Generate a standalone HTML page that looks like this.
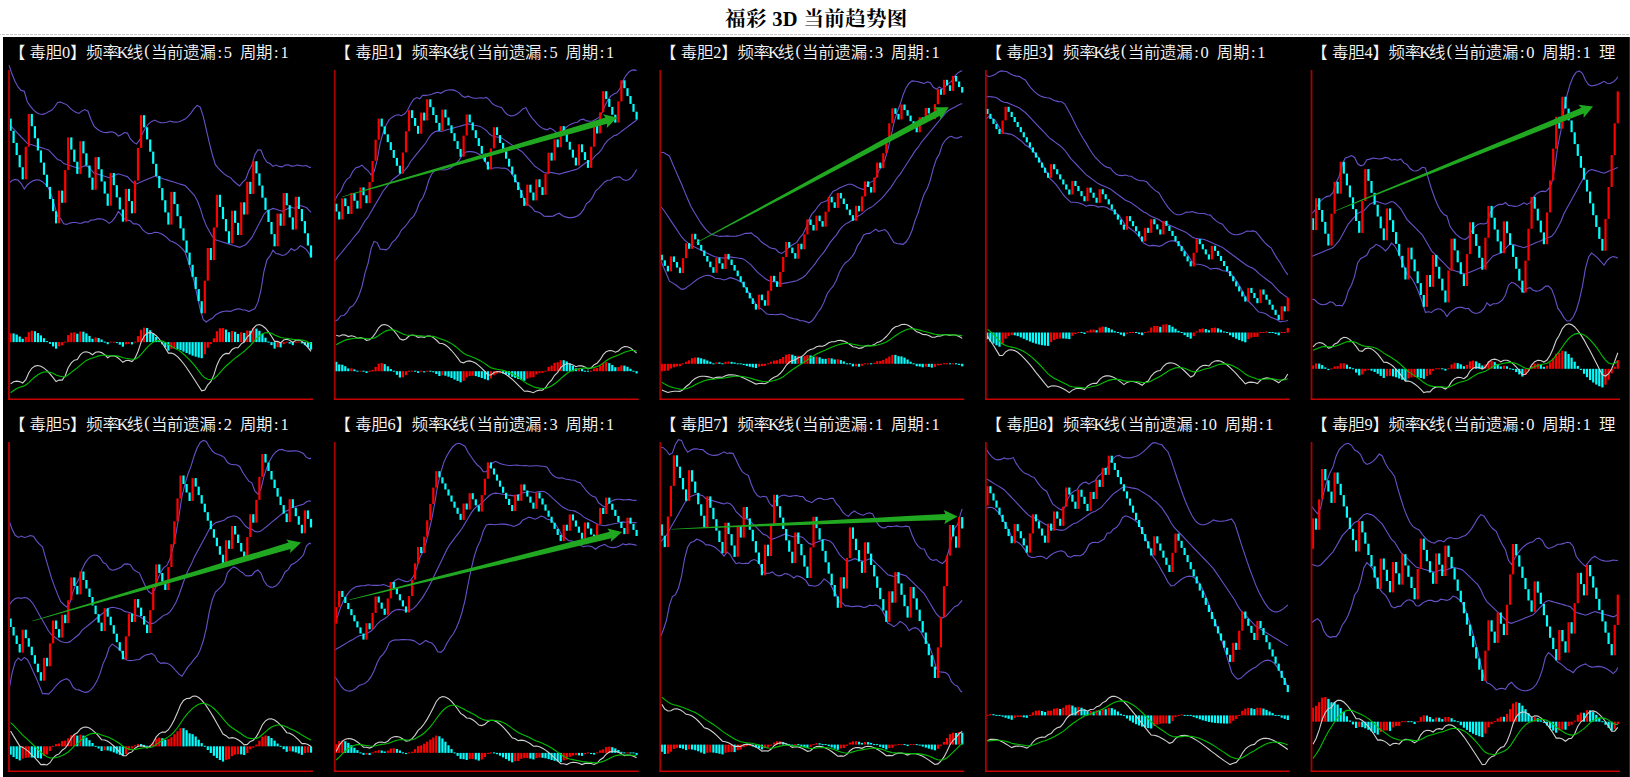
<!DOCTYPE html>
<html><head><meta charset="utf-8"><title>福彩3D当前趋势图</title>
<style>
html,body{margin:0;padding:0;background:#fff;overflow:hidden}
svg{display:block}
.ct{font-family:"Liberation Serif","Noto Sans CJK SC",sans-serif;font-size:16.4px;font-weight:350;fill:#f4f4f4;text-anchor:middle}
.bd{fill:none;stroke:#6652c8;stroke-width:1.1}
.dw{fill:none;stroke:#d0d0d0;stroke-width:1.1}
.dg{fill:none;stroke:#00c000;stroke-width:1.1}
.ar{stroke:#22aa22;stroke-width:2.2}
</style></head><body>
<svg width="1630" height="777" viewBox="0 0 1630 777">

<rect x="0" y="0" width="1630" height="777" fill="#fff"/>
<text x="816.4" y="26" text-anchor="middle" style="font-family:'Liberation Serif','Noto Serif CJK SC',serif;font-weight:bold;font-size:20.5px;letter-spacing:0.35px;fill:#000">福彩 3D 当前趋势图</text>
<line x1="0" y1="34.5" x2="1630" y2="34.5" stroke="#c8c8c8" stroke-width="1" stroke-dasharray="3 1" stroke-dashoffset="-2"/>
<rect x="3" y="37" width="1627" height="740" fill="#000"/>
<rect x="1629" y="37" width="1" height="740" fill="#2c2c2c"/>
<clipPath id="cp0"><rect x="8" y="37" width="323.4" height="372"/></clipPath><g clip-path="url(#cp0)"><text x="17.1 37.8 54 66.1 78.2 94.4 110.6 122.7 134.9 147 159.1 175.3 191.5 207.7 219.8 227.9 236 248.1 264.3 276.4 284.5" y="57.5 57.5 57.5 57.5 57.5 57.5 57.5 57.5 57.5 55.7 57.5 57.5 57.5 57.5 57.5 57.5 57.5 57.5 57.5 57.5 57.5" class="ct">【毒胆0】频率K线(当前遗漏:5&#160;周期:1</text><polyline points="9.1,65.3 12.1,74.3 15.2,81.8 18.2,87.2 21.2,90.4 24.3,91.3 27.3,101.7 30.3,106.1 33.4,109.8 36.4,112.5 39.4,114 42.5,114.4 45.5,113.6 48.5,111.8 51.6,110.3 54.6,107 57.6,102.5 60.7,102.1 63.7,103.5 66.7,104.6 69.8,107.8 72.8,110.4 75.8,112.3 78.9,113.4 81.9,110.9 84.9,109.6 88,111.2 91,119.5 94,126.1 97.1,129 100.1,131.1 103.1,132.3 106.2,132.6 109.2,132.1 112.2,131.7 115.3,133 118.3,136.1 121.3,134.7 124.4,132.5 127.4,133.1 130.4,138.9 133.5,142.1 136.5,144.1 139.5,140.1 142.6,133 145.6,127.7 148.6,123.9 151.7,121.4 154.7,120.1 157.7,121.7 160.8,122.6 163.8,122.7 166.9,122.2 169.9,121 172.9,121.9 176,122.1 179,121.7 182,120.6 185.1,119.1 188.1,116.4 191.1,112.8 194.2,108.4 197.2,105.4 200.2,107.1 203.3,116.6 206.3,129.6 209.3,142.7 212.4,155 215.4,164.7 218.4,168.3 221.5,171.5 224.5,174.1 227.5,176.2 230.6,177.6 233.6,181 236.6,183.7 239.7,185.9 242.7,182.1 245.7,179.5 248.8,170.8 251.8,165.3 254.8,154.9 257.9,149.8 260.9,150.1 263.9,157.5 267,162.2 270,163.5 273,166.4 276.1,165 279.1,166.4 282.1,166.9 285.2,165.1 288.2,164.8 291.2,166.1 294.3,166 297.3,165 300.3,165.6 303.4,166 306.4,165.5 309.4,167.4 311,167.2" class="bd"/><polyline points="9.1,124.2 12.1,127.4 15.2,130.6 18.2,133.8 21.2,137 24.3,140.1 27.3,143.3 30.3,144.3 33.4,145.2 36.4,146.2 39.4,147.1 42.5,148 45.5,149 48.5,149.9 51.6,153.1 54.6,156.3 57.6,159.5 60.7,160.4 63.7,163.6 66.7,164.5 69.8,165.5 72.8,166.4 75.8,167.4 78.9,168.3 81.9,167 84.9,165.7 88,166.6 91,169.8 94,173 97.1,173.9 100.1,174.9 103.1,175.8 106.2,176.8 109.2,177.7 112.2,176.4 115.3,175.1 118.3,173.8 121.3,174.8 124.4,175.7 127.4,176.6 130.4,179.8 133.5,183 136.5,183.9 139.5,182.6 142.6,181.3 145.6,180 148.6,178.7 151.7,177.4 154.7,176.1 157.7,177.1 160.8,178 163.8,179 166.9,179.9 169.9,180.9 172.9,181.8 176,182.7 179,183.7 182,184.6 185.1,185.6 188.1,188.7 191.1,191.9 194.2,195.1 197.2,200.5 200.2,208.2 203.3,218.1 206.3,225.8 209.3,231.2 212.4,236.6 215.4,239.8 218.4,240.8 221.5,241.7 224.5,242.6 227.5,243.6 230.6,244.5 233.6,245.5 236.6,246.4 239.7,247.3 242.7,246 245.7,244.7 248.8,241.2 251.8,237.7 254.8,231.9 257.9,226.1 260.9,220.3 263.9,214.5 267,211 270,209.7 273,208.4 276.1,209.3 279.1,210.3 282.1,211.2 285.2,209.9 288.2,208.6 291.2,207.3 294.3,208.2 297.3,206.9 300.3,205.6 303.4,206.6 306.4,207.5 309.4,210.7 311,212.3" class="bd"/><polyline points="9.1,183.1 12.1,180.5 15.2,179.4 18.2,180.3 21.2,183.5 24.3,189 27.3,185 30.3,182.4 33.4,180.6 36.4,179.8 39.4,180.1 42.5,181.7 45.5,184.4 48.5,188 51.6,195.9 54.6,205.6 57.6,216.4 60.7,218.7 63.7,223.7 66.7,224.4 69.8,223.1 72.8,222.5 75.8,222.5 78.9,223.2 81.9,223.1 84.9,221.8 88,222.1 91,220.1 94,220 97.1,218.9 100.1,218.7 103.1,219.3 106.2,220.9 109.2,223.4 112.2,221.1 115.3,217.2 118.3,211.5 121.3,214.8 124.4,218.9 127.4,220.1 130.4,220.8 133.5,223.9 136.5,223.8 139.5,225.2 142.6,229.7 145.6,232.4 148.6,233.6 151.7,233.5 154.7,232.2 157.7,232.5 160.8,233.5 163.8,235.2 166.9,237.6 169.9,240.7 172.9,241.7 176,243.4 179,245.7 182,248.6 185.1,252.1 188.1,261.1 191.1,271.1 194.2,281.8 197.2,295.6 200.2,309.3 203.3,319.6 206.3,322 209.3,319.7 212.4,318.3 215.4,314.9 218.4,313.2 221.5,311.9 224.5,311.2 227.5,311 230.6,311.4 233.6,310 236.6,309.1 239.7,308.8 242.7,310 245.7,310 248.8,311.6 251.8,310 254.8,308.8 257.9,302.4 260.9,290.5 263.9,271.6 267,259.8 270,255.9 273,250.3 276.1,253.6 279.1,254.1 282.1,255.5 285.2,254.7 288.2,252.4 291.2,248.5 294.3,250.5 297.3,248.9 300.3,245.7 303.4,247.2 306.4,249.6 309.4,254 311,257.4" class="bd"/><rect x="9.5" y="118.6" width="2.2" height="12.2" fill="#00ffff"/><rect x="12.5" y="130.8" width="2.2" height="12.2" fill="#00ffff"/><rect x="15.6" y="142.9" width="2.2" height="12.2" fill="#00ffff"/><rect x="18.6" y="155.1" width="2.2" height="12.2" fill="#00ffff"/><rect x="21.6" y="167.2" width="2.2" height="12.2" fill="#00ffff"/><rect x="24.7" y="146.7" width="2.2" height="32.7" fill="#ff0000"/><rect x="27.7" y="114" width="2.2" height="32.7" fill="#ff0000"/><rect x="30.7" y="114" width="2.2" height="12.2" fill="#00ffff"/><rect x="33.8" y="126.1" width="2.2" height="12.1" fill="#00ffff"/><rect x="36.8" y="138.3" width="2.2" height="12.2" fill="#00ffff"/><rect x="39.8" y="150.4" width="2.2" height="12.2" fill="#00ffff"/><rect x="42.9" y="162.6" width="2.2" height="12.2" fill="#00ffff"/><rect x="45.9" y="174.7" width="2.2" height="12.2" fill="#00ffff"/><rect x="48.9" y="186.9" width="2.2" height="12.2" fill="#00ffff"/><rect x="52" y="199" width="2.2" height="12.2" fill="#00ffff"/><rect x="55" y="211.2" width="2.2" height="12.2" fill="#00ffff"/><rect x="58" y="190.6" width="2.2" height="32.7" fill="#ff0000"/><rect x="61.1" y="190.6" width="2.2" height="12.2" fill="#00ffff"/><rect x="64.1" y="170.1" width="2.2" height="32.7" fill="#ff0000"/><rect x="67.1" y="137.4" width="2.2" height="32.7" fill="#ff0000"/><rect x="70.2" y="137.4" width="2.2" height="12.2" fill="#00ffff"/><rect x="73.2" y="149.6" width="2.2" height="12.2" fill="#00ffff"/><rect x="76.2" y="161.7" width="2.2" height="12.2" fill="#00ffff"/><rect x="79.3" y="141.2" width="2.2" height="32.7" fill="#ff0000"/><rect x="82.3" y="141.2" width="2.2" height="12.2" fill="#00ffff"/><rect x="85.3" y="153.3" width="2.2" height="12.2" fill="#00ffff"/><rect x="88.4" y="165.5" width="2.2" height="12.2" fill="#00ffff"/><rect x="91.4" y="177.6" width="2.2" height="12.2" fill="#00ffff"/><rect x="94.5" y="157.1" width="2.2" height="32.7" fill="#ff0000"/><rect x="97.5" y="157.1" width="2.2" height="12.2" fill="#00ffff"/><rect x="100.5" y="169.3" width="2.2" height="12.2" fill="#00ffff"/><rect x="103.6" y="181.4" width="2.2" height="12.2" fill="#00ffff"/><rect x="106.6" y="193.6" width="2.2" height="12.2" fill="#00ffff"/><rect x="109.6" y="173" width="2.2" height="32.7" fill="#ff0000"/><rect x="112.7" y="173" width="2.2" height="12.2" fill="#00ffff"/><rect x="115.7" y="185.2" width="2.2" height="12.2" fill="#00ffff"/><rect x="118.7" y="197.3" width="2.2" height="12.2" fill="#00ffff"/><rect x="121.8" y="209.5" width="2.2" height="12.2" fill="#00ffff"/><rect x="124.8" y="188.9" width="2.2" height="32.7" fill="#ff0000"/><rect x="127.8" y="188.9" width="2.2" height="12.2" fill="#00ffff"/><rect x="130.9" y="201.1" width="2.2" height="12.2" fill="#00ffff"/><rect x="133.9" y="180.6" width="2.2" height="32.7" fill="#ff0000"/><rect x="136.9" y="147.9" width="2.2" height="32.7" fill="#ff0000"/><rect x="140" y="115.2" width="2.2" height="32.7" fill="#ff0000"/><rect x="143" y="115.2" width="2.2" height="12.2" fill="#00ffff"/><rect x="146" y="127.3" width="2.2" height="12.1" fill="#00ffff"/><rect x="149.1" y="139.5" width="2.2" height="12.2" fill="#00ffff"/><rect x="152.1" y="151.6" width="2.2" height="12.2" fill="#00ffff"/><rect x="155.1" y="163.8" width="2.2" height="12.2" fill="#00ffff"/><rect x="158.2" y="175.9" width="2.2" height="12.2" fill="#00ffff"/><rect x="161.2" y="188.1" width="2.2" height="12.2" fill="#00ffff"/><rect x="164.2" y="200.2" width="2.2" height="12.2" fill="#00ffff"/><rect x="167.3" y="212.4" width="2.2" height="12.2" fill="#00ffff"/><rect x="170.3" y="191.9" width="2.2" height="32.7" fill="#ff0000"/><rect x="173.3" y="191.9" width="2.2" height="12.2" fill="#00ffff"/><rect x="176.4" y="204" width="2.2" height="12.2" fill="#00ffff"/><rect x="179.4" y="216.2" width="2.2" height="12.2" fill="#00ffff"/><rect x="182.4" y="228.3" width="2.2" height="12.2" fill="#00ffff"/><rect x="185.5" y="240.5" width="2.2" height="12.2" fill="#00ffff"/><rect x="188.5" y="252.6" width="2.2" height="12.2" fill="#00ffff"/><rect x="191.5" y="264.8" width="2.2" height="12.1" fill="#00ffff"/><rect x="194.6" y="276.9" width="2.2" height="12.1" fill="#00ffff"/><rect x="197.6" y="289.1" width="2.2" height="12.1" fill="#00ffff"/><rect x="200.6" y="301.2" width="2.2" height="12.1" fill="#00ffff"/><rect x="203.7" y="280.7" width="2.2" height="32.7" fill="#ff0000"/><rect x="206.7" y="248" width="2.2" height="32.7" fill="#ff0000"/><rect x="209.7" y="248" width="2.2" height="12.1" fill="#00ffff"/><rect x="212.8" y="227.5" width="2.2" height="32.7" fill="#ff0000"/><rect x="215.8" y="194.8" width="2.2" height="32.7" fill="#ff0000"/><rect x="218.8" y="194.8" width="2.2" height="12.2" fill="#00ffff"/><rect x="221.9" y="206.9" width="2.2" height="12.2" fill="#00ffff"/><rect x="224.9" y="219.1" width="2.2" height="12.2" fill="#00ffff"/><rect x="227.9" y="231.2" width="2.2" height="12.2" fill="#00ffff"/><rect x="231" y="210.7" width="2.2" height="32.7" fill="#ff0000"/><rect x="234" y="210.7" width="2.2" height="12.2" fill="#00ffff"/><rect x="237" y="222.8" width="2.2" height="12.2" fill="#00ffff"/><rect x="240.1" y="202.3" width="2.2" height="32.7" fill="#ff0000"/><rect x="243.1" y="202.3" width="2.2" height="12.2" fill="#00ffff"/><rect x="246.2" y="181.8" width="2.2" height="32.7" fill="#ff0000"/><rect x="249.2" y="181.8" width="2.2" height="12.2" fill="#00ffff"/><rect x="252.2" y="161.2" width="2.2" height="32.7" fill="#ff0000"/><rect x="255.3" y="161.2" width="2.2" height="12.2" fill="#00ffff"/><rect x="258.3" y="173.4" width="2.2" height="12.2" fill="#00ffff"/><rect x="261.3" y="185.5" width="2.2" height="12.2" fill="#00ffff"/><rect x="264.4" y="197.7" width="2.2" height="12.2" fill="#00ffff"/><rect x="267.4" y="209.8" width="2.2" height="12.2" fill="#00ffff"/><rect x="270.4" y="222" width="2.2" height="12.2" fill="#00ffff"/><rect x="273.5" y="234.1" width="2.2" height="12.2" fill="#00ffff"/><rect x="276.5" y="213.6" width="2.2" height="32.7" fill="#ff0000"/><rect x="279.5" y="213.6" width="2.2" height="12.2" fill="#00ffff"/><rect x="282.6" y="193.1" width="2.2" height="32.7" fill="#ff0000"/><rect x="285.6" y="193.1" width="2.2" height="12.2" fill="#00ffff"/><rect x="288.6" y="205.2" width="2.2" height="12.2" fill="#00ffff"/><rect x="291.7" y="217.4" width="2.2" height="12.2" fill="#00ffff"/><rect x="294.7" y="196.8" width="2.2" height="32.7" fill="#ff0000"/><rect x="297.7" y="196.8" width="2.2" height="12.2" fill="#00ffff"/><rect x="300.8" y="209" width="2.2" height="12.2" fill="#00ffff"/><rect x="303.8" y="221.1" width="2.2" height="12.2" fill="#00ffff"/><rect x="306.8" y="233.3" width="2.2" height="12.2" fill="#00ffff"/><rect x="309.9" y="245.4" width="2.2" height="12.1" fill="#00ffff"/><rect x="9.5" y="333.4" width="2.2" height="8.8" fill="#ff0000"/><rect x="12.5" y="333.4" width="2.2" height="8.7" fill="#00ffff"/><rect x="15.6" y="334.6" width="2.2" height="7.5" fill="#00ffff"/><rect x="18.6" y="336.5" width="2.2" height="5.6" fill="#00ffff"/><rect x="21.6" y="338.8" width="2.2" height="3.3" fill="#00ffff"/><rect x="24.7" y="336.8" width="2.2" height="5.3" fill="#ff0000"/><rect x="27.7" y="332.2" width="2.2" height="9.9" fill="#ff0000"/><rect x="30.7" y="330.7" width="2.2" height="11.4" fill="#ff0000"/><rect x="33.8" y="331.2" width="2.2" height="10.9" fill="#00ffff"/><rect x="36.8" y="333" width="2.2" height="9.2" fill="#00ffff"/><rect x="39.8" y="335.4" width="2.2" height="6.7" fill="#00ffff"/><rect x="42.9" y="338.2" width="2.2" height="3.9" fill="#00ffff"/><rect x="45.9" y="341.1" width="2.2" height="1" fill="#00ffff"/><rect x="48.9" y="342.1" width="2.2" height="1.7" fill="#00ffff"/><rect x="52" y="342.1" width="2.2" height="4.3" fill="#00ffff"/><rect x="55" y="342.1" width="2.2" height="6.6" fill="#00ffff"/><rect x="58" y="342.1" width="2.2" height="4.2" fill="#ff0000"/><rect x="61.1" y="342.1" width="2.2" height="3.3" fill="#ff0000"/><rect x="64.1" y="341.6" width="2.2" height="1" fill="#ff0000"/><rect x="67.1" y="335.1" width="2.2" height="7" fill="#ff0000"/><rect x="70.2" y="332.6" width="2.2" height="9.5" fill="#ff0000"/><rect x="73.2" y="332.4" width="2.2" height="9.7" fill="#ff0000"/><rect x="76.2" y="333.7" width="2.2" height="8.4" fill="#00ffff"/><rect x="79.3" y="331.5" width="2.2" height="10.6" fill="#ff0000"/><rect x="82.3" y="331.7" width="2.2" height="10.4" fill="#00ffff"/><rect x="85.3" y="333.4" width="2.2" height="8.8" fill="#00ffff"/><rect x="88.4" y="335.9" width="2.2" height="6.2" fill="#00ffff"/><rect x="91.4" y="338.8" width="2.2" height="3.3" fill="#00ffff"/><rect x="94.5" y="337.5" width="2.2" height="4.6" fill="#ff0000"/><rect x="97.5" y="338" width="2.2" height="4.2" fill="#00ffff"/><rect x="100.5" y="339.5" width="2.2" height="2.6" fill="#00ffff"/><rect x="103.6" y="341.6" width="2.2" height="1" fill="#00ffff"/><rect x="106.6" y="342.1" width="2.2" height="2.1" fill="#00ffff"/><rect x="109.6" y="341.6" width="2.2" height="1" fill="#ff0000"/><rect x="112.7" y="341.6" width="2.2" height="1" fill="#ff0000"/><rect x="115.7" y="342.1" width="2.2" height="1" fill="#00ffff"/><rect x="118.7" y="342.1" width="2.2" height="2.6" fill="#00ffff"/><rect x="121.8" y="342.1" width="2.2" height="4.6" fill="#00ffff"/><rect x="124.8" y="342.1" width="2.2" height="2.2" fill="#ff0000"/><rect x="127.8" y="342.1" width="2.2" height="1.7" fill="#ff0000"/><rect x="130.9" y="342.1" width="2.2" height="2.3" fill="#00ffff"/><rect x="133.9" y="341.6" width="2.2" height="1" fill="#ff0000"/><rect x="136.9" y="336.1" width="2.2" height="6.1" fill="#ff0000"/><rect x="140" y="329.8" width="2.2" height="12.4" fill="#ff0000"/><rect x="143" y="327.6" width="2.2" height="14.6" fill="#ff0000"/><rect x="146" y="328" width="2.2" height="14.1" fill="#00ffff"/><rect x="149.1" y="330.2" width="2.2" height="11.9" fill="#00ffff"/><rect x="152.1" y="333.4" width="2.2" height="8.8" fill="#00ffff"/><rect x="155.1" y="337" width="2.2" height="5.1" fill="#00ffff"/><rect x="158.2" y="340.7" width="2.2" height="1.4" fill="#00ffff"/><rect x="161.2" y="342.1" width="2.2" height="2.2" fill="#00ffff"/><rect x="164.2" y="342.1" width="2.2" height="5.5" fill="#00ffff"/><rect x="167.3" y="342.1" width="2.2" height="8.5" fill="#00ffff"/><rect x="170.3" y="342.1" width="2.2" height="6.7" fill="#ff0000"/><rect x="173.3" y="342.1" width="2.2" height="6.4" fill="#ff0000"/><rect x="176.4" y="342.1" width="2.2" height="7" fill="#00ffff"/><rect x="179.4" y="342.1" width="2.2" height="8.1" fill="#00ffff"/><rect x="182.4" y="342.1" width="2.2" height="9.5" fill="#00ffff"/><rect x="185.5" y="342.1" width="2.2" height="10.9" fill="#00ffff"/><rect x="188.5" y="342.1" width="2.2" height="12.3" fill="#00ffff"/><rect x="191.5" y="342.1" width="2.2" height="13.6" fill="#00ffff"/><rect x="194.6" y="342.1" width="2.2" height="14.6" fill="#00ffff"/><rect x="197.6" y="342.1" width="2.2" height="15.5" fill="#00ffff"/><rect x="200.6" y="342.1" width="2.2" height="16.1" fill="#00ffff"/><rect x="203.7" y="342.1" width="2.2" height="12.2" fill="#ff0000"/><rect x="206.7" y="342.1" width="2.2" height="5.6" fill="#ff0000"/><rect x="209.7" y="342.1" width="2.2" height="2" fill="#ff0000"/><rect x="212.8" y="338.3" width="2.2" height="3.9" fill="#ff0000"/><rect x="215.8" y="331.2" width="2.2" height="10.9" fill="#ff0000"/><rect x="218.8" y="328.3" width="2.2" height="13.8" fill="#ff0000"/><rect x="221.9" y="328.1" width="2.2" height="14" fill="#ff0000"/><rect x="224.9" y="329.6" width="2.2" height="12.5" fill="#00ffff"/><rect x="227.9" y="332.2" width="2.2" height="9.9" fill="#00ffff"/><rect x="231" y="331" width="2.2" height="11.2" fill="#ff0000"/><rect x="234" y="331.8" width="2.2" height="10.3" fill="#00ffff"/><rect x="237" y="333.9" width="2.2" height="8.2" fill="#00ffff"/><rect x="240.1" y="332.3" width="2.2" height="9.8" fill="#ff0000"/><rect x="243.1" y="332.9" width="2.2" height="9.2" fill="#00ffff"/><rect x="246.2" y="330.5" width="2.2" height="11.6" fill="#ff0000"/><rect x="249.2" y="330.8" width="2.2" height="11.4" fill="#00ffff"/><rect x="252.2" y="328.3" width="2.2" height="13.8" fill="#ff0000"/><rect x="255.3" y="328.6" width="2.2" height="13.5" fill="#00ffff"/><rect x="258.3" y="330.8" width="2.2" height="11.3" fill="#00ffff"/><rect x="261.3" y="334" width="2.2" height="8.2" fill="#00ffff"/><rect x="264.4" y="337.7" width="2.2" height="4.5" fill="#00ffff"/><rect x="267.4" y="341.6" width="2.2" height="1" fill="#00ffff"/><rect x="270.4" y="342.1" width="2.2" height="3" fill="#00ffff"/><rect x="273.5" y="342.1" width="2.2" height="6.5" fill="#00ffff"/><rect x="276.5" y="342.1" width="2.2" height="5.1" fill="#ff0000"/><rect x="279.5" y="342.1" width="2.2" height="5.3" fill="#00ffff"/><rect x="282.6" y="342.1" width="2.2" height="2" fill="#ff0000"/><rect x="285.6" y="341.6" width="2.2" height="1" fill="#ff0000"/><rect x="288.6" y="342.1" width="2.2" height="1.5" fill="#00ffff"/><rect x="291.7" y="342.1" width="2.2" height="3" fill="#00ffff"/><rect x="294.7" y="341.6" width="2.2" height="1" fill="#ff0000"/><rect x="297.7" y="341.6" width="2.2" height="1" fill="#ff0000"/><rect x="300.8" y="342.1" width="2.2" height="1.3" fill="#00ffff"/><rect x="303.8" y="342.1" width="2.2" height="3.1" fill="#00ffff"/><rect x="306.8" y="342.1" width="2.2" height="5.2" fill="#00ffff"/><rect x="309.9" y="342.1" width="2.2" height="7.5" fill="#00ffff"/><polyline points="10.6,383.9 13.6,381.7 16.7,381.1 19.7,381.6 22.7,383 25.8,379.7 28.8,372.7 31.8,368.3 34.9,366.1 37.9,365.5 40.9,366.3 44,368.1 47,370.7 50,373.9 53.1,377.6 56.1,381.5 59.1,380.1 62.2,380.1 65.2,375.7 68.2,367.8 71.3,362.9 74.3,360.2 77.3,359.5 80.4,354.7 83.4,352.2 86.4,351.7 89.5,352.7 92.5,354.8 95.6,352.3 98.6,351.7 101.6,352.6 104.7,354.7 107.7,357.7 110.7,355.9 113.8,355.7 116.8,357 119.8,359.3 122.9,362.3 125.9,360.5 128.9,360.4 132,361.5 135,358.2 138,351.5 141.1,342.1 144.1,336.3 147.1,333.2 150.2,332.4 153.2,333.4 156.2,335.7 159.3,339.1 162.3,343.2 165.3,348 168.4,353.1 171.4,353 174.4,354.3 177.5,356.6 180.5,359.8 183.5,363.5 186.6,367.7 189.6,372.2 192.6,376.8 195.7,381.5 198.7,386.2 201.7,390.9 204.8,390 207.8,384.8 210.8,381.7 213.9,374.9 216.9,365.2 219.9,358.8 223,355 226,353.4 229,353.6 232.1,349.5 235.1,347.8 238.1,347.8 241.2,343.8 244.2,342.1 247.3,336.8 250.3,334.2 253.3,328.3 256.4,325.2 259.4,324.5 262.4,325.7 265.5,328.2 268.5,331.9 271.5,336.3 274.6,341.4 277.6,341.4 280.6,342.8 283.7,340 286.7,339.3 289.7,340.2 292.8,342.5 295.8,340.2 298.8,340 301.9,341.3 304.9,343.8 307.9,347.3 311,351.4" class="dw"/><polyline points="10.6,392.7 13.6,390.5 16.7,388.6 19.7,387.2 22.7,386.4 25.8,385 28.8,382.6 31.8,379.7 34.9,377 37.9,374.7 40.9,373 44,372 47,371.8 50,372.2 53.1,373.3 56.1,374.9 59.1,376 62.2,376.8 65.2,376.6 68.2,374.8 71.3,372.4 74.3,370 77.3,367.9 80.4,365.2 83.4,362.6 86.4,360.4 89.5,358.9 92.5,358.1 95.6,356.9 98.6,355.9 101.6,355.2 104.7,355.1 107.7,355.6 110.7,355.7 113.8,355.7 116.8,355.9 119.8,356.6 122.9,357.8 125.9,358.3 128.9,358.7 132,359.3 135,359.1 138,357.6 141.1,354.5 144.1,350.8 147.1,347.3 150.2,344.3 153.2,342.1 156.2,340.8 159.3,340.5 162.3,341 165.3,342.4 168.4,344.6 171.4,346.2 174.4,347.9 177.5,349.6 180.5,351.6 183.5,354 186.6,356.8 189.6,359.8 192.6,363.2 195.7,366.9 198.7,370.8 201.7,374.8 204.8,377.8 207.8,379.2 210.8,379.7 213.9,378.8 216.9,376 219.9,372.6 223,369.1 226,366 229,363.5 232.1,360.7 235.1,358.1 238.1,356 241.2,353.6 244.2,351.3 247.3,348.4 250.3,345.6 253.3,342.1 256.4,338.7 259.4,335.9 262.4,333.8 265.5,332.7 268.5,332.6 271.5,333.3 274.6,334.9 277.6,336.2 280.6,337.5 283.7,338 286.7,338.3 289.7,338.7 292.8,339.4 295.8,339.6 298.8,339.7 301.9,340 304.9,340.8 307.9,342.1 311,343.9" class="dg"/><rect x="8" y="70" width="2" height="329.5" fill="#a80000"/><rect x="8" y="398.5" width="305" height="1.5" fill="#c80000"/></g><clipPath id="cp1"><rect x="333.6" y="37" width="323.4" height="372"/></clipPath><g clip-path="url(#cp1)"><text x="342.7 363.4 379.6 391.7 403.8 420 436.2 448.3 460.4 472.6 484.7 500.9 517.1 533.3 545.4 553.5 561.6 573.7 589.9 602 610.1" y="57.5 57.5 57.5 57.5 57.5 57.5 57.5 57.5 57.5 55.7 57.5 57.5 57.5 57.5 57.5 57.5 57.5 57.5 57.5 57.5 57.5" class="ct">【毒胆1】频率K线(当前遗漏:5&#160;周期:1</text><polyline points="334.7,200.8 337.7,194.7 340.8,191.3 343.8,184 346.8,179.3 349.9,177.1 352.9,171.2 355.9,167.8 359,166.9 362,165.1 365,168.3 368.1,170.8 371.1,174.9 374.1,171.7 377.2,160.2 380.2,143.1 383.2,132.5 386.3,124.7 389.3,119.7 392.3,117.2 395.4,115.2 398.4,114.7 401.4,115.7 404.5,114 407.5,110.3 410.5,104.3 413.6,99.5 416.6,97.6 419.6,98.8 422.7,95.4 425.7,95.4 428.7,95 431.8,94.3 434.8,93.1 437.8,92.3 440.9,93.3 443.9,91.3 446.9,90.2 450,89.7 453,89.9 456,90.9 459.1,92.9 462.1,96 465.1,97.3 468.2,96.2 471.2,97.5 474.2,98.2 477.3,98.3 480.3,97.7 483.3,98.2 486.4,97.4 489.4,100.1 492.5,103.8 495.5,105.6 498.5,106.8 501.6,107.4 504.6,111.8 507.6,114.7 510.7,115.9 513.7,115.7 516.7,114.2 519.8,111.9 522.8,108.9 525.8,107.6 528.9,113.4 531.9,117.9 534.9,121.2 538,124.8 541,127.4 544,128.9 547.1,129.8 550.1,128.1 553.1,129.7 556.2,132.5 559.2,135 562.2,131.1 565.3,128 568.3,125.6 571.3,123.9 574.4,122.7 577.4,122.2 580.4,119.8 583.5,119.2 586.5,120.9 589.5,121.2 592.6,121 595.6,119.5 598.6,117.7 601.7,113.4 604.7,106.3 607.7,100.4 610.8,96.1 613.8,94 616.8,92.8 619.9,88.6 622.9,81 625.9,75.6 629,72 632,70.1 635,69.9 636.6,70.7" class="bd"/><polyline points="334.7,261 337.7,257.2 340.8,253.5 343.8,249.8 346.8,246 349.9,242.3 352.9,238.5 355.9,234.8 359,231.1 362,225.9 365,220.7 368.1,216.9 371.1,211.7 374.1,206.6 377.2,201.4 380.2,196.2 383.2,191 386.3,187.2 389.3,183.5 392.3,179.8 395.4,177.5 398.4,175.2 401.4,172.9 404.5,170.6 407.5,166.9 410.5,161.7 413.6,157.9 416.6,154.2 419.6,150.4 422.7,146.7 425.7,143 428.7,137.8 431.8,134 434.8,131.7 437.8,130.9 440.9,131.5 443.9,130.7 446.9,129.8 450,129 453,128.1 456,127.3 459.1,126.5 462.1,125.6 465.1,124.8 468.2,123.9 471.2,124.5 474.2,125.2 477.3,125.8 480.3,126.4 483.3,128.4 486.4,130.5 489.4,134 492.5,136.1 495.5,136.7 498.5,137.3 501.6,137.9 504.6,139.9 507.6,142 510.7,144.1 513.7,146.1 516.7,148.2 519.8,150.2 522.8,152.3 525.8,155.8 528.9,159.3 531.9,162.8 534.9,166.3 538,168.4 541,170.5 544,172.5 547.1,173.1 550.1,172.3 553.1,172.9 556.2,173.5 559.2,174.1 562.2,173.3 565.3,172.4 568.3,171.6 571.3,170.7 574.4,169.9 577.4,169.1 580.4,166.8 583.5,164.5 586.5,162.2 589.5,161.3 592.6,159.1 595.6,155.3 598.6,153 601.7,149.3 604.7,144.1 607.7,140.3 610.8,138.1 613.8,135.8 616.8,134.9 619.9,132.6 622.9,130.3 625.9,128.1 629,125.8 632,123.5 635,121.2 636.6,120" class="bd"/><polyline points="334.7,321.2 337.7,319.8 340.8,315.7 343.8,315.5 346.8,312.7 349.9,307.4 352.9,305.9 355.9,301.8 359,295.3 362,286.6 365,273.1 368.1,263.1 371.1,248.6 374.1,241.4 377.2,242.6 380.2,249.2 383.2,249.4 386.3,249.8 389.3,247.3 392.3,242.3 395.4,239.7 398.4,235.7 401.4,230 404.5,227.2 407.5,223.5 410.5,219 413.6,216.3 416.6,210.8 419.6,202.1 422.7,198 425.7,190.5 428.7,180.5 431.8,173.8 434.8,170.4 437.8,169.5 440.9,169.7 443.9,170 446.9,169.5 450,168.3 453,166.4 456,163.7 459.1,160.1 462.1,155.3 465.1,152.3 468.2,151.6 471.2,151.6 474.2,152.1 477.3,153.3 480.3,155 483.3,158.6 486.4,163.6 489.4,167.9 492.5,168.3 495.5,167.8 498.5,167.8 501.6,168.3 504.6,168.1 507.6,169.3 510.7,172.2 513.7,176.6 516.7,182.1 519.8,188.6 522.8,195.7 525.8,204 528.9,205.3 531.9,207.7 534.9,211.4 538,212 541,213.5 544,216.1 547.1,216.4 550.1,216.4 553.1,216.1 556.2,214.5 559.2,213.2 562.2,215.5 565.3,216.9 568.3,217.6 571.3,217.6 574.4,217.1 577.4,215.9 580.4,213.8 583.5,209.7 586.5,203.5 589.5,201.5 592.6,197.1 595.6,191.1 598.6,188.3 601.7,185.1 604.7,181.9 607.7,180.3 610.8,180 613.8,177.6 616.8,177 619.9,176.7 622.9,179.6 625.9,180.5 629,179.5 632,176.8 635,172.5 636.6,169.4" class="bd"/><rect x="335.1" y="203.7" width="2.2" height="7.9" fill="#00ffff"/><rect x="338.1" y="211.6" width="2.2" height="7.9" fill="#00ffff"/><rect x="341.2" y="198.3" width="2.2" height="21.1" fill="#ff0000"/><rect x="344.2" y="198.3" width="2.2" height="7.9" fill="#00ffff"/><rect x="347.2" y="206.1" width="2.2" height="7.9" fill="#00ffff"/><rect x="350.3" y="192.9" width="2.2" height="21.1" fill="#ff0000"/><rect x="353.3" y="192.9" width="2.2" height="7.9" fill="#00ffff"/><rect x="356.3" y="200.7" width="2.2" height="7.9" fill="#00ffff"/><rect x="359.4" y="187.4" width="2.2" height="21.1" fill="#ff0000"/><rect x="362.4" y="187.4" width="2.2" height="7.9" fill="#00ffff"/><rect x="365.4" y="195.3" width="2.2" height="7.9" fill="#00ffff"/><rect x="368.5" y="182" width="2.2" height="21.1" fill="#ff0000"/><rect x="371.5" y="160.9" width="2.2" height="21.1" fill="#ff0000"/><rect x="374.5" y="139.7" width="2.2" height="21.1" fill="#ff0000"/><rect x="377.6" y="118.6" width="2.2" height="21.1" fill="#ff0000"/><rect x="380.6" y="118.6" width="2.2" height="7.9" fill="#00ffff"/><rect x="383.6" y="126.4" width="2.2" height="7.9" fill="#00ffff"/><rect x="386.7" y="134.3" width="2.2" height="7.9" fill="#00ffff"/><rect x="389.7" y="142.2" width="2.2" height="7.9" fill="#00ffff"/><rect x="392.7" y="150" width="2.2" height="7.9" fill="#00ffff"/><rect x="395.8" y="157.9" width="2.2" height="7.9" fill="#00ffff"/><rect x="398.8" y="165.7" width="2.2" height="7.9" fill="#00ffff"/><rect x="401.8" y="152.5" width="2.2" height="21.1" fill="#ff0000"/><rect x="404.9" y="131.3" width="2.2" height="21.1" fill="#ff0000"/><rect x="407.9" y="110.2" width="2.2" height="21.1" fill="#ff0000"/><rect x="411" y="110.2" width="2.2" height="7.9" fill="#00ffff"/><rect x="414" y="118" width="2.2" height="7.9" fill="#00ffff"/><rect x="417" y="125.9" width="2.2" height="7.9" fill="#00ffff"/><rect x="420.1" y="112.6" width="2.2" height="21.1" fill="#ff0000"/><rect x="423.1" y="112.6" width="2.2" height="7.9" fill="#00ffff"/><rect x="426.1" y="99.3" width="2.2" height="21.1" fill="#ff0000"/><rect x="429.2" y="99.3" width="2.2" height="7.9" fill="#00ffff"/><rect x="432.2" y="107.2" width="2.2" height="7.9" fill="#00ffff"/><rect x="435.2" y="115" width="2.2" height="7.9" fill="#00ffff"/><rect x="438.3" y="122.9" width="2.2" height="7.9" fill="#00ffff"/><rect x="441.3" y="109.6" width="2.2" height="21.1" fill="#ff0000"/><rect x="444.3" y="109.6" width="2.2" height="7.9" fill="#00ffff"/><rect x="447.4" y="117.5" width="2.2" height="7.9" fill="#00ffff"/><rect x="450.4" y="125.3" width="2.2" height="7.9" fill="#00ffff"/><rect x="453.4" y="133.2" width="2.2" height="7.9" fill="#00ffff"/><rect x="456.5" y="141.1" width="2.2" height="7.9" fill="#00ffff"/><rect x="459.5" y="148.9" width="2.2" height="7.9" fill="#00ffff"/><rect x="462.5" y="135.6" width="2.2" height="21.1" fill="#ff0000"/><rect x="465.6" y="114.5" width="2.2" height="21.1" fill="#ff0000"/><rect x="468.6" y="114.5" width="2.2" height="7.9" fill="#00ffff"/><rect x="471.6" y="122.4" width="2.2" height="7.9" fill="#00ffff"/><rect x="474.7" y="130.2" width="2.2" height="7.9" fill="#00ffff"/><rect x="477.7" y="138.1" width="2.2" height="7.9" fill="#00ffff"/><rect x="480.7" y="145.9" width="2.2" height="7.9" fill="#00ffff"/><rect x="483.8" y="153.8" width="2.2" height="7.9" fill="#00ffff"/><rect x="486.8" y="161.7" width="2.2" height="7.9" fill="#00ffff"/><rect x="489.8" y="148.4" width="2.2" height="21.1" fill="#ff0000"/><rect x="492.9" y="127.2" width="2.2" height="21.1" fill="#ff0000"/><rect x="495.9" y="127.2" width="2.2" height="7.9" fill="#00ffff"/><rect x="498.9" y="135.1" width="2.2" height="7.9" fill="#00ffff"/><rect x="502" y="142.9" width="2.2" height="7.9" fill="#00ffff"/><rect x="505" y="150.8" width="2.2" height="7.9" fill="#00ffff"/><rect x="508" y="158.7" width="2.2" height="7.9" fill="#00ffff"/><rect x="511.1" y="166.5" width="2.2" height="7.9" fill="#00ffff"/><rect x="514.1" y="174.4" width="2.2" height="7.9" fill="#00ffff"/><rect x="517.1" y="182.2" width="2.2" height="7.9" fill="#00ffff"/><rect x="520.2" y="190.1" width="2.2" height="7.9" fill="#00ffff"/><rect x="523.2" y="198" width="2.2" height="7.9" fill="#00ffff"/><rect x="526.2" y="184.7" width="2.2" height="21.1" fill="#ff0000"/><rect x="529.3" y="184.7" width="2.2" height="7.9" fill="#00ffff"/><rect x="532.3" y="192.5" width="2.2" height="7.9" fill="#00ffff"/><rect x="535.3" y="179.3" width="2.2" height="21.1" fill="#ff0000"/><rect x="538.4" y="179.3" width="2.2" height="7.9" fill="#00ffff"/><rect x="541.4" y="187.1" width="2.2" height="7.9" fill="#00ffff"/><rect x="544.4" y="173.8" width="2.2" height="21.1" fill="#ff0000"/><rect x="547.5" y="152.7" width="2.2" height="21.1" fill="#ff0000"/><rect x="550.5" y="152.7" width="2.2" height="7.9" fill="#00ffff"/><rect x="553.5" y="139.4" width="2.2" height="21.1" fill="#ff0000"/><rect x="556.6" y="139.4" width="2.2" height="7.9" fill="#00ffff"/><rect x="559.6" y="126.1" width="2.2" height="21.1" fill="#ff0000"/><rect x="562.6" y="126.1" width="2.2" height="7.9" fill="#00ffff"/><rect x="565.7" y="134" width="2.2" height="7.9" fill="#00ffff"/><rect x="568.7" y="141.8" width="2.2" height="7.9" fill="#00ffff"/><rect x="571.8" y="149.7" width="2.2" height="7.9" fill="#00ffff"/><rect x="574.8" y="157.6" width="2.2" height="7.9" fill="#00ffff"/><rect x="577.8" y="144.3" width="2.2" height="21.1" fill="#ff0000"/><rect x="580.9" y="144.3" width="2.2" height="7.9" fill="#00ffff"/><rect x="583.9" y="152.1" width="2.2" height="7.9" fill="#00ffff"/><rect x="586.9" y="160" width="2.2" height="7.9" fill="#00ffff"/><rect x="590" y="146.7" width="2.2" height="21.1" fill="#ff0000"/><rect x="593" y="125.6" width="2.2" height="21.1" fill="#ff0000"/><rect x="596" y="125.6" width="2.2" height="7.9" fill="#00ffff"/><rect x="599.1" y="112.3" width="2.2" height="21.1" fill="#ff0000"/><rect x="602.1" y="91.2" width="2.2" height="21.1" fill="#ff0000"/><rect x="605.1" y="91.2" width="2.2" height="7.9" fill="#00ffff"/><rect x="608.2" y="99" width="2.2" height="7.9" fill="#00ffff"/><rect x="611.2" y="106.9" width="2.2" height="7.9" fill="#00ffff"/><rect x="614.2" y="114.7" width="2.2" height="7.9" fill="#00ffff"/><rect x="617.3" y="101.4" width="2.2" height="21.1" fill="#ff0000"/><rect x="620.3" y="80.3" width="2.2" height="21.1" fill="#ff0000"/><rect x="623.3" y="80.3" width="2.2" height="7.9" fill="#00ffff"/><rect x="626.4" y="88.2" width="2.2" height="7.9" fill="#00ffff"/><rect x="629.4" y="96" width="2.2" height="7.9" fill="#00ffff"/><rect x="632.4" y="103.9" width="2.2" height="7.9" fill="#00ffff"/><rect x="635.5" y="111.7" width="2.2" height="7.9" fill="#00ffff"/><rect x="335.1" y="361.8" width="2.2" height="9.5" fill="#00ffff"/><rect x="338.1" y="364.4" width="2.2" height="6.9" fill="#00ffff"/><rect x="341.2" y="364.7" width="2.2" height="6.6" fill="#00ffff"/><rect x="344.2" y="366.2" width="2.2" height="5" fill="#00ffff"/><rect x="347.2" y="368.4" width="2.2" height="2.8" fill="#00ffff"/><rect x="350.3" y="368.3" width="2.2" height="2.9" fill="#ff0000"/><rect x="353.3" y="369.4" width="2.2" height="1.8" fill="#00ffff"/><rect x="356.3" y="370.7" width="2.2" height="1" fill="#00ffff"/><rect x="359.4" y="370.7" width="2.2" height="1" fill="#ff0000"/><rect x="362.4" y="370.7" width="2.2" height="1" fill="#00ffff"/><rect x="365.4" y="371.2" width="2.2" height="1.7" fill="#00ffff"/><rect x="368.5" y="370.7" width="2.2" height="1" fill="#ff0000"/><rect x="371.5" y="369.9" width="2.2" height="1.4" fill="#ff0000"/><rect x="374.5" y="366.9" width="2.2" height="4.4" fill="#ff0000"/><rect x="377.6" y="363.6" width="2.2" height="7.6" fill="#ff0000"/><rect x="380.6" y="363" width="2.2" height="8.3" fill="#ff0000"/><rect x="383.6" y="364.1" width="2.2" height="7.1" fill="#00ffff"/><rect x="386.7" y="366.3" width="2.2" height="5" fill="#00ffff"/><rect x="389.7" y="369" width="2.2" height="2.2" fill="#00ffff"/><rect x="392.7" y="370.7" width="2.2" height="1" fill="#00ffff"/><rect x="395.8" y="371.2" width="2.2" height="3.6" fill="#00ffff"/><rect x="398.8" y="371.2" width="2.2" height="6.3" fill="#00ffff"/><rect x="401.8" y="371.2" width="2.2" height="6.1" fill="#ff0000"/><rect x="404.9" y="371.2" width="2.2" height="4" fill="#ff0000"/><rect x="407.9" y="370.7" width="2.2" height="1" fill="#ff0000"/><rect x="411" y="370.7" width="2.2" height="1" fill="#ff0000"/><rect x="414" y="370.7" width="2.2" height="1" fill="#00ffff"/><rect x="417" y="371.2" width="2.2" height="1.7" fill="#00ffff"/><rect x="420.1" y="370.7" width="2.2" height="1" fill="#ff0000"/><rect x="423.1" y="371.2" width="2.2" height="1.2" fill="#00ffff"/><rect x="426.1" y="370.7" width="2.2" height="1" fill="#ff0000"/><rect x="429.2" y="370.7" width="2.2" height="1" fill="#00ffff"/><rect x="432.2" y="371.2" width="2.2" height="1.1" fill="#00ffff"/><rect x="435.2" y="371.2" width="2.2" height="2.8" fill="#00ffff"/><rect x="438.3" y="371.2" width="2.2" height="4.8" fill="#00ffff"/><rect x="441.3" y="371.2" width="2.2" height="4.1" fill="#ff0000"/><rect x="444.3" y="371.2" width="2.2" height="4.5" fill="#00ffff"/><rect x="447.4" y="371.2" width="2.2" height="5.5" fill="#00ffff"/><rect x="450.4" y="371.2" width="2.2" height="6.8" fill="#00ffff"/><rect x="453.4" y="371.2" width="2.2" height="8.3" fill="#00ffff"/><rect x="456.5" y="371.2" width="2.2" height="9.7" fill="#00ffff"/><rect x="459.5" y="371.2" width="2.2" height="11.1" fill="#00ffff"/><rect x="462.5" y="371.2" width="2.2" height="9.6" fill="#ff0000"/><rect x="465.6" y="371.2" width="2.2" height="6.3" fill="#ff0000"/><rect x="468.6" y="371.2" width="2.2" height="4.8" fill="#ff0000"/><rect x="471.6" y="371.2" width="2.2" height="4.5" fill="#ff0000"/><rect x="474.7" y="371.2" width="2.2" height="4.9" fill="#00ffff"/><rect x="477.7" y="371.2" width="2.2" height="5.8" fill="#00ffff"/><rect x="480.7" y="371.2" width="2.2" height="6.8" fill="#00ffff"/><rect x="483.8" y="371.2" width="2.2" height="8" fill="#00ffff"/><rect x="486.8" y="371.2" width="2.2" height="9" fill="#00ffff"/><rect x="489.8" y="371.2" width="2.2" height="7.3" fill="#ff0000"/><rect x="492.9" y="371.2" width="2.2" height="4" fill="#ff0000"/><rect x="495.9" y="371.2" width="2.2" height="2.4" fill="#ff0000"/><rect x="498.9" y="371.2" width="2.2" height="2" fill="#ff0000"/><rect x="502" y="371.2" width="2.2" height="2.4" fill="#00ffff"/><rect x="505" y="371.2" width="2.2" height="3.3" fill="#00ffff"/><rect x="508" y="371.2" width="2.2" height="4.4" fill="#00ffff"/><rect x="511.1" y="371.2" width="2.2" height="5.6" fill="#00ffff"/><rect x="514.1" y="371.2" width="2.2" height="6.7" fill="#00ffff"/><rect x="517.1" y="371.2" width="2.2" height="7.8" fill="#00ffff"/><rect x="520.2" y="371.2" width="2.2" height="8.7" fill="#00ffff"/><rect x="523.2" y="371.2" width="2.2" height="9.5" fill="#00ffff"/><rect x="526.2" y="371.2" width="2.2" height="7.4" fill="#ff0000"/><rect x="529.3" y="371.2" width="2.2" height="6.4" fill="#ff0000"/><rect x="532.3" y="371.2" width="2.2" height="6" fill="#ff0000"/><rect x="535.3" y="371.2" width="2.2" height="3.3" fill="#ff0000"/><rect x="538.4" y="371.2" width="2.2" height="2" fill="#ff0000"/><rect x="541.4" y="371.2" width="2.2" height="1.7" fill="#ff0000"/><rect x="544.4" y="370.7" width="2.2" height="1" fill="#ff0000"/><rect x="547.5" y="366.9" width="2.2" height="4.3" fill="#ff0000"/><rect x="550.5" y="365.5" width="2.2" height="5.7" fill="#ff0000"/><rect x="553.5" y="362.8" width="2.2" height="8.4" fill="#ff0000"/><rect x="556.6" y="362.2" width="2.2" height="9.1" fill="#ff0000"/><rect x="559.6" y="360.2" width="2.2" height="11" fill="#ff0000"/><rect x="562.6" y="360.2" width="2.2" height="11" fill="#00ffff"/><rect x="565.7" y="361.5" width="2.2" height="9.8" fill="#00ffff"/><rect x="568.7" y="363.5" width="2.2" height="7.8" fill="#00ffff"/><rect x="571.8" y="365.9" width="2.2" height="5.4" fill="#00ffff"/><rect x="574.8" y="368.4" width="2.2" height="2.8" fill="#00ffff"/><rect x="577.8" y="368.2" width="2.2" height="3.1" fill="#ff0000"/><rect x="580.9" y="369" width="2.2" height="2.3" fill="#00ffff"/><rect x="583.9" y="370.7" width="2.2" height="1" fill="#00ffff"/><rect x="586.9" y="370.7" width="2.2" height="1" fill="#00ffff"/><rect x="590" y="370.7" width="2.2" height="1" fill="#ff0000"/><rect x="593" y="368.5" width="2.2" height="2.7" fill="#ff0000"/><rect x="596" y="367.9" width="2.2" height="3.4" fill="#ff0000"/><rect x="599.1" y="365.7" width="2.2" height="5.5" fill="#ff0000"/><rect x="602.1" y="362.8" width="2.2" height="8.5" fill="#ff0000"/><rect x="605.1" y="362.1" width="2.2" height="9.1" fill="#ff0000"/><rect x="608.2" y="363.1" width="2.2" height="8.2" fill="#00ffff"/><rect x="611.2" y="364.9" width="2.2" height="6.3" fill="#00ffff"/><rect x="614.2" y="367.2" width="2.2" height="4" fill="#00ffff"/><rect x="617.3" y="367.1" width="2.2" height="4.1" fill="#ff0000"/><rect x="620.3" y="365.4" width="2.2" height="5.8" fill="#ff0000"/><rect x="623.3" y="365.6" width="2.2" height="5.7" fill="#00ffff"/><rect x="626.4" y="366.8" width="2.2" height="4.4" fill="#00ffff"/><rect x="629.4" y="368.8" width="2.2" height="2.4" fill="#00ffff"/><rect x="632.4" y="370.7" width="2.2" height="1" fill="#00ffff"/><rect x="635.5" y="371.2" width="2.2" height="2.2" fill="#00ffff"/><polyline points="336.2,335.3 339.2,336.2 342.3,334.8 345.3,335.1 348.3,336.6 351.4,335.8 354.4,336.4 357.4,338.2 360.5,337.6 363.5,338.4 366.5,340.3 369.6,339.7 372.6,337.1 375.6,333 378.7,327.8 381.7,325.1 384.7,324.5 387.8,325.4 390.8,327.6 393.8,330.7 396.9,334.5 399.9,338.8 402.9,340.1 406,339 409,336.1 412.1,335.1 415.1,335.6 418.1,337.4 421.2,336.7 424.2,337.5 427.2,336 430.3,336.1 433.3,337.6 436.3,340 439.4,343.2 442.4,343.5 445.4,345 448.5,347.4 451.5,350.5 454.5,354 457.6,357.9 460.6,362 463.6,362.8 466.7,361.2 469.7,360.9 472.7,361.7 475.8,363.3 478.8,365.6 481.8,368.4 484.9,371.5 487.9,374.9 490.9,375 494,372.6 497,371.6 500,371.8 503.1,372.8 506.1,374.5 509.1,376.7 512.2,379.2 515.2,382.1 518.2,385.1 521.3,388.2 524.3,391.3 527.3,391.1 530.4,391.7 533.4,392.7 536.4,390.9 539.5,390.1 542.5,390.2 545.5,387.7 548.6,383 551.6,380.1 554.6,375.3 557.7,372.4 560.7,367.7 563.8,364.9 566.8,363.7 569.8,363.8 572.9,364.9 575.9,366.7 578.9,365.7 582,365.9 585,367 588,368.9 591.1,367.9 594.1,364.7 597.1,363.2 600.2,359.7 603.2,354.6 606.2,351.7 609.3,350.6 612.3,350.8 615.3,352.2 618.4,351 621.4,347.9 624.4,346.6 627.5,346.8 630.5,348.1 633.5,350.3 636.6,353.2" class="dw"/><polyline points="336.2,344.8 339.2,343 342.3,341.4 345.3,340.1 348.3,339.4 351.4,338.7 354.4,338.2 357.4,338.2 360.5,338.1 363.5,338.2 366.5,338.6 369.6,338.8 372.6,338.5 375.6,337.4 378.7,335.5 381.7,333.4 384.7,331.6 387.8,330.4 390.8,329.8 393.8,330 396.9,330.9 399.9,332.5 402.9,334 406,335 409,335.2 412.1,335.2 415.1,335.3 418.1,335.7 421.2,335.9 424.2,336.2 427.2,336.2 430.3,336.2 433.3,336.4 436.3,337.2 439.4,338.4 442.4,339.4 445.4,340.5 448.5,341.9 451.5,343.6 454.5,345.7 457.6,348.1 460.6,350.9 463.6,353.3 466.7,354.9 469.7,356.1 472.7,357.2 475.8,358.4 478.8,359.9 481.8,361.6 484.9,363.6 487.9,365.8 490.9,367.7 494,368.6 497,369.2 500,369.7 503.1,370.4 506.1,371.2 509.1,372.3 512.2,373.7 515.2,375.4 518.2,377.3 521.3,379.5 524.3,381.9 527.3,383.7 530.4,385.3 533.4,386.8 536.4,387.6 539.5,388.1 542.5,388.5 545.5,388.4 548.6,387.3 551.6,385.9 554.6,383.7 557.7,381.5 560.7,378.7 563.8,376 566.8,373.5 569.8,371.6 572.9,370.2 575.9,369.5 578.9,368.7 582,368.2 585,367.9 588,368.1 591.1,368.1 594.1,367.4 597.1,366.6 600.2,365.2 603.2,363.1 606.2,360.8 609.3,358.7 612.3,357.2 615.3,356.2 618.4,355.1 621.4,353.7 624.4,352.3 627.5,351.2 630.5,350.5 633.5,350.5 636.6,351" class="dg"/><rect x="333.6" y="70" width="2" height="329.5" fill="#a80000"/><rect x="333.6" y="398.5" width="305" height="1.5" fill="#c80000"/><polygon points="342.6,197.1 375.7,187.9 408.7,178.8 441.8,169.6 474.9,160.4 507.9,151.3 541,142.1 574.1,132.9 607.1,123.8 606.8,128 617.3,117.5 602.8,114.2 605.4,117.6 572.5,127.5 539.6,137.3 506.8,147.2 473.9,157.1 441,166.9 408.2,176.8 375.3,186.6 342.4,196.5" fill="#20a820"/></g><clipPath id="cp2"><rect x="659.2" y="37" width="323.4" height="372"/></clipPath><g clip-path="url(#cp2)"><text x="668.3 689 705.1 717.3 729.4 745.6 761.8 773.9 786 798.2 810.3 826.5 842.7 858.9 871 879.1 887.2 899.3 915.5 927.6 935.7" y="57.5 57.5 57.5 57.5 57.5 57.5 57.5 57.5 57.5 55.7 57.5 57.5 57.5 57.5 57.5 57.5 57.5 57.5 57.5 57.5 57.5" class="ct">【毒胆2】频率K线(当前遗漏:3&#160;周期:1</text><polyline points="660.3,153 663.3,152.3 666.4,154.2 669.4,156 672.4,163.3 675.5,170.4 678.5,177.3 681.5,184 684.6,191.6 687.6,198.7 690.6,205.8 693.7,211.2 696.7,216.3 699.7,221.2 702.8,225.6 705.8,229.4 708.8,232.4 711.9,234.4 714.9,235.3 717.9,236 721,236.4 724,236.3 727,235.9 730.1,236.2 733.1,236.3 736.1,236.1 739.2,235.5 742.2,234.6 745.2,233.2 748.3,233.4 751.3,232.9 754.3,235.6 757.4,237.4 760.4,240.9 763.4,243.5 766.5,245.3 769.5,247.4 772.5,248.4 775.6,249 778.6,252.2 781.6,253.5 784.7,251.4 787.7,248.4 790.7,246 793.8,244 796.8,242.4 799.8,237.7 802.9,234.2 805.9,228.1 808.9,219.7 812,213.9 815,210.7 818.1,206.3 821.1,202.8 824.1,201.8 827.2,200.5 830.2,195.4 833.2,191.3 836.3,189.9 839.3,188.1 842.3,186.7 845.4,185.4 848.4,184.2 851.4,184.2 854.5,185.5 857.5,187.5 860.5,188.5 863.6,189.6 866.6,185.6 869.6,182.6 872.7,181.4 875.7,178.3 878.7,170.8 881.8,166.5 884.8,160.1 887.8,149.8 890.9,137.2 893.9,122.8 896.9,112.6 900,104.8 903,95 906,87.9 909.1,83.2 912.1,80.9 915.1,81.3 918.2,81.7 921.2,82.6 924.2,83.5 927.3,81.8 930.3,82.8 933.3,87.3 936.4,89.2 939.4,87 942.4,89.1 945.5,86.3 948.5,83.6 951.5,81.4 954.6,76.4 957.6,73.1 960.6,71.2 962.2,70.7" class="bd"/><polyline points="660.3,206 663.3,209.5 666.4,214 669.4,218.6 672.4,223.1 675.5,227.6 678.5,232.2 681.5,236.7 684.6,240.2 687.6,242.7 690.6,245.2 693.7,246.6 696.7,248.1 699.7,249.5 702.8,251 705.8,252.5 708.8,253.9 711.9,255.4 714.9,256.8 717.9,257.3 721,257.7 724,258.1 727,257.5 730.1,256.9 733.1,257.4 736.1,257.8 739.2,258.2 742.2,258.6 745.2,260.1 748.3,262.6 751.3,265.1 754.3,268.6 757.4,272.1 760.4,274.6 763.4,277.1 766.5,279.5 769.5,281 772.5,281.4 775.6,281.9 778.6,283.3 781.6,283.7 784.7,283.1 787.7,282.6 790.7,282 793.8,281.4 796.8,280.8 799.8,279.1 802.9,277.5 805.9,274.9 808.9,271.2 812,267.5 815,263.9 818.1,259.2 821.1,255.5 824.1,251.8 827.2,247.1 830.2,242.4 833.2,238.7 836.3,235.1 839.3,230.4 842.3,226.7 845.4,224.1 848.4,222.4 851.4,220.8 854.5,219.2 857.5,216.5 860.5,214.9 863.6,212.3 866.6,209.6 869.6,208 872.7,206.4 875.7,203.7 878.7,201.1 881.8,198.4 884.8,194.8 887.8,191.1 890.9,187.4 893.9,182.7 896.9,178 900,174.4 903,169.7 906,165 909.1,160.3 912.1,155.6 915.1,150.9 918.2,147.2 921.2,142.5 924.2,138.8 927.3,135.1 930.3,131.5 933.3,127.8 936.4,124.1 939.4,120.5 942.4,116.8 945.5,113.1 948.5,110.5 951.5,108.8 954.6,107.2 957.6,105.6 960.6,104 962.2,103.7" class="bd"/><polyline points="660.3,259 663.3,266.7 666.4,273.8 669.4,281.1 672.4,282.9 675.5,284.8 678.5,287 681.5,289.4 684.6,288.9 687.6,286.6 690.6,284.6 693.7,282.1 696.7,279.8 699.7,277.9 702.8,276.4 705.8,275.5 708.8,275.4 711.9,276.3 714.9,278.3 717.9,278.5 721,279 724,280 727,279.1 730.1,277.7 733.1,278.4 736.1,279.5 739.2,280.9 742.2,282.7 745.2,287.1 748.3,291.8 751.3,297.3 754.3,301.6 757.4,306.7 760.4,308.2 763.4,310.6 766.5,313.8 769.5,314.5 772.5,314.5 775.6,314.7 778.6,314.4 781.6,314 784.7,314.9 787.7,316.7 790.7,317.9 793.8,318.7 796.8,319.1 799.8,320.6 802.9,320.8 805.9,321.6 808.9,322.8 812,321.1 815,317.1 818.1,312 821.1,308.2 824.1,301.9 827.2,293.8 830.2,289.5 833.2,286.2 836.3,280.3 839.3,272.6 842.3,266.7 845.4,262.7 848.4,260.7 851.4,257.5 854.5,252.9 857.5,245.6 860.5,241.4 863.6,234.9 866.6,233.6 869.6,233.4 872.7,231.4 875.7,229.2 878.7,231.4 881.8,230.4 884.8,229.5 887.8,232.4 890.9,237.7 893.9,242.6 896.9,243.5 900,243.9 903,244.3 906,242 909.1,237.3 912.1,230.2 915.1,220.4 918.2,212.6 921.2,202.4 924.2,194.1 927.3,188.5 930.3,180.1 933.3,168.3 936.4,159.1 939.4,154 942.4,144.4 945.5,140 948.5,137.3 951.5,136.3 954.6,138 957.6,138.1 960.6,136.8 962.2,136.6" class="bd"/><rect x="660.7" y="254.7" width="2.2" height="5.6" fill="#00ffff"/><rect x="663.7" y="260.3" width="2.2" height="5.6" fill="#00ffff"/><rect x="666.8" y="265.8" width="2.2" height="5.6" fill="#00ffff"/><rect x="669.8" y="256.4" width="2.2" height="15" fill="#ff0000"/><rect x="672.8" y="256.4" width="2.2" height="5.6" fill="#00ffff"/><rect x="675.9" y="262" width="2.2" height="5.6" fill="#00ffff"/><rect x="678.9" y="267.5" width="2.2" height="5.6" fill="#00ffff"/><rect x="681.9" y="258.1" width="2.2" height="15" fill="#ff0000"/><rect x="685" y="243.2" width="2.2" height="15" fill="#ff0000"/><rect x="688" y="243.2" width="2.2" height="5.6" fill="#00ffff"/><rect x="691" y="233.8" width="2.2" height="15" fill="#ff0000"/><rect x="694.1" y="233.8" width="2.2" height="5.6" fill="#00ffff"/><rect x="697.1" y="239.4" width="2.2" height="5.6" fill="#00ffff"/><rect x="700.1" y="244.9" width="2.2" height="5.6" fill="#00ffff"/><rect x="703.2" y="250.5" width="2.2" height="5.6" fill="#00ffff"/><rect x="706.2" y="256" width="2.2" height="5.6" fill="#00ffff"/><rect x="709.2" y="261.6" width="2.2" height="5.6" fill="#00ffff"/><rect x="712.3" y="267.2" width="2.2" height="5.6" fill="#00ffff"/><rect x="715.3" y="257.8" width="2.2" height="15" fill="#ff0000"/><rect x="718.3" y="257.8" width="2.2" height="5.6" fill="#00ffff"/><rect x="721.4" y="263.3" width="2.2" height="5.6" fill="#00ffff"/><rect x="724.4" y="253.9" width="2.2" height="15" fill="#ff0000"/><rect x="727.4" y="253.9" width="2.2" height="5.6" fill="#00ffff"/><rect x="730.5" y="259.5" width="2.2" height="5.6" fill="#00ffff"/><rect x="733.5" y="265" width="2.2" height="5.6" fill="#00ffff"/><rect x="736.6" y="270.6" width="2.2" height="5.6" fill="#00ffff"/><rect x="739.6" y="276.2" width="2.2" height="5.6" fill="#00ffff"/><rect x="742.6" y="281.7" width="2.2" height="5.6" fill="#00ffff"/><rect x="745.7" y="287.3" width="2.2" height="5.6" fill="#00ffff"/><rect x="748.7" y="292.8" width="2.2" height="5.6" fill="#00ffff"/><rect x="751.7" y="298.4" width="2.2" height="5.6" fill="#00ffff"/><rect x="754.8" y="304" width="2.2" height="5.6" fill="#00ffff"/><rect x="757.8" y="294.6" width="2.2" height="15" fill="#ff0000"/><rect x="760.8" y="294.6" width="2.2" height="5.6" fill="#00ffff"/><rect x="763.9" y="300.1" width="2.2" height="5.6" fill="#00ffff"/><rect x="766.9" y="290.7" width="2.2" height="15" fill="#ff0000"/><rect x="769.9" y="275.8" width="2.2" height="15" fill="#ff0000"/><rect x="773" y="275.8" width="2.2" height="5.6" fill="#00ffff"/><rect x="776" y="281.3" width="2.2" height="5.6" fill="#00ffff"/><rect x="779" y="271.9" width="2.2" height="15" fill="#ff0000"/><rect x="782.1" y="257" width="2.2" height="15" fill="#ff0000"/><rect x="785.1" y="242" width="2.2" height="15" fill="#ff0000"/><rect x="788.1" y="242" width="2.2" height="5.6" fill="#00ffff"/><rect x="791.2" y="247.6" width="2.2" height="5.6" fill="#00ffff"/><rect x="794.2" y="253.1" width="2.2" height="5.6" fill="#00ffff"/><rect x="797.2" y="243.7" width="2.2" height="15" fill="#ff0000"/><rect x="800.3" y="243.7" width="2.2" height="5.6" fill="#00ffff"/><rect x="803.3" y="234.3" width="2.2" height="15" fill="#ff0000"/><rect x="806.3" y="219.4" width="2.2" height="15" fill="#ff0000"/><rect x="809.4" y="219.4" width="2.2" height="5.6" fill="#00ffff"/><rect x="812.4" y="224.9" width="2.2" height="5.6" fill="#00ffff"/><rect x="815.4" y="215.6" width="2.2" height="15" fill="#ff0000"/><rect x="818.5" y="215.6" width="2.2" height="5.6" fill="#00ffff"/><rect x="821.5" y="221.1" width="2.2" height="5.6" fill="#00ffff"/><rect x="824.5" y="211.7" width="2.2" height="15" fill="#ff0000"/><rect x="827.6" y="196.8" width="2.2" height="15" fill="#ff0000"/><rect x="830.6" y="196.8" width="2.2" height="5.6" fill="#00ffff"/><rect x="833.6" y="202.3" width="2.2" height="5.6" fill="#00ffff"/><rect x="836.7" y="192.9" width="2.2" height="15" fill="#ff0000"/><rect x="839.7" y="192.9" width="2.2" height="5.6" fill="#00ffff"/><rect x="842.7" y="198.5" width="2.2" height="5.6" fill="#00ffff"/><rect x="845.8" y="204" width="2.2" height="5.6" fill="#00ffff"/><rect x="848.8" y="209.6" width="2.2" height="5.6" fill="#00ffff"/><rect x="851.8" y="215.2" width="2.2" height="5.6" fill="#00ffff"/><rect x="854.9" y="205.8" width="2.2" height="15" fill="#ff0000"/><rect x="857.9" y="205.8" width="2.2" height="5.6" fill="#00ffff"/><rect x="860.9" y="196.4" width="2.2" height="15" fill="#ff0000"/><rect x="864" y="181.4" width="2.2" height="15" fill="#ff0000"/><rect x="867" y="181.4" width="2.2" height="5.6" fill="#00ffff"/><rect x="870" y="187" width="2.2" height="5.6" fill="#00ffff"/><rect x="873.1" y="177.6" width="2.2" height="15" fill="#ff0000"/><rect x="876.1" y="162.6" width="2.2" height="15" fill="#ff0000"/><rect x="879.1" y="162.6" width="2.2" height="5.6" fill="#00ffff"/><rect x="882.2" y="153.2" width="2.2" height="15" fill="#ff0000"/><rect x="885.2" y="138.3" width="2.2" height="15" fill="#ff0000"/><rect x="888.2" y="123.3" width="2.2" height="15" fill="#ff0000"/><rect x="891.3" y="108.3" width="2.2" height="15" fill="#ff0000"/><rect x="894.3" y="108.3" width="2.2" height="5.6" fill="#00ffff"/><rect x="897.4" y="113.9" width="2.2" height="5.6" fill="#00ffff"/><rect x="900.4" y="104.5" width="2.2" height="15" fill="#ff0000"/><rect x="903.4" y="104.5" width="2.2" height="5.6" fill="#00ffff"/><rect x="906.5" y="110.1" width="2.2" height="5.6" fill="#00ffff"/><rect x="909.5" y="115.6" width="2.2" height="5.6" fill="#00ffff"/><rect x="912.5" y="121.2" width="2.2" height="5.6" fill="#00ffff"/><rect x="915.6" y="126.7" width="2.2" height="5.6" fill="#00ffff"/><rect x="918.6" y="117.3" width="2.2" height="15" fill="#ff0000"/><rect x="921.6" y="117.3" width="2.2" height="5.6" fill="#00ffff"/><rect x="924.7" y="107.9" width="2.2" height="15" fill="#ff0000"/><rect x="927.7" y="107.9" width="2.2" height="5.6" fill="#00ffff"/><rect x="930.7" y="113.5" width="2.2" height="5.6" fill="#00ffff"/><rect x="933.8" y="104.1" width="2.2" height="15" fill="#ff0000"/><rect x="936.8" y="89.2" width="2.2" height="15" fill="#ff0000"/><rect x="939.8" y="89.2" width="2.2" height="5.6" fill="#00ffff"/><rect x="942.9" y="79.8" width="2.2" height="15" fill="#ff0000"/><rect x="945.9" y="79.8" width="2.2" height="5.6" fill="#00ffff"/><rect x="948.9" y="85.3" width="2.2" height="5.6" fill="#00ffff"/><rect x="952" y="75.9" width="2.2" height="15" fill="#ff0000"/><rect x="955" y="75.9" width="2.2" height="5.6" fill="#00ffff"/><rect x="958" y="81.5" width="2.2" height="5.6" fill="#00ffff"/><rect x="961.1" y="87" width="2.2" height="5.6" fill="#00ffff"/><rect x="660.7" y="363.8" width="2.2" height="7.6" fill="#ff0000"/><rect x="663.7" y="363.8" width="2.2" height="7.1" fill="#ff0000"/><rect x="666.8" y="363.8" width="2.2" height="6.8" fill="#ff0000"/><rect x="669.8" y="363.8" width="2.2" height="4.7" fill="#ff0000"/><rect x="672.8" y="363.8" width="2.2" height="3.5" fill="#ff0000"/><rect x="675.9" y="363.8" width="2.2" height="2.7" fill="#ff0000"/><rect x="678.9" y="363.8" width="2.2" height="2.4" fill="#ff0000"/><rect x="681.9" y="363.3" width="2.2" height="1" fill="#ff0000"/><rect x="685" y="361.7" width="2.2" height="2.1" fill="#ff0000"/><rect x="688" y="360.3" width="2.2" height="3.5" fill="#ff0000"/><rect x="691" y="358.2" width="2.2" height="5.6" fill="#ff0000"/><rect x="694.1" y="357.4" width="2.2" height="6.4" fill="#ff0000"/><rect x="697.1" y="357.6" width="2.2" height="6.2" fill="#00ffff"/><rect x="700.1" y="358.3" width="2.2" height="5.5" fill="#00ffff"/><rect x="703.2" y="359.3" width="2.2" height="4.5" fill="#00ffff"/><rect x="706.2" y="360.5" width="2.2" height="3.3" fill="#00ffff"/><rect x="709.2" y="361.7" width="2.2" height="2.1" fill="#00ffff"/><rect x="712.3" y="363.3" width="2.2" height="1" fill="#00ffff"/><rect x="715.3" y="362.4" width="2.2" height="1.5" fill="#ff0000"/><rect x="718.3" y="362.4" width="2.2" height="1.4" fill="#00ffff"/><rect x="721.4" y="363.3" width="2.2" height="1" fill="#00ffff"/><rect x="724.4" y="361.8" width="2.2" height="2.1" fill="#ff0000"/><rect x="727.4" y="361.5" width="2.2" height="2.3" fill="#ff0000"/><rect x="730.5" y="361.9" width="2.2" height="1.9" fill="#00ffff"/><rect x="733.5" y="362.5" width="2.2" height="1.3" fill="#00ffff"/><rect x="736.6" y="363.3" width="2.2" height="1" fill="#00ffff"/><rect x="739.6" y="363.3" width="2.2" height="1" fill="#00ffff"/><rect x="742.6" y="363.8" width="2.2" height="1.3" fill="#00ffff"/><rect x="745.7" y="363.8" width="2.2" height="2.2" fill="#00ffff"/><rect x="748.7" y="363.8" width="2.2" height="2.9" fill="#00ffff"/><rect x="751.7" y="363.8" width="2.2" height="3.6" fill="#00ffff"/><rect x="754.8" y="363.8" width="2.2" height="4.2" fill="#00ffff"/><rect x="757.8" y="363.8" width="2.2" height="2.9" fill="#ff0000"/><rect x="760.8" y="363.8" width="2.2" height="2.3" fill="#ff0000"/><rect x="763.9" y="363.8" width="2.2" height="2" fill="#ff0000"/><rect x="766.9" y="363.3" width="2.2" height="1" fill="#ff0000"/><rect x="769.9" y="361.7" width="2.2" height="2.1" fill="#ff0000"/><rect x="773" y="360.6" width="2.2" height="3.2" fill="#ff0000"/><rect x="776" y="360.3" width="2.2" height="3.5" fill="#ff0000"/><rect x="779" y="359" width="2.2" height="4.8" fill="#ff0000"/><rect x="782.1" y="357" width="2.2" height="6.8" fill="#ff0000"/><rect x="785.1" y="354.7" width="2.2" height="9.1" fill="#ff0000"/><rect x="788.1" y="354.1" width="2.2" height="9.7" fill="#ff0000"/><rect x="791.2" y="354.7" width="2.2" height="9.1" fill="#00ffff"/><rect x="794.2" y="355.9" width="2.2" height="7.9" fill="#00ffff"/><rect x="797.2" y="355.8" width="2.2" height="8" fill="#ff0000"/><rect x="800.3" y="356.6" width="2.2" height="7.2" fill="#00ffff"/><rect x="803.3" y="356.2" width="2.2" height="7.6" fill="#ff0000"/><rect x="806.3" y="355.1" width="2.2" height="8.7" fill="#ff0000"/><rect x="809.4" y="355.4" width="2.2" height="8.4" fill="#00ffff"/><rect x="812.4" y="356.6" width="2.2" height="7.3" fill="#00ffff"/><rect x="815.4" y="356.5" width="2.2" height="7.3" fill="#ff0000"/><rect x="818.5" y="357.3" width="2.2" height="6.5" fill="#00ffff"/><rect x="821.5" y="358.8" width="2.2" height="5" fill="#00ffff"/><rect x="824.5" y="358.8" width="2.2" height="5" fill="#00ffff"/><rect x="827.6" y="358" width="2.2" height="5.8" fill="#ff0000"/><rect x="830.6" y="358.4" width="2.2" height="5.4" fill="#00ffff"/><rect x="833.6" y="359.5" width="2.2" height="4.3" fill="#00ffff"/><rect x="836.7" y="359.3" width="2.2" height="4.5" fill="#ff0000"/><rect x="839.7" y="360.1" width="2.2" height="3.7" fill="#00ffff"/><rect x="842.7" y="361.4" width="2.2" height="2.4" fill="#00ffff"/><rect x="845.8" y="363.3" width="2.2" height="1" fill="#00ffff"/><rect x="848.8" y="363.3" width="2.2" height="1" fill="#00ffff"/><rect x="851.8" y="363.8" width="2.2" height="2.6" fill="#00ffff"/><rect x="854.9" y="363.8" width="2.2" height="2.5" fill="#ff0000"/><rect x="857.9" y="363.8" width="2.2" height="2.9" fill="#00ffff"/><rect x="860.9" y="363.8" width="2.2" height="1.9" fill="#ff0000"/><rect x="864" y="363.3" width="2.2" height="1" fill="#ff0000"/><rect x="867" y="363.3" width="2.2" height="1" fill="#ff0000"/><rect x="870" y="363.3" width="2.2" height="1" fill="#00ffff"/><rect x="873.1" y="362.8" width="2.2" height="1" fill="#ff0000"/><rect x="876.1" y="361.2" width="2.2" height="2.6" fill="#ff0000"/><rect x="879.1" y="361" width="2.2" height="2.8" fill="#ff0000"/><rect x="882.2" y="359.9" width="2.2" height="3.9" fill="#ff0000"/><rect x="885.2" y="358.4" width="2.2" height="5.4" fill="#ff0000"/><rect x="888.2" y="356.6" width="2.2" height="7.2" fill="#ff0000"/><rect x="891.3" y="354.9" width="2.2" height="8.9" fill="#ff0000"/><rect x="894.3" y="354.9" width="2.2" height="8.9" fill="#00ffff"/><rect x="897.4" y="356.2" width="2.2" height="7.6" fill="#00ffff"/><rect x="900.4" y="356.4" width="2.2" height="7.4" fill="#00ffff"/><rect x="903.4" y="357.6" width="2.2" height="6.2" fill="#00ffff"/><rect x="906.5" y="359.5" width="2.2" height="4.3" fill="#00ffff"/><rect x="909.5" y="361.7" width="2.2" height="2.1" fill="#00ffff"/><rect x="912.5" y="363.3" width="2.2" height="1" fill="#00ffff"/><rect x="915.6" y="363.8" width="2.2" height="2.4" fill="#00ffff"/><rect x="918.6" y="363.8" width="2.2" height="2.7" fill="#00ffff"/><rect x="921.6" y="363.8" width="2.2" height="3.5" fill="#00ffff"/><rect x="924.7" y="363.8" width="2.2" height="2.9" fill="#ff0000"/><rect x="927.7" y="363.8" width="2.2" height="3.1" fill="#00ffff"/><rect x="930.7" y="363.8" width="2.2" height="3.8" fill="#00ffff"/><rect x="933.8" y="363.8" width="2.2" height="3.1" fill="#ff0000"/><rect x="936.8" y="363.8" width="2.2" height="1.5" fill="#ff0000"/><rect x="939.8" y="363.8" width="2.2" height="1.1" fill="#ff0000"/><rect x="942.9" y="363.3" width="2.2" height="1" fill="#ff0000"/><rect x="945.9" y="363.3" width="2.2" height="1" fill="#ff0000"/><rect x="948.9" y="363.3" width="2.2" height="1" fill="#00ffff"/><rect x="952" y="363.3" width="2.2" height="1" fill="#ff0000"/><rect x="955" y="363.3" width="2.2" height="1" fill="#00ffff"/><rect x="958" y="363.8" width="2.2" height="1.2" fill="#00ffff"/><rect x="961.1" y="363.8" width="2.2" height="2.5" fill="#00ffff"/><polyline points="661.8,389.9 664.8,391.2 667.9,392.5 670.9,391.7 673.9,391.3 677,391.2 680,391.4 683,389.7 686.1,386.5 689.1,384.3 692.1,380.8 695.2,378.5 698.2,377 701.2,376.3 704.3,376.2 707.3,376.6 710.3,377.3 713.4,378.3 716.4,377.4 719.4,377.1 722.5,377.2 725.5,375.7 728.5,374.9 731.6,374.7 734.6,375 737.7,375.8 740.7,376.8 743.7,378 746.8,379.4 749.8,380.9 752.8,382.5 755.9,384.1 758.9,383.5 761.9,383.4 765,383.7 768,382.2 771,379.2 774.1,377.2 777.1,376.1 780.1,373.5 783.2,369.8 786.2,365.3 789.2,362.3 792.3,360.6 795.3,359.8 798.3,357.7 801.4,356.7 804.4,354.4 807.4,351.2 810.5,349.4 813.5,348.7 816.5,346.8 819.6,346 822.6,346.2 825.6,345 828.7,342.7 831.7,341.7 834.7,341.8 837.8,340.5 840.8,340.4 843.8,341.1 846.9,342.6 849.9,344.5 852.9,346.8 856,347.3 859,348.4 862,347.9 865.1,346.1 868.1,345.4 871.1,345.7 874.2,344.6 877.2,342.4 880.2,341.4 883.3,339.4 886.3,336.5 889.4,333 892.4,329 895.4,326.8 898.5,326.1 901.5,324.5 904.5,324.2 907.6,325 910.6,326.7 913.6,329 916.7,331.8 919.7,332.8 922.7,334.5 925.8,334.6 928.8,335.6 931.8,337.3 934.9,337.3 937.9,336.1 940.9,336 944,334.7 947,334.6 950,335.4 953.1,334.8 956.1,335.3 959.1,336.5 962.2,338.4" class="dw"/><polyline points="661.8,382.3 664.8,384.1 667.9,385.8 670.9,386.9 673.9,387.8 677,388.5 680,389.1 683,389.2 686.1,388.7 689.1,387.8 692.1,386.4 695.2,384.8 698.2,383.3 701.2,381.9 704.3,380.7 707.3,379.9 710.3,379.4 713.4,379.2 716.4,378.8 719.4,378.5 722.5,378.2 725.5,377.7 728.5,377.1 731.6,376.7 734.6,376.3 737.7,376.2 740.7,376.3 743.7,376.7 746.8,377.2 749.8,378 752.8,378.9 755.9,379.9 758.9,380.6 761.9,381.2 765,381.7 768,381.8 771,381.3 774.1,380.5 777.1,379.6 780.1,378.4 783.2,376.7 786.2,374.4 789.2,372 792.3,369.7 795.3,367.7 798.3,365.7 801.4,363.9 804.4,362 807.4,359.9 810.5,357.8 813.5,355.9 816.5,354.1 819.6,352.5 822.6,351.2 825.6,350 828.7,348.5 831.7,347.2 834.7,346.1 837.8,345 840.8,344.1 843.8,343.5 846.9,343.3 849.9,343.5 852.9,344.2 856,344.8 859,345.5 862,346 865.1,346 868.1,345.9 871.1,345.9 874.2,345.6 877.2,345 880.2,344.3 883.3,343.3 886.3,341.9 889.4,340.1 892.4,337.9 895.4,335.7 898.5,333.8 901.5,331.9 904.5,330.4 907.6,329.3 910.6,328.8 913.6,328.8 916.7,329.4 919.7,330.1 922.7,331 925.8,331.7 928.8,332.5 931.8,333.4 934.9,334.2 937.9,334.6 940.9,334.9 944,334.8 947,334.8 950,334.9 953.1,334.9 956.1,335 959.1,335.3 962.2,335.9" class="dg"/><rect x="659.2" y="70" width="2" height="329.5" fill="#a80000"/><rect x="659.2" y="398.5" width="305" height="1.5" fill="#c80000"/><polygon points="696.1,243.3 726.6,227.3 757.1,211.4 787.6,195.4 818.1,179.5 848.5,163.5 879,147.6 909.5,131.6 940,115.7 940.4,119.7 948.8,107.2 933.8,107.3 936.8,109.9 906.7,126.5 876.6,143.1 846.5,159.7 816.4,176.3 786.2,192.9 756.1,209.5 726,226.1 695.9,242.7" fill="#20a820"/></g><clipPath id="cp3"><rect x="984.8" y="37" width="323.4" height="372"/></clipPath><g clip-path="url(#cp3)"><text x="993.9 1014.6 1030.7 1042.9 1055 1071.2 1087.4 1099.5 1111.6 1123.8 1135.9 1152.1 1168.3 1184.5 1196.6 1204.7 1212.8 1224.9 1241.1 1253.2 1261.3" y="57.5 57.5 57.5 57.5 57.5 57.5 57.5 57.5 57.5 55.7 57.5 57.5 57.5 57.5 57.5 57.5 57.5 57.5 57.5 57.5 57.5" class="ct">【毒胆3】频率K线(当前遗漏:0&#160;周期:1</text><polyline points="985.9,75 988.9,76.7 992,75.7 995,74.6 998,72.2 1001.1,70.9 1004.1,71.3 1007.1,71.7 1010.2,73.8 1013.2,75.3 1016.2,76.1 1019.3,76.4 1022.3,78.5 1025.3,79.9 1028.4,84.6 1031.4,88.5 1034.4,91.7 1037.5,94.2 1040.5,95.9 1043.5,97.1 1046.6,97.7 1049.6,98 1052.6,99.8 1055.7,100.9 1058.7,101.6 1061.7,101.8 1064.8,104 1067.8,109.6 1070.8,114.9 1073.9,121.3 1076.9,127.4 1079.9,133.1 1083,138.3 1086,142.9 1089,148.3 1092.1,153 1095.1,157.1 1098.1,160.2 1101.2,163.4 1104.2,165.8 1107.2,167.4 1110.3,168 1113.3,171.7 1116.3,174.2 1119.4,175.4 1122.4,175.6 1125.4,175 1128.5,176 1131.5,176.2 1134.5,178.6 1137.6,180.1 1140.6,180.8 1143.7,180.8 1146.7,181.8 1149.7,185.3 1152.8,188.4 1155.8,190.9 1158.8,192.7 1161.9,198 1164.9,202.8 1167.9,207.1 1171,210.7 1174,213.4 1177,214.7 1180.1,214.7 1183.1,213.7 1186.1,212.1 1189.2,212.3 1192.2,211.6 1195.2,212.6 1198.3,213.2 1201.3,213.5 1204.3,213.5 1207.4,214.7 1210.4,215.1 1213.4,218.5 1216.5,221.1 1219.5,223.1 1222.5,224.2 1225.6,228.5 1228.6,231.7 1231.6,233.8 1234.7,234.7 1237.7,234.7 1240.7,233.9 1243.8,232.7 1246.8,231.1 1249.8,231.3 1252.9,230.9 1255.9,231.8 1258.9,235.3 1262,239.4 1265,242.9 1268,245.7 1271.1,247.8 1274.1,253.4 1277.1,258.4 1280.2,262.7 1283.2,268 1286.2,272.7 1287.8,274.8" class="bd"/><polyline points="985.9,97.1 988.9,96.5 992,96.9 995,97.3 998,98.6 1001.1,100.9 1004.1,102.2 1007.1,102.6 1010.2,104 1013.2,105.3 1016.2,106.6 1019.3,107.9 1022.3,110.2 1025.3,112.5 1028.4,115.7 1031.4,118.9 1034.4,122.1 1037.5,125.3 1040.5,128.5 1043.5,131.7 1046.6,134.9 1049.6,138.1 1052.6,140.3 1055.7,142.6 1058.7,144.8 1061.7,147.1 1064.8,150.3 1067.8,154.4 1070.8,158.6 1073.9,161.8 1076.9,165 1079.9,168.2 1083,171.4 1086,174.6 1089,176.8 1092.1,179.1 1095.1,181.4 1098.1,183.6 1101.2,185 1104.2,186.3 1107.2,187.6 1110.3,188.9 1113.3,191.2 1116.3,193.5 1119.4,195.7 1122.4,198 1125.4,200.3 1128.5,201.6 1131.5,202.9 1134.5,205.2 1137.6,207.4 1140.6,209.7 1143.7,212 1146.7,213.3 1149.7,215.6 1152.8,216.9 1155.8,218.2 1158.8,219.5 1161.9,221.8 1164.9,223.1 1167.9,224.5 1171,225.8 1174,227.1 1177,228.5 1180.1,229.8 1183.1,231.1 1186.1,232.4 1189.2,234.7 1192.2,237 1195.2,238.3 1198.3,238.7 1201.3,239.1 1204.3,239.5 1207.4,240.8 1210.4,242.1 1213.4,243.5 1216.5,244.8 1219.5,246.1 1222.5,247.4 1225.6,249.7 1228.6,252 1231.6,254.2 1234.7,256.5 1237.7,258.8 1240.7,261 1243.8,263.3 1246.8,265.5 1249.8,266.9 1252.9,268.2 1255.9,270.5 1258.9,273.7 1262,275.9 1265,278.2 1268,280.5 1271.1,282.7 1274.1,285.9 1277.1,289.1 1280.2,292.3 1283.2,294.6 1286.2,296.8 1287.8,297.5" class="bd"/><polyline points="985.9,119.1 988.9,116.4 992,118.1 995,120.1 998,125 1001.1,130.9 1004.1,133.1 1007.1,133.6 1010.2,134.1 1013.2,135.3 1016.2,137.1 1019.3,139.5 1022.3,141.9 1025.3,145 1028.4,146.8 1031.4,149.2 1034.4,152.4 1037.5,156.4 1040.5,161 1043.5,166.2 1046.6,172 1049.6,178.1 1052.6,180.9 1055.7,184.2 1058.7,188.1 1061.7,192.5 1064.8,196.6 1067.8,199.3 1070.8,202.3 1073.9,202.3 1076.9,202.5 1079.9,203.2 1083,204.4 1086,206.2 1089,205.4 1092.1,205.2 1095.1,205.7 1098.1,207.1 1101.2,206.5 1104.2,206.7 1107.2,207.8 1110.3,209.8 1113.3,210.7 1116.3,212.8 1119.4,216 1122.4,220.4 1125.4,225.5 1128.5,227.2 1131.5,229.6 1134.5,231.7 1137.6,234.8 1140.6,238.6 1143.7,243.1 1146.7,244.8 1149.7,245.9 1152.8,245.4 1155.8,245.6 1158.8,246.4 1161.9,245.6 1164.9,243.5 1167.9,241.8 1171,240.8 1174,240.9 1177,242.2 1180.1,244.8 1183.1,248.5 1186.1,252.8 1189.2,257.1 1192.2,262.3 1195.2,264 1198.3,264.2 1201.3,264.7 1204.3,265.4 1207.4,266.9 1210.4,269.1 1213.4,268.5 1216.5,268.4 1219.5,269.1 1222.5,270.7 1225.6,271 1228.6,272.2 1231.6,274.7 1234.7,278.3 1237.7,282.8 1240.7,288.1 1243.8,293.9 1246.8,300 1249.8,302.5 1252.9,305.5 1255.9,309.2 1258.9,312.1 1262,312.5 1265,313.5 1268,315.2 1271.1,317.6 1274.1,318.4 1277.1,319.8 1280.2,321.9 1283.2,321.2 1286.2,321 1287.8,320.2" class="bd"/><rect x="986.3" y="108.8" width="2.2" height="5.1" fill="#00ffff"/><rect x="989.3" y="113.8" width="2.2" height="5.1" fill="#00ffff"/><rect x="992.4" y="118.9" width="2.2" height="5.1" fill="#00ffff"/><rect x="995.4" y="124" width="2.2" height="5.1" fill="#00ffff"/><rect x="998.4" y="129" width="2.2" height="5.1" fill="#00ffff"/><rect x="1001.5" y="120.5" width="2.2" height="13.6" fill="#ff0000"/><rect x="1004.5" y="106.8" width="2.2" height="13.6" fill="#ff0000"/><rect x="1007.5" y="106.8" width="2.2" height="5.1" fill="#00ffff"/><rect x="1010.6" y="111.9" width="2.2" height="5.1" fill="#00ffff"/><rect x="1013.6" y="117" width="2.2" height="5.1" fill="#00ffff"/><rect x="1016.6" y="122" width="2.2" height="5.1" fill="#00ffff"/><rect x="1019.7" y="127.1" width="2.2" height="5.1" fill="#00ffff"/><rect x="1022.7" y="132.2" width="2.2" height="5.1" fill="#00ffff"/><rect x="1025.7" y="137.2" width="2.2" height="5.1" fill="#00ffff"/><rect x="1028.8" y="142.3" width="2.2" height="5.1" fill="#00ffff"/><rect x="1031.8" y="147.4" width="2.2" height="5.1" fill="#00ffff"/><rect x="1034.8" y="152.5" width="2.2" height="5.1" fill="#00ffff"/><rect x="1037.9" y="157.5" width="2.2" height="5.1" fill="#00ffff"/><rect x="1040.9" y="162.6" width="2.2" height="5.1" fill="#00ffff"/><rect x="1043.9" y="167.7" width="2.2" height="5.1" fill="#00ffff"/><rect x="1047" y="172.7" width="2.2" height="5.1" fill="#00ffff"/><rect x="1050" y="164.2" width="2.2" height="13.6" fill="#ff0000"/><rect x="1053" y="164.2" width="2.2" height="5.1" fill="#00ffff"/><rect x="1056.1" y="169.2" width="2.2" height="5.1" fill="#00ffff"/><rect x="1059.1" y="174.3" width="2.2" height="5.1" fill="#00ffff"/><rect x="1062.2" y="179.4" width="2.2" height="5.1" fill="#00ffff"/><rect x="1065.2" y="184.4" width="2.2" height="5.1" fill="#00ffff"/><rect x="1068.2" y="189.5" width="2.2" height="5.1" fill="#00ffff"/><rect x="1071.3" y="180.9" width="2.2" height="13.6" fill="#ff0000"/><rect x="1074.3" y="180.9" width="2.2" height="5.1" fill="#00ffff"/><rect x="1077.3" y="186" width="2.2" height="5.1" fill="#00ffff"/><rect x="1080.4" y="191.1" width="2.2" height="5.1" fill="#00ffff"/><rect x="1083.4" y="196.2" width="2.2" height="5.1" fill="#00ffff"/><rect x="1086.4" y="187.6" width="2.2" height="13.6" fill="#ff0000"/><rect x="1089.5" y="187.6" width="2.2" height="5.1" fill="#00ffff"/><rect x="1092.5" y="192.7" width="2.2" height="5.1" fill="#00ffff"/><rect x="1095.5" y="197.7" width="2.2" height="5.1" fill="#00ffff"/><rect x="1098.6" y="189.2" width="2.2" height="13.6" fill="#ff0000"/><rect x="1101.6" y="189.2" width="2.2" height="5.1" fill="#00ffff"/><rect x="1104.6" y="194.2" width="2.2" height="5.1" fill="#00ffff"/><rect x="1107.7" y="199.3" width="2.2" height="5.1" fill="#00ffff"/><rect x="1110.7" y="204.4" width="2.2" height="5.1" fill="#00ffff"/><rect x="1113.7" y="209.4" width="2.2" height="5.1" fill="#00ffff"/><rect x="1116.8" y="214.5" width="2.2" height="5.1" fill="#00ffff"/><rect x="1119.8" y="219.6" width="2.2" height="5.1" fill="#00ffff"/><rect x="1122.8" y="224.6" width="2.2" height="5.1" fill="#00ffff"/><rect x="1125.9" y="216.1" width="2.2" height="13.6" fill="#ff0000"/><rect x="1128.9" y="216.1" width="2.2" height="5.1" fill="#00ffff"/><rect x="1131.9" y="221.1" width="2.2" height="5.1" fill="#00ffff"/><rect x="1135" y="226.2" width="2.2" height="5.1" fill="#00ffff"/><rect x="1138" y="231.3" width="2.2" height="5.1" fill="#00ffff"/><rect x="1141" y="236.4" width="2.2" height="5.1" fill="#00ffff"/><rect x="1144.1" y="227.8" width="2.2" height="13.6" fill="#ff0000"/><rect x="1147.1" y="227.8" width="2.2" height="5.1" fill="#00ffff"/><rect x="1150.1" y="219.2" width="2.2" height="13.6" fill="#ff0000"/><rect x="1153.2" y="219.2" width="2.2" height="5.1" fill="#00ffff"/><rect x="1156.2" y="224.3" width="2.2" height="5.1" fill="#00ffff"/><rect x="1159.2" y="229.4" width="2.2" height="5.1" fill="#00ffff"/><rect x="1162.3" y="220.8" width="2.2" height="13.6" fill="#ff0000"/><rect x="1165.3" y="220.8" width="2.2" height="5.1" fill="#00ffff"/><rect x="1168.3" y="225.9" width="2.2" height="5.1" fill="#00ffff"/><rect x="1171.4" y="230.9" width="2.2" height="5.1" fill="#00ffff"/><rect x="1174.4" y="236" width="2.2" height="5.1" fill="#00ffff"/><rect x="1177.4" y="241.1" width="2.2" height="5.1" fill="#00ffff"/><rect x="1180.5" y="246.1" width="2.2" height="5.1" fill="#00ffff"/><rect x="1183.5" y="251.2" width="2.2" height="5.1" fill="#00ffff"/><rect x="1186.5" y="256.3" width="2.2" height="5.1" fill="#00ffff"/><rect x="1189.6" y="261.3" width="2.2" height="5.1" fill="#00ffff"/><rect x="1192.6" y="252.8" width="2.2" height="13.6" fill="#ff0000"/><rect x="1195.6" y="239.1" width="2.2" height="13.6" fill="#ff0000"/><rect x="1198.7" y="239.1" width="2.2" height="5.1" fill="#00ffff"/><rect x="1201.7" y="244.2" width="2.2" height="5.1" fill="#00ffff"/><rect x="1204.7" y="249.3" width="2.2" height="5.1" fill="#00ffff"/><rect x="1207.8" y="254.4" width="2.2" height="5.1" fill="#00ffff"/><rect x="1210.8" y="245.8" width="2.2" height="13.6" fill="#ff0000"/><rect x="1213.9" y="245.8" width="2.2" height="5.1" fill="#00ffff"/><rect x="1216.9" y="250.9" width="2.2" height="5.1" fill="#00ffff"/><rect x="1219.9" y="255.9" width="2.2" height="5.1" fill="#00ffff"/><rect x="1223" y="261" width="2.2" height="5.1" fill="#00ffff"/><rect x="1226" y="266.1" width="2.2" height="5.1" fill="#00ffff"/><rect x="1229" y="271.1" width="2.2" height="5.1" fill="#00ffff"/><rect x="1232.1" y="276.2" width="2.2" height="5.1" fill="#00ffff"/><rect x="1235.1" y="281.3" width="2.2" height="5.1" fill="#00ffff"/><rect x="1238.1" y="286.3" width="2.2" height="5.1" fill="#00ffff"/><rect x="1241.2" y="291.4" width="2.2" height="5.1" fill="#00ffff"/><rect x="1244.2" y="296.5" width="2.2" height="5.1" fill="#00ffff"/><rect x="1247.2" y="287.9" width="2.2" height="13.6" fill="#ff0000"/><rect x="1250.3" y="287.9" width="2.2" height="5.1" fill="#00ffff"/><rect x="1253.3" y="293" width="2.2" height="5.1" fill="#00ffff"/><rect x="1256.3" y="298.1" width="2.2" height="5.1" fill="#00ffff"/><rect x="1259.4" y="289.5" width="2.2" height="13.6" fill="#ff0000"/><rect x="1262.4" y="289.5" width="2.2" height="5.1" fill="#00ffff"/><rect x="1265.4" y="294.6" width="2.2" height="5.1" fill="#00ffff"/><rect x="1268.5" y="299.6" width="2.2" height="5.1" fill="#00ffff"/><rect x="1271.5" y="304.7" width="2.2" height="5.1" fill="#00ffff"/><rect x="1274.5" y="309.8" width="2.2" height="5.1" fill="#00ffff"/><rect x="1277.6" y="314.8" width="2.2" height="5.1" fill="#00ffff"/><rect x="1280.6" y="306.3" width="2.2" height="13.6" fill="#ff0000"/><rect x="1283.6" y="306.3" width="2.2" height="5.1" fill="#00ffff"/><rect x="1286.7" y="297.7" width="2.2" height="13.6" fill="#ff0000"/><rect x="986.3" y="332.5" width="2.2" height="6.8" fill="#00ffff"/><rect x="989.3" y="332.5" width="2.2" height="9.1" fill="#00ffff"/><rect x="992.4" y="332.5" width="2.2" height="11.1" fill="#00ffff"/><rect x="995.4" y="332.5" width="2.2" height="12.8" fill="#00ffff"/><rect x="998.4" y="332.5" width="2.2" height="14.2" fill="#00ffff"/><rect x="1001.5" y="332.5" width="2.2" height="11.5" fill="#ff0000"/><rect x="1004.5" y="332.5" width="2.2" height="6.2" fill="#ff0000"/><rect x="1007.5" y="332.5" width="2.2" height="3.6" fill="#ff0000"/><rect x="1010.6" y="332.5" width="2.2" height="2.6" fill="#ff0000"/><rect x="1013.6" y="332.5" width="2.2" height="2.8" fill="#00ffff"/><rect x="1016.6" y="332.5" width="2.2" height="3.6" fill="#00ffff"/><rect x="1019.7" y="332.5" width="2.2" height="4.9" fill="#00ffff"/><rect x="1022.7" y="332.5" width="2.2" height="6.3" fill="#00ffff"/><rect x="1025.7" y="332.5" width="2.2" height="7.7" fill="#00ffff"/><rect x="1028.8" y="332.5" width="2.2" height="9" fill="#00ffff"/><rect x="1031.8" y="332.5" width="2.2" height="10.2" fill="#00ffff"/><rect x="1034.8" y="332.5" width="2.2" height="11.2" fill="#00ffff"/><rect x="1037.9" y="332.5" width="2.2" height="12" fill="#00ffff"/><rect x="1040.9" y="332.5" width="2.2" height="12.7" fill="#00ffff"/><rect x="1043.9" y="332.5" width="2.2" height="13.1" fill="#00ffff"/><rect x="1047" y="332.5" width="2.2" height="13.4" fill="#00ffff"/><rect x="1050" y="332.5" width="2.2" height="9.7" fill="#ff0000"/><rect x="1053" y="332.5" width="2.2" height="7.6" fill="#ff0000"/><rect x="1056.1" y="332.5" width="2.2" height="6.4" fill="#ff0000"/><rect x="1059.1" y="332.5" width="2.2" height="6" fill="#ff0000"/><rect x="1062.2" y="332.5" width="2.2" height="6" fill="#00ffff"/><rect x="1065.2" y="332.5" width="2.2" height="6.2" fill="#00ffff"/><rect x="1068.2" y="332.5" width="2.2" height="6.6" fill="#00ffff"/><rect x="1071.3" y="332.5" width="2.2" height="3.3" fill="#ff0000"/><rect x="1074.3" y="332.5" width="2.2" height="1.5" fill="#ff0000"/><rect x="1077.3" y="332" width="2.2" height="1" fill="#ff0000"/><rect x="1080.4" y="332" width="2.2" height="1" fill="#00ffff"/><rect x="1083.4" y="332.5" width="2.2" height="1.5" fill="#00ffff"/><rect x="1086.4" y="331" width="2.2" height="1.5" fill="#ff0000"/><rect x="1089.5" y="329.7" width="2.2" height="2.8" fill="#ff0000"/><rect x="1092.5" y="329.6" width="2.2" height="2.9" fill="#ff0000"/><rect x="1095.5" y="330.2" width="2.2" height="2.3" fill="#00ffff"/><rect x="1098.6" y="327.5" width="2.2" height="5.1" fill="#ff0000"/><rect x="1101.6" y="326.5" width="2.2" height="6" fill="#ff0000"/><rect x="1104.6" y="326.9" width="2.2" height="5.6" fill="#00ffff"/><rect x="1107.7" y="328" width="2.2" height="4.5" fill="#00ffff"/><rect x="1110.7" y="329.5" width="2.2" height="3" fill="#00ffff"/><rect x="1113.7" y="331.2" width="2.2" height="1.3" fill="#00ffff"/><rect x="1116.8" y="332" width="2.2" height="1" fill="#00ffff"/><rect x="1119.8" y="332.5" width="2.2" height="2.2" fill="#00ffff"/><rect x="1122.8" y="332.5" width="2.2" height="3.7" fill="#00ffff"/><rect x="1125.9" y="332.5" width="2.2" height="1.3" fill="#ff0000"/><rect x="1128.9" y="332" width="2.2" height="1" fill="#ff0000"/><rect x="1131.9" y="332" width="2.2" height="1" fill="#ff0000"/><rect x="1135" y="332" width="2.2" height="1" fill="#00ffff"/><rect x="1138" y="332.5" width="2.2" height="1.6" fill="#00ffff"/><rect x="1141" y="332.5" width="2.2" height="2.7" fill="#00ffff"/><rect x="1144.1" y="332" width="2.2" height="1" fill="#ff0000"/><rect x="1147.1" y="331.4" width="2.2" height="1.1" fill="#ff0000"/><rect x="1150.1" y="327.5" width="2.2" height="5" fill="#ff0000"/><rect x="1153.2" y="325.9" width="2.2" height="6.6" fill="#ff0000"/><rect x="1156.2" y="325.9" width="2.2" height="6.6" fill="#ff0000"/><rect x="1159.2" y="326.8" width="2.2" height="5.7" fill="#00ffff"/><rect x="1162.3" y="324.5" width="2.2" height="8" fill="#ff0000"/><rect x="1165.3" y="324.2" width="2.2" height="8.3" fill="#ff0000"/><rect x="1168.3" y="325" width="2.2" height="7.5" fill="#00ffff"/><rect x="1171.4" y="326.7" width="2.2" height="5.8" fill="#00ffff"/><rect x="1174.4" y="328.7" width="2.2" height="3.8" fill="#00ffff"/><rect x="1177.4" y="330.9" width="2.2" height="1.6" fill="#00ffff"/><rect x="1180.5" y="332" width="2.2" height="1" fill="#00ffff"/><rect x="1183.5" y="332.5" width="2.2" height="2.6" fill="#00ffff"/><rect x="1186.5" y="332.5" width="2.2" height="4.5" fill="#00ffff"/><rect x="1189.6" y="332.5" width="2.2" height="6.1" fill="#00ffff"/><rect x="1192.6" y="332.5" width="2.2" height="3.7" fill="#ff0000"/><rect x="1195.6" y="331.3" width="2.2" height="1.2" fill="#ff0000"/><rect x="1198.7" y="329" width="2.2" height="3.5" fill="#ff0000"/><rect x="1201.7" y="328.4" width="2.2" height="4.1" fill="#ff0000"/><rect x="1204.7" y="329" width="2.2" height="3.5" fill="#00ffff"/><rect x="1207.8" y="330.2" width="2.2" height="2.3" fill="#00ffff"/><rect x="1210.8" y="328" width="2.2" height="4.5" fill="#ff0000"/><rect x="1213.9" y="327.6" width="2.2" height="4.9" fill="#ff0000"/><rect x="1216.9" y="328.3" width="2.2" height="4.2" fill="#00ffff"/><rect x="1219.9" y="329.7" width="2.2" height="2.8" fill="#00ffff"/><rect x="1223" y="331.5" width="2.2" height="1" fill="#00ffff"/><rect x="1226" y="332" width="2.2" height="1" fill="#00ffff"/><rect x="1229" y="332.5" width="2.2" height="2.8" fill="#00ffff"/><rect x="1232.1" y="332.5" width="2.2" height="4.6" fill="#00ffff"/><rect x="1235.1" y="332.5" width="2.2" height="6.2" fill="#00ffff"/><rect x="1238.1" y="332.5" width="2.2" height="7.6" fill="#00ffff"/><rect x="1241.2" y="332.5" width="2.2" height="8.8" fill="#00ffff"/><rect x="1244.2" y="332.5" width="2.2" height="9.8" fill="#00ffff"/><rect x="1247.2" y="332.5" width="2.2" height="6.7" fill="#ff0000"/><rect x="1250.3" y="332.5" width="2.2" height="5.1" fill="#ff0000"/><rect x="1253.3" y="332.5" width="2.2" height="4.4" fill="#ff0000"/><rect x="1256.3" y="332.5" width="2.2" height="4.4" fill="#ff0000"/><rect x="1259.4" y="332" width="2.2" height="1" fill="#ff0000"/><rect x="1262.4" y="332" width="2.2" height="1" fill="#ff0000"/><rect x="1265.4" y="331.5" width="2.2" height="1.1" fill="#ff0000"/><rect x="1268.5" y="332" width="2.2" height="1" fill="#00ffff"/><rect x="1271.5" y="332" width="2.2" height="1" fill="#00ffff"/><rect x="1274.5" y="332.5" width="2.2" height="1.5" fill="#00ffff"/><rect x="1277.6" y="332.5" width="2.2" height="2.8" fill="#00ffff"/><rect x="1280.6" y="332" width="2.2" height="1" fill="#ff0000"/><rect x="1283.6" y="332" width="2.2" height="1" fill="#ff0000"/><rect x="1286.7" y="327.9" width="2.2" height="4.6" fill="#ff0000"/><polyline points="987.4,336.1 990.4,340.7 993.5,345.5 996.5,350.4 999.5,355.4 1002.6,355.5 1005.6,351.8 1008.6,350 1011.7,349.7 1014.7,350.6 1017.7,352.3 1020.8,354.8 1023.8,357.8 1026.8,361.1 1029.9,364.7 1032.9,368.4 1035.9,372.3 1039,376.1 1042,379.9 1045,383.6 1048.1,387.3 1051.1,386 1054.1,385.7 1057.2,386.2 1060.2,387.2 1063.2,388.7 1066.3,390.5 1069.3,392.6 1072.4,390.1 1075.4,388.7 1078.4,388.3 1081.5,388.6 1084.5,389.6 1087.5,386.1 1090.6,384.2 1093.6,383.3 1096.6,383.4 1099.7,379.3 1102.7,376.9 1105.7,375.9 1108.8,375.8 1111.8,376.6 1114.8,378 1117.9,379.9 1120.9,382.1 1123.9,384.6 1127,382.4 1130,381.5 1133,381.5 1136.1,382.2 1139.1,383.5 1142.1,385.3 1145.2,382.5 1148.2,381.1 1151.2,376 1154.3,372.7 1157.3,371 1160.3,370.6 1163.4,366.3 1166.4,363.8 1169.4,362.9 1172.5,363 1175.5,364.1 1178.5,365.9 1181.6,368.3 1184.6,371 1187.6,374 1190.7,377.1 1193.7,375.6 1196.7,370.4 1199.8,367.2 1202.8,365.6 1205.8,365.3 1208.9,366 1211.9,362.6 1215,361 1218,360.6 1221,361.3 1224.1,362.9 1227.1,365 1230.1,367.6 1233.2,370.6 1236.2,373.7 1239.2,377.1 1242.3,380.4 1245.3,383.8 1248.3,382.4 1251.4,382.1 1254.4,382.5 1257.4,383.6 1260.5,380.3 1263.5,378.6 1266.5,377.9 1269.6,378.2 1272.6,379.2 1275.6,380.8 1278.7,382.8 1281.7,380.2 1284.7,379 1287.8,374" class="dw"/><polyline points="987.4,329.3 990.4,331.6 993.5,334.4 996.5,337.6 999.5,341.1 1002.6,344 1005.6,345.6 1008.6,346.5 1011.7,347.1 1014.7,347.8 1017.7,348.7 1020.8,349.9 1023.8,351.5 1026.8,353.4 1029.9,355.7 1032.9,358.2 1035.9,361 1039,364 1042,367.2 1045,370.5 1048.1,373.9 1051.1,376.3 1054.1,378.2 1057.2,379.8 1060.2,381.3 1063.2,382.8 1066.3,384.3 1069.3,386 1072.4,386.8 1075.4,387.2 1078.4,387.4 1081.5,387.6 1084.5,388 1087.5,387.7 1090.6,387 1093.6,386.2 1096.6,385.7 1099.7,384.4 1102.7,382.9 1105.7,381.5 1108.8,380.4 1111.8,379.6 1114.8,379.3 1117.9,379.4 1120.9,379.9 1123.9,380.9 1127,381.2 1130,381.2 1133,381.3 1136.1,381.5 1139.1,381.9 1142.1,382.5 1145.2,382.5 1148.2,382.3 1151.2,381 1154.3,379.3 1157.3,377.7 1160.3,376.3 1163.4,374.3 1166.4,372.2 1169.4,370.3 1172.5,368.9 1175.5,367.9 1178.5,367.5 1181.6,367.7 1184.6,368.3 1187.6,369.5 1190.7,371 1193.7,371.9 1196.7,371.6 1199.8,370.7 1202.8,369.7 1205.8,368.8 1208.9,368.3 1211.9,367.1 1215,365.9 1218,364.8 1221,364.1 1224.1,363.9 1227.1,364.1 1230.1,364.8 1233.2,366 1236.2,367.5 1239.2,369.4 1242.3,371.6 1245.3,374.1 1248.3,375.7 1251.4,377 1254.4,378.1 1257.4,379.2 1260.5,379.4 1263.5,379.3 1266.5,379 1269.6,378.8 1272.6,378.9 1275.6,379.3 1278.7,380 1281.7,380 1284.7,379.8 1287.8,378.7" class="dg"/><rect x="984.8" y="70" width="2" height="329.5" fill="#a80000"/><rect x="984.8" y="398.5" width="305" height="1.5" fill="#c80000"/></g><clipPath id="cp4"><rect x="1310.4" y="37" width="323.4" height="372"/></clipPath><g clip-path="url(#cp4)"><text x="1319.5 1340.2 1356.4 1368.5 1380.6 1396.8 1413 1425.1 1437.3 1449.4 1461.5 1477.7 1493.9 1510.1 1522.2 1530.3 1538.4 1550.5 1566.7 1578.8 1586.9 1595 1607.1" y="57.5 57.5 57.5 57.5 57.5 57.5 57.5 57.5 57.5 55.7 57.5 57.5 57.5 57.5 57.5 57.5 57.5 57.5 57.5 57.5 57.5 57.5 57.5" class="ct">【毒胆4】频率K线(当前遗漏:0&#160;周期:1&#160;理</text><polyline points="1311.5,213.7 1314.5,211 1317.6,205.2 1320.7,200.9 1323.8,198.1 1326.9,196.4 1329.9,195.9 1333,192.7 1336.1,182.6 1339.2,176.2 1342.3,164.3 1345.3,158 1348.4,157.1 1351.5,155.6 1354.6,157.5 1357.6,163.8 1360.7,165.8 1363.8,164.8 1366.9,159.8 1370,159.1 1373,158.1 1376.1,158.5 1379.2,159 1382.3,158.6 1385.4,157.4 1388.4,158 1391.5,160.2 1394.6,159.4 1397.7,160.2 1400.8,158.9 1403.8,162.9 1406.9,164.5 1410,168.5 1413.1,170.7 1416.1,171 1419.2,169.8 1422.3,167.3 1425.4,167.9 1428.5,179.2 1431.5,189 1434.6,197.8 1437.7,205.2 1440.8,210.9 1443.9,214.5 1446.9,216 1450,226.3 1453.1,230.7 1456.2,234.3 1459.3,237 1462.3,238.7 1465.4,239.3 1468.5,237.1 1471.6,231.1 1474.6,227.1 1477.7,224.6 1480.8,223.6 1483.9,224 1487,223 1490,213.2 1493.1,208.2 1496.2,205.7 1499.3,204.4 1502.4,204.4 1505.4,202.5 1508.5,205.4 1511.6,205.7 1514.7,206.4 1517.8,206 1520.8,204.8 1523.9,202.8 1527,204.4 1530.1,202.7 1533.1,197.6 1536.2,194.1 1539.3,192 1542.4,191.1 1545.5,191.6 1548.5,189 1551.6,183.6 1554.7,168.6 1557.8,146.2 1560.9,130.7 1563.9,109.8 1567,95.1 1570.1,84.2 1573.2,76.6 1576.3,72.1 1579.3,70.9 1582.4,73.3 1585.5,80.3 1588.6,84.7 1591.6,86 1594.7,85.4 1597.8,84.5 1600.9,83.1 1604,81.3 1607,83.2 1610.1,83.5 1613.2,82.1 1616.3,79.1 1617.8,76.7" class="bd"/><polyline points="1311.5,256.5 1314.5,255.2 1317.6,253.9 1320.7,252.7 1323.8,251.4 1326.9,250.1 1329.9,248.9 1333,247.6 1336.1,244.2 1339.2,240.7 1342.3,235.1 1345.3,229.4 1348.4,223.8 1351.5,220.3 1354.6,216.9 1357.6,213.4 1360.7,212.1 1363.8,210.9 1366.9,207.4 1370,204 1373,202.7 1376.1,201.4 1379.2,202.3 1382.3,203.3 1385.4,204.2 1388.4,202.9 1391.5,201.6 1394.6,202.6 1397.7,205.7 1400.8,208.8 1403.8,214.1 1406.9,219.4 1410,222.5 1413.1,225.6 1416.1,228.7 1419.2,231.8 1422.3,234.9 1425.4,240.2 1428.5,245.5 1431.5,250.8 1434.6,253.9 1437.7,257 1440.8,260.1 1443.9,263.2 1446.9,266.3 1450,269.4 1453.1,270.3 1456.2,271.2 1459.3,272.1 1462.3,273.1 1465.4,274 1468.5,272.7 1471.6,271.4 1474.6,270.2 1477.7,268.9 1480.8,267.6 1483.9,266.4 1487,262.9 1490,259.5 1493.1,256 1496.2,254.7 1499.3,253.5 1502.4,252.2 1505.4,248.7 1508.5,245.3 1511.6,244 1514.7,244.9 1517.8,245.9 1520.8,246.8 1523.9,247.7 1527,246.4 1530.1,245.2 1533.1,243.9 1536.2,242.6 1539.3,241.4 1542.4,240.1 1545.5,238.8 1548.5,237.5 1551.6,236.3 1554.7,232.8 1557.8,227.2 1560.9,221.5 1563.9,213.7 1567,208.1 1570.1,202.4 1573.2,196.8 1576.3,191.2 1579.3,185.5 1582.4,179.9 1585.5,174.2 1588.6,170.8 1591.6,169.5 1594.7,170.4 1597.8,171.3 1600.9,172.3 1604,173.2 1607,171.9 1610.1,170.6 1613.2,169.4 1616.3,168.1 1617.8,167.5" class="bd"/><polyline points="1311.5,299.3 1314.5,299.5 1317.6,302.7 1320.7,304.4 1323.8,304.7 1326.9,303.9 1329.9,301.8 1333,302.5 1336.1,305.7 1339.2,305.2 1342.3,305.8 1345.3,300.8 1348.4,290.4 1351.5,285 1354.6,276.2 1357.6,263 1360.7,258.5 1363.8,257 1366.9,255 1370,248.8 1373,247.3 1376.1,244.3 1379.2,245.7 1382.3,247.9 1385.4,250.9 1388.4,247.8 1391.5,243.1 1394.6,245.8 1397.7,251.2 1400.8,258.6 1403.8,265.2 1406.9,274.2 1410,276.4 1413.1,280.5 1416.1,286.3 1419.2,293.7 1422.3,302.4 1425.4,312.4 1428.5,311.7 1431.5,312.5 1434.6,309.9 1437.7,308.7 1440.8,309.3 1443.9,311.8 1446.9,316.5 1450,312.4 1453.1,309.9 1456.2,308.1 1459.3,307.3 1462.3,307.4 1465.4,308.7 1468.5,308.3 1471.6,311.7 1474.6,313.3 1477.7,313.2 1480.8,311.7 1483.9,308.7 1487,302.8 1490,305.7 1493.1,303.8 1496.2,303.8 1499.3,302.5 1502.4,300 1505.4,295 1508.5,285.2 1511.6,282.3 1514.7,283.5 1517.8,285.7 1520.8,288.8 1523.9,292.6 1527,288.4 1530.1,287.6 1533.1,290.2 1536.2,291.1 1539.3,290.7 1542.4,289 1545.5,286 1548.5,286.1 1551.6,289 1554.7,297.1 1557.8,308.2 1560.9,312.4 1563.9,317.6 1567,321 1570.1,320.7 1573.2,317 1576.3,310.2 1579.3,300.1 1582.4,286.4 1585.5,268.1 1588.6,256.9 1591.6,253 1594.7,255.4 1597.8,258.2 1600.9,261.5 1604,265 1607,260.6 1610.1,257.8 1613.2,256.6 1616.3,257.2 1617.8,258.2" class="bd"/><rect x="1311.9" y="218.2" width="2.2" height="11.8" fill="#00ffff"/><rect x="1315" y="198.2" width="2.2" height="31.9" fill="#ff0000"/><rect x="1318.1" y="198.2" width="2.2" height="11.8" fill="#00ffff"/><rect x="1321.1" y="210" width="2.2" height="11.8" fill="#00ffff"/><rect x="1324.2" y="221.9" width="2.2" height="11.8" fill="#00ffff"/><rect x="1327.3" y="233.7" width="2.2" height="11.8" fill="#00ffff"/><rect x="1330.4" y="213.7" width="2.2" height="31.9" fill="#ff0000"/><rect x="1333.5" y="181.8" width="2.2" height="31.9" fill="#ff0000"/><rect x="1336.5" y="181.8" width="2.2" height="11.8" fill="#00ffff"/><rect x="1339.6" y="161.8" width="2.2" height="31.9" fill="#ff0000"/><rect x="1342.7" y="161.8" width="2.2" height="11.8" fill="#00ffff"/><rect x="1345.8" y="173.6" width="2.2" height="11.8" fill="#00ffff"/><rect x="1348.8" y="185.5" width="2.2" height="11.8" fill="#00ffff"/><rect x="1351.9" y="197.3" width="2.2" height="11.8" fill="#00ffff"/><rect x="1355" y="209.2" width="2.2" height="11.8" fill="#00ffff"/><rect x="1358.1" y="221" width="2.2" height="11.8" fill="#00ffff"/><rect x="1361.2" y="201" width="2.2" height="31.9" fill="#ff0000"/><rect x="1364.2" y="169.1" width="2.2" height="31.9" fill="#ff0000"/><rect x="1367.3" y="169.1" width="2.2" height="11.8" fill="#00ffff"/><rect x="1370.4" y="181" width="2.2" height="11.8" fill="#00ffff"/><rect x="1373.5" y="192.8" width="2.2" height="11.8" fill="#00ffff"/><rect x="1376.6" y="204.7" width="2.2" height="11.8" fill="#00ffff"/><rect x="1379.6" y="216.5" width="2.2" height="11.8" fill="#00ffff"/><rect x="1382.7" y="228.4" width="2.2" height="11.8" fill="#00ffff"/><rect x="1385.8" y="208.4" width="2.2" height="31.9" fill="#ff0000"/><rect x="1388.9" y="208.4" width="2.2" height="11.8" fill="#00ffff"/><rect x="1392" y="220.2" width="2.2" height="11.8" fill="#00ffff"/><rect x="1395" y="232.1" width="2.2" height="11.8" fill="#00ffff"/><rect x="1398.1" y="243.9" width="2.2" height="11.8" fill="#00ffff"/><rect x="1401.2" y="255.8" width="2.2" height="11.8" fill="#00ffff"/><rect x="1404.3" y="267.6" width="2.2" height="11.9" fill="#00ffff"/><rect x="1407.3" y="247.6" width="2.2" height="31.9" fill="#ff0000"/><rect x="1410.4" y="247.6" width="2.2" height="11.8" fill="#00ffff"/><rect x="1413.5" y="259.4" width="2.2" height="11.9" fill="#00ffff"/><rect x="1416.6" y="271.3" width="2.2" height="11.9" fill="#00ffff"/><rect x="1419.7" y="283.1" width="2.2" height="11.9" fill="#00ffff"/><rect x="1422.7" y="295" width="2.2" height="11.9" fill="#00ffff"/><rect x="1425.8" y="275" width="2.2" height="31.9" fill="#ff0000"/><rect x="1428.9" y="275" width="2.2" height="11.9" fill="#00ffff"/><rect x="1432" y="254.9" width="2.2" height="31.9" fill="#ff0000"/><rect x="1435.1" y="254.9" width="2.2" height="11.8" fill="#00ffff"/><rect x="1438.1" y="266.8" width="2.2" height="11.9" fill="#00ffff"/><rect x="1441.2" y="278.6" width="2.2" height="11.9" fill="#00ffff"/><rect x="1444.3" y="290.5" width="2.2" height="11.9" fill="#00ffff"/><rect x="1447.4" y="270.5" width="2.2" height="31.9" fill="#ff0000"/><rect x="1450.5" y="238.6" width="2.2" height="31.9" fill="#ff0000"/><rect x="1453.5" y="238.6" width="2.2" height="11.8" fill="#00ffff"/><rect x="1456.6" y="250.4" width="2.2" height="11.9" fill="#00ffff"/><rect x="1459.7" y="262.3" width="2.2" height="11.9" fill="#00ffff"/><rect x="1462.8" y="274.1" width="2.2" height="11.9" fill="#00ffff"/><rect x="1465.9" y="254.1" width="2.2" height="31.9" fill="#ff0000"/><rect x="1468.9" y="222.2" width="2.2" height="31.9" fill="#ff0000"/><rect x="1472" y="222.2" width="2.2" height="11.8" fill="#00ffff"/><rect x="1475.1" y="234.1" width="2.2" height="11.8" fill="#00ffff"/><rect x="1478.2" y="245.9" width="2.2" height="11.9" fill="#00ffff"/><rect x="1481.2" y="257.8" width="2.2" height="11.9" fill="#00ffff"/><rect x="1484.3" y="237.7" width="2.2" height="31.9" fill="#ff0000"/><rect x="1487.4" y="205.9" width="2.2" height="31.9" fill="#ff0000"/><rect x="1490.5" y="205.9" width="2.2" height="11.8" fill="#00ffff"/><rect x="1493.6" y="217.7" width="2.2" height="11.8" fill="#00ffff"/><rect x="1496.6" y="229.6" width="2.2" height="11.8" fill="#00ffff"/><rect x="1499.7" y="241.4" width="2.2" height="11.8" fill="#00ffff"/><rect x="1502.8" y="221.4" width="2.2" height="31.9" fill="#ff0000"/><rect x="1505.9" y="221.4" width="2.2" height="11.8" fill="#00ffff"/><rect x="1509" y="233.2" width="2.2" height="11.8" fill="#00ffff"/><rect x="1512" y="245.1" width="2.2" height="11.8" fill="#00ffff"/><rect x="1515.1" y="256.9" width="2.2" height="11.9" fill="#00ffff"/><rect x="1518.2" y="268.8" width="2.2" height="11.9" fill="#00ffff"/><rect x="1521.3" y="280.6" width="2.2" height="11.9" fill="#00ffff"/><rect x="1524.4" y="260.6" width="2.2" height="31.9" fill="#ff0000"/><rect x="1527.4" y="228.7" width="2.2" height="31.9" fill="#ff0000"/><rect x="1530.5" y="196.9" width="2.2" height="31.9" fill="#ff0000"/><rect x="1533.6" y="196.9" width="2.2" height="11.8" fill="#00ffff"/><rect x="1536.7" y="208.7" width="2.2" height="11.8" fill="#00ffff"/><rect x="1539.7" y="220.6" width="2.2" height="11.8" fill="#00ffff"/><rect x="1542.8" y="232.4" width="2.2" height="11.8" fill="#00ffff"/><rect x="1545.9" y="212.4" width="2.2" height="31.9" fill="#ff0000"/><rect x="1549" y="180.5" width="2.2" height="31.9" fill="#ff0000"/><rect x="1552.1" y="148.6" width="2.2" height="31.9" fill="#ff0000"/><rect x="1555.1" y="116.8" width="2.2" height="31.9" fill="#ff0000"/><rect x="1558.2" y="116.8" width="2.2" height="11.8" fill="#00ffff"/><rect x="1561.3" y="96.7" width="2.2" height="31.9" fill="#ff0000"/><rect x="1564.4" y="96.7" width="2.2" height="11.8" fill="#00ffff"/><rect x="1567.5" y="108.6" width="2.2" height="11.8" fill="#00ffff"/><rect x="1570.5" y="120.4" width="2.2" height="11.8" fill="#00ffff"/><rect x="1573.6" y="132.3" width="2.2" height="11.8" fill="#00ffff"/><rect x="1576.7" y="144.1" width="2.2" height="11.8" fill="#00ffff"/><rect x="1579.8" y="156" width="2.2" height="11.8" fill="#00ffff"/><rect x="1582.9" y="167.8" width="2.2" height="11.8" fill="#00ffff"/><rect x="1585.9" y="179.7" width="2.2" height="11.8" fill="#00ffff"/><rect x="1589" y="191.5" width="2.2" height="11.8" fill="#00ffff"/><rect x="1592.1" y="203.4" width="2.2" height="11.8" fill="#00ffff"/><rect x="1595.2" y="215.2" width="2.2" height="11.8" fill="#00ffff"/><rect x="1598.2" y="227.1" width="2.2" height="11.8" fill="#00ffff"/><rect x="1601.3" y="238.9" width="2.2" height="11.8" fill="#00ffff"/><rect x="1604.4" y="218.9" width="2.2" height="31.9" fill="#ff0000"/><rect x="1607.5" y="187" width="2.2" height="31.9" fill="#ff0000"/><rect x="1610.6" y="155.1" width="2.2" height="31.9" fill="#ff0000"/><rect x="1613.6" y="123.3" width="2.2" height="31.9" fill="#ff0000"/><rect x="1616.7" y="91.4" width="2.2" height="31.9" fill="#ff0000"/><rect x="1311.9" y="365.4" width="2.2" height="3.4" fill="#ff0000"/><rect x="1315" y="363.4" width="2.2" height="5.4" fill="#ff0000"/><rect x="1318.1" y="363.6" width="2.2" height="5.2" fill="#00ffff"/><rect x="1321.1" y="365.1" width="2.2" height="3.7" fill="#00ffff"/><rect x="1324.2" y="367.4" width="2.2" height="1.4" fill="#00ffff"/><rect x="1327.3" y="368.8" width="2.2" height="1.3" fill="#00ffff"/><rect x="1330.4" y="368.3" width="2.2" height="1" fill="#ff0000"/><rect x="1333.5" y="366.5" width="2.2" height="2.3" fill="#ff0000"/><rect x="1336.5" y="366" width="2.2" height="2.8" fill="#ff0000"/><rect x="1339.6" y="363.4" width="2.2" height="5.4" fill="#ff0000"/><rect x="1342.7" y="363.3" width="2.2" height="5.5" fill="#ff0000"/><rect x="1345.8" y="364.7" width="2.2" height="4.1" fill="#00ffff"/><rect x="1348.8" y="367" width="2.2" height="1.8" fill="#00ffff"/><rect x="1351.9" y="368.3" width="2.2" height="1" fill="#00ffff"/><rect x="1355" y="368.8" width="2.2" height="3.8" fill="#00ffff"/><rect x="1358.1" y="368.8" width="2.2" height="6.6" fill="#00ffff"/><rect x="1361.2" y="368.8" width="2.2" height="5.7" fill="#ff0000"/><rect x="1364.2" y="368.8" width="2.2" height="2.4" fill="#ff0000"/><rect x="1367.3" y="368.8" width="2.2" height="1.4" fill="#ff0000"/><rect x="1370.4" y="368.8" width="2.2" height="1.9" fill="#00ffff"/><rect x="1373.5" y="368.8" width="2.2" height="3.2" fill="#00ffff"/><rect x="1376.6" y="368.8" width="2.2" height="5" fill="#00ffff"/><rect x="1379.6" y="368.8" width="2.2" height="7.1" fill="#00ffff"/><rect x="1382.7" y="368.8" width="2.2" height="9.1" fill="#00ffff"/><rect x="1385.8" y="368.8" width="2.2" height="7.4" fill="#ff0000"/><rect x="1388.9" y="368.8" width="2.2" height="7.1" fill="#ff0000"/><rect x="1392" y="368.8" width="2.2" height="7.6" fill="#00ffff"/><rect x="1395" y="368.8" width="2.2" height="8.5" fill="#00ffff"/><rect x="1398.1" y="368.8" width="2.2" height="9.7" fill="#00ffff"/><rect x="1401.2" y="368.8" width="2.2" height="11" fill="#00ffff"/><rect x="1404.3" y="368.8" width="2.2" height="12.1" fill="#00ffff"/><rect x="1407.3" y="368.8" width="2.2" height="9.7" fill="#ff0000"/><rect x="1410.4" y="368.8" width="2.2" height="8.6" fill="#ff0000"/><rect x="1413.5" y="368.8" width="2.2" height="8.3" fill="#ff0000"/><rect x="1416.6" y="368.8" width="2.2" height="8.6" fill="#00ffff"/><rect x="1419.7" y="368.8" width="2.2" height="9.2" fill="#00ffff"/><rect x="1422.7" y="368.8" width="2.2" height="10" fill="#00ffff"/><rect x="1425.8" y="368.8" width="2.2" height="7.3" fill="#ff0000"/><rect x="1428.9" y="368.8" width="2.2" height="6" fill="#ff0000"/><rect x="1432" y="368.8" width="2.2" height="2.1" fill="#ff0000"/><rect x="1435.1" y="368.3" width="2.2" height="1" fill="#ff0000"/><rect x="1438.1" y="368.3" width="2.2" height="1" fill="#ff0000"/><rect x="1441.2" y="368.3" width="2.2" height="1" fill="#00ffff"/><rect x="1444.3" y="368.8" width="2.2" height="1.8" fill="#00ffff"/><rect x="1447.4" y="368.3" width="2.2" height="1" fill="#ff0000"/><rect x="1450.5" y="364.4" width="2.2" height="4.4" fill="#ff0000"/><rect x="1453.5" y="362.9" width="2.2" height="5.9" fill="#ff0000"/><rect x="1456.6" y="363.1" width="2.2" height="5.7" fill="#00ffff"/><rect x="1459.7" y="364.3" width="2.2" height="4.5" fill="#00ffff"/><rect x="1462.8" y="366.2" width="2.2" height="2.6" fill="#00ffff"/><rect x="1465.9" y="364.8" width="2.2" height="4" fill="#ff0000"/><rect x="1468.9" y="361.4" width="2.2" height="7.4" fill="#ff0000"/><rect x="1472" y="360.6" width="2.2" height="8.2" fill="#ff0000"/><rect x="1475.1" y="361.4" width="2.2" height="7.4" fill="#00ffff"/><rect x="1478.2" y="363.2" width="2.2" height="5.6" fill="#00ffff"/><rect x="1481.2" y="365.5" width="2.2" height="3.3" fill="#00ffff"/><rect x="1484.3" y="364.5" width="2.2" height="4.3" fill="#ff0000"/><rect x="1487.4" y="361.5" width="2.2" height="7.3" fill="#ff0000"/><rect x="1490.5" y="361" width="2.2" height="7.8" fill="#ff0000"/><rect x="1493.6" y="362.1" width="2.2" height="6.8" fill="#00ffff"/><rect x="1496.6" y="364" width="2.2" height="4.8" fill="#00ffff"/><rect x="1499.7" y="366.5" width="2.2" height="2.3" fill="#00ffff"/><rect x="1502.8" y="365.7" width="2.2" height="3.1" fill="#ff0000"/><rect x="1505.9" y="366.3" width="2.2" height="2.5" fill="#00ffff"/><rect x="1509" y="368.3" width="2.2" height="1" fill="#00ffff"/><rect x="1512" y="368.8" width="2.2" height="1.1" fill="#00ffff"/><rect x="1515.1" y="368.8" width="2.2" height="3.3" fill="#00ffff"/><rect x="1518.2" y="368.8" width="2.2" height="5.6" fill="#00ffff"/><rect x="1521.3" y="368.8" width="2.2" height="7.7" fill="#00ffff"/><rect x="1524.4" y="368.8" width="2.2" height="6" fill="#ff0000"/><rect x="1527.4" y="368.8" width="2.2" height="2.1" fill="#ff0000"/><rect x="1530.5" y="365.8" width="2.2" height="3.1" fill="#ff0000"/><rect x="1533.6" y="363.6" width="2.2" height="5.2" fill="#ff0000"/><rect x="1536.7" y="363.6" width="2.2" height="5.2" fill="#ff0000"/><rect x="1539.7" y="364.8" width="2.2" height="4" fill="#00ffff"/><rect x="1542.8" y="366.8" width="2.2" height="2" fill="#00ffff"/><rect x="1545.9" y="365.6" width="2.2" height="3.2" fill="#ff0000"/><rect x="1549" y="362.5" width="2.2" height="6.3" fill="#ff0000"/><rect x="1552.1" y="358.3" width="2.2" height="10.5" fill="#ff0000"/><rect x="1555.1" y="353.8" width="2.2" height="15" fill="#ff0000"/><rect x="1558.2" y="352.8" width="2.2" height="16" fill="#ff0000"/><rect x="1561.3" y="350.7" width="2.2" height="18.1" fill="#ff0000"/><rect x="1564.4" y="351.4" width="2.2" height="17.4" fill="#00ffff"/><rect x="1567.5" y="354" width="2.2" height="14.8" fill="#00ffff"/><rect x="1570.5" y="357.6" width="2.2" height="11.2" fill="#00ffff"/><rect x="1573.6" y="361.7" width="2.2" height="7.1" fill="#00ffff"/><rect x="1576.7" y="365.9" width="2.2" height="2.9" fill="#00ffff"/><rect x="1579.8" y="368.8" width="2.2" height="1.2" fill="#00ffff"/><rect x="1582.9" y="368.8" width="2.2" height="5" fill="#00ffff"/><rect x="1585.9" y="368.8" width="2.2" height="8.4" fill="#00ffff"/><rect x="1589" y="368.8" width="2.2" height="11.3" fill="#00ffff"/><rect x="1592.1" y="368.8" width="2.2" height="13.7" fill="#00ffff"/><rect x="1595.2" y="368.8" width="2.2" height="15.8" fill="#00ffff"/><rect x="1598.2" y="368.8" width="2.2" height="17.4" fill="#00ffff"/><rect x="1601.3" y="368.8" width="2.2" height="18.6" fill="#00ffff"/><rect x="1604.4" y="368.8" width="2.2" height="15.9" fill="#ff0000"/><rect x="1607.5" y="368.8" width="2.2" height="10.9" fill="#ff0000"/><rect x="1610.6" y="368.8" width="2.2" height="4.6" fill="#ff0000"/><rect x="1613.6" y="366.7" width="2.2" height="2.1" fill="#ff0000"/><rect x="1616.7" y="360.1" width="2.2" height="8.7" fill="#ff0000"/><polyline points="1313,346.9 1316.1,343.6 1319.2,342.5 1322.2,343.1 1325.3,345.1 1328.4,348.1 1331.5,347.4 1334.6,344 1337.6,342.7 1340.7,338.9 1343.8,337.3 1346.9,337.7 1349.9,339.6 1353,342.5 1356.1,346.4 1359.2,350.8 1362.3,351.3 1365.3,348.6 1368.4,348 1371.5,348.9 1374.6,351.1 1377.7,354.1 1380.7,357.9 1383.8,362.2 1386.9,362.4 1390,363.9 1393.1,366.2 1396.1,369.3 1399.2,372.9 1402.3,376.9 1405.4,381.1 1408.4,381.1 1411.5,382.1 1414.6,384 1417.7,386.4 1420.8,389.4 1423.8,392.6 1426.9,391.7 1430,391.9 1433.1,388.5 1436.2,386.9 1439.2,386.6 1442.3,387.4 1445.4,389 1448.5,386.8 1451.6,381.6 1454.6,378.6 1457.7,377.4 1460.8,377.5 1463.9,378.7 1467,376.3 1470,371.1 1473.1,368.2 1476.2,367.1 1479.3,367.5 1482.3,369 1485.4,367 1488.5,362.2 1491.6,359.7 1494.7,359.1 1497.7,359.9 1500.8,361.8 1503.9,360.2 1507,360.2 1510.1,361.5 1513.1,363.8 1516.2,366.9 1519.3,370.5 1522.4,374.5 1525.5,374.3 1528.5,371 1531.6,365 1534.7,361.7 1537.8,360.3 1540.8,360.5 1543.9,362 1547,360 1550.1,355.3 1553.2,348.5 1556.2,340.3 1559.3,335.3 1562.4,328.6 1565.5,325 1568.6,323.8 1571.6,324.6 1574.7,327 1577.8,330.5 1580.9,334.9 1584,339.9 1587,345.4 1590.1,351.1 1593.2,357 1596.3,363 1599.3,368.9 1602.4,374.7 1605.5,376 1608.6,373.7 1611.7,368.7 1614.7,361.5 1617.8,352.7" class="dw"/><polyline points="1313,350.3 1316.1,349 1319.2,347.7 1322.2,346.8 1325.3,346.4 1328.4,346.7 1331.5,346.9 1334.6,346.3 1337.6,345.6 1340.7,344.2 1343.8,342.9 1346.9,341.8 1349.9,341.4 1353,341.6 1356.1,342.6 1359.2,344.2 1362.3,345.6 1365.3,346.2 1368.4,346.6 1371.5,347 1374.6,347.8 1377.7,349.1 1380.7,350.9 1383.8,353.1 1386.9,355 1390,356.8 1393.1,358.7 1396.1,360.8 1399.2,363.2 1402.3,366 1405.4,369 1408.4,371.4 1411.5,373.6 1414.6,375.6 1417.7,377.8 1420.8,380.1 1423.8,382.6 1426.9,384.4 1430,385.9 1433.1,386.4 1436.2,386.5 1439.2,386.6 1442.3,386.7 1445.4,387.2 1448.5,387.1 1451.6,386 1454.6,384.5 1457.7,383.1 1460.8,382 1463.9,381.3 1467,380.3 1470,378.5 1473.1,376.4 1476.2,374.6 1479.3,373.1 1482.3,372.3 1485.4,371.3 1488.5,369.4 1491.6,367.5 1494.7,365.8 1497.7,364.6 1500.8,364 1503.9,363.3 1507,362.6 1510.1,362.4 1513.1,362.7 1516.2,363.5 1519.3,364.9 1522.4,366.8 1525.5,368.3 1528.5,368.9 1531.6,368.1 1534.7,366.8 1537.8,365.5 1540.8,364.5 1543.9,364 1547,363.2 1550.1,361.6 1553.2,359 1556.2,355.2 1559.3,351.3 1562.4,346.7 1565.5,342.4 1568.6,338.7 1571.6,335.9 1574.7,334.1 1577.8,333.4 1580.9,333.7 1584,334.9 1587,337 1590.1,339.8 1593.2,343.3 1596.3,347.2 1599.3,351.5 1602.4,356.2 1605.5,360.2 1608.6,362.9 1611.7,364 1614.7,363.5 1617.8,361.3" class="dg"/><rect x="1310.4" y="70" width="2" height="329.5" fill="#a80000"/><rect x="1310.4" y="398.5" width="309.6" height="1.5" fill="#c80000"/><polygon points="1335.9,211 1366.9,198.8 1397.8,186.6 1428.8,174.5 1459.8,162.3 1490.7,150.1 1521.7,137.9 1552.6,125.8 1583.6,113.6 1583.7,117.8 1593.1,106.4 1578.4,104.8 1581.3,107.8 1550.6,120.7 1519.9,133.5 1489.2,146.3 1458.5,159.1 1427.8,172 1397.1,184.8 1366.4,197.6 1335.7,210.4" fill="#20a820"/></g><clipPath id="cp5"><rect x="8" y="409" width="323.4" height="372"/></clipPath><g clip-path="url(#cp5)"><text x="17.1 37.8 54 66.1 78.2 94.4 110.6 122.7 134.9 147 159.1 175.3 191.5 207.7 219.8 227.9 236 248.1 264.3 276.4 284.5" y="429.5 429.5 429.5 429.5 429.5 429.5 429.5 429.5 429.5 427.7 429.5 429.5 429.5 429.5 429.5 429.5 429.5 429.5 429.5 429.5 429.5" class="ct">【毒胆5】频率K线(当前遗漏:2&#160;周期:1</text><polyline points="9.1,520.7 12.1,529.3 15.2,535.3 18.2,537.4 21.2,536.1 24.3,537.5 27.3,536.8 30.3,535.6 33.4,536.2 36.4,540.6 39.4,544.2 42.5,546.9 45.5,557.7 48.5,567.9 51.6,578.4 54.6,586.6 57.6,594.4 60.7,601.7 63.7,604.5 66.7,607 69.8,603 72.8,592.1 75.8,584.4 78.9,579.1 81.9,569.6 84.9,563.4 88,559 91,556.2 94,555 97.1,555.4 100.1,557.7 103.1,562.5 106.2,564.1 109.2,568.7 112.2,570.2 115.3,569.6 118.3,568.5 121.3,567 124.4,564.1 127.4,563.9 130.4,564.8 133.5,569.6 136.5,571.5 139.5,573.1 142.6,580.2 145.6,586.5 148.6,591.5 151.7,593.8 154.7,589.9 157.7,579.2 160.8,572.1 163.8,567.6 166.9,565.5 169.9,559.1 172.9,548.2 176,533.4 179,515.7 182,496.2 185.1,483.7 188.1,473.8 191.1,465.9 194.2,455.7 197.2,447.7 200.2,442.5 203.3,440.4 206.3,441.5 209.3,446.8 212.4,451 215.4,453.6 218.4,454.4 221.5,455.7 224.5,457.6 227.5,462.5 230.6,464.3 233.6,464.6 236.6,464.7 239.7,466.4 242.7,472.2 245.7,476.7 248.8,481.1 251.8,482.9 254.8,491 257.9,494.1 260.9,489.2 263.9,476.5 267,467.2 270,460.3 273,455.1 276.1,451.7 279.1,449.7 282.1,449.4 285.2,450.8 288.2,451.1 291.2,451.1 294.3,450.7 297.3,451 300.3,451.9 303.4,453.5 306.4,457.4 309.4,458.6 311,458.4" class="bd"/><polyline points="9.1,605.2 12.1,601.1 15.2,598.6 18.2,597.7 21.2,598.4 24.3,597.5 27.3,598.1 30.3,600.4 33.4,604.2 36.4,609.5 39.4,614.9 42.5,620.3 45.5,625.6 48.5,631 51.6,634.8 54.6,637 57.6,639.3 60.7,641.5 63.7,642.2 66.7,642.8 69.8,641.9 72.8,639.4 75.8,637 78.9,634.5 81.9,630.4 84.9,627.9 88,625.5 91,623 94,620.5 97.1,618 100.1,615.5 103.1,613 106.2,610.6 109.2,608.1 112.2,607.2 115.3,607.8 118.3,608.5 121.3,609.2 124.4,611.4 127.4,612 130.4,612.7 133.5,614.9 136.5,615.6 139.5,616.3 142.6,618.5 145.6,620.7 148.6,622.9 151.7,623.6 154.7,622.7 157.7,620.2 160.8,617.7 163.8,615.2 166.9,614.3 169.9,611.9 172.9,607.8 176,602.2 179,595 182,586.2 185.1,577.5 188.1,570.3 191.1,564.6 194.2,557.4 197.2,551.8 200.2,546.2 203.3,540.6 206.3,535 209.3,529.3 212.4,525.3 215.4,522.8 218.4,521.9 221.5,521 224.5,520.1 227.5,517.6 230.6,516.7 233.6,515.8 236.6,516.4 239.7,518.7 242.7,522.5 245.7,526.3 248.8,528.5 251.8,529.1 254.8,531.4 257.9,532 260.9,531.1 263.9,528.6 267,526.2 270,523.7 273,521.2 276.1,518.7 279.1,516.2 282.1,513.8 285.2,511.3 288.2,510.4 291.2,507.9 294.3,507 297.3,506.1 300.3,505.1 303.4,504.2 306.4,501.8 309.4,500.8 311,501.2" class="bd"/><polyline points="9.1,689.7 12.1,672.9 15.2,662 18.2,658 21.2,660.6 24.3,657.4 27.3,659.5 30.3,665.1 33.4,672.1 36.4,678.4 39.4,685.6 42.5,693.7 45.5,693.6 48.5,694.1 51.6,691.2 54.6,687.5 57.6,684.1 60.7,681.3 63.7,679.8 66.7,678.7 69.8,680.8 72.8,686.8 75.8,689.5 78.9,689.9 81.9,691.2 84.9,692.4 88,691.9 91,689.7 94,686 97.1,680.6 100.1,673.4 103.1,663.6 106.2,657 109.2,647.5 112.2,644.1 115.3,646.1 118.3,648.5 121.3,651.3 124.4,658.6 127.4,660.2 130.4,660.6 133.5,660.3 136.5,659.7 139.5,659.5 142.6,656.8 145.6,655 148.6,654.4 151.7,653.4 154.7,655.5 157.7,661.2 160.8,663.4 163.8,662.9 166.9,663.2 169.9,664.6 172.9,667.4 176,671 179,674.2 182,676.3 185.1,671.2 188.1,666.7 191.1,663.4 194.2,659.2 197.2,656 200.2,649.9 203.3,640.8 206.3,628.4 209.3,611.9 212.4,599.5 215.4,592 218.4,589.4 221.5,586.3 224.5,582.6 227.5,572.6 230.6,569.1 233.6,566.9 236.6,568.2 239.7,570.9 242.7,572.7 245.7,575.8 248.8,575.9 251.8,575.4 254.8,571.8 257.9,570 260.9,573 263.9,580.8 267,585.1 270,587.1 273,587.2 276.1,585.8 279.1,582.7 282.1,578.1 285.2,571.7 288.2,569.6 291.2,564.7 294.3,563.2 297.3,561.1 300.3,558.4 303.4,555 306.4,546.1 309.4,543.1 311,544" class="bd"/><rect x="9.5" y="618.5" width="2.2" height="8.5" fill="#00ffff"/><rect x="12.5" y="627" width="2.2" height="8.5" fill="#00ffff"/><rect x="15.6" y="635.5" width="2.2" height="8.5" fill="#00ffff"/><rect x="18.6" y="644" width="2.2" height="8.5" fill="#00ffff"/><rect x="21.6" y="629.7" width="2.2" height="22.9" fill="#ff0000"/><rect x="24.7" y="629.7" width="2.2" height="8.5" fill="#00ffff"/><rect x="27.7" y="638.2" width="2.2" height="8.5" fill="#00ffff"/><rect x="30.7" y="646.7" width="2.2" height="8.5" fill="#00ffff"/><rect x="33.8" y="655.2" width="2.2" height="8.5" fill="#00ffff"/><rect x="36.8" y="663.7" width="2.2" height="8.5" fill="#00ffff"/><rect x="39.8" y="672.2" width="2.2" height="8.5" fill="#00ffff"/><rect x="42.9" y="657.8" width="2.2" height="22.9" fill="#ff0000"/><rect x="45.9" y="657.8" width="2.2" height="8.5" fill="#00ffff"/><rect x="48.9" y="643.4" width="2.2" height="22.9" fill="#ff0000"/><rect x="52" y="620.5" width="2.2" height="22.9" fill="#ff0000"/><rect x="55" y="620.5" width="2.2" height="8.5" fill="#00ffff"/><rect x="58" y="629.1" width="2.2" height="8.5" fill="#00ffff"/><rect x="61.1" y="614.7" width="2.2" height="22.9" fill="#ff0000"/><rect x="64.1" y="614.7" width="2.2" height="8.5" fill="#00ffff"/><rect x="67.1" y="600.3" width="2.2" height="22.9" fill="#ff0000"/><rect x="70.2" y="577.4" width="2.2" height="22.9" fill="#ff0000"/><rect x="73.2" y="577.4" width="2.2" height="8.5" fill="#00ffff"/><rect x="76.2" y="585.9" width="2.2" height="8.5" fill="#00ffff"/><rect x="79.3" y="571.5" width="2.2" height="22.9" fill="#ff0000"/><rect x="82.3" y="571.5" width="2.2" height="8.5" fill="#00ffff"/><rect x="85.3" y="580" width="2.2" height="8.5" fill="#00ffff"/><rect x="88.4" y="588.5" width="2.2" height="8.5" fill="#00ffff"/><rect x="91.4" y="597" width="2.2" height="8.5" fill="#00ffff"/><rect x="94.5" y="605.6" width="2.2" height="8.5" fill="#00ffff"/><rect x="97.5" y="614.1" width="2.2" height="8.5" fill="#00ffff"/><rect x="100.5" y="622.6" width="2.2" height="8.5" fill="#00ffff"/><rect x="103.6" y="608.2" width="2.2" height="22.9" fill="#ff0000"/><rect x="106.6" y="608.2" width="2.2" height="8.5" fill="#00ffff"/><rect x="109.6" y="616.7" width="2.2" height="8.5" fill="#00ffff"/><rect x="112.7" y="625.2" width="2.2" height="8.5" fill="#00ffff"/><rect x="115.7" y="633.7" width="2.2" height="8.5" fill="#00ffff"/><rect x="118.7" y="642.2" width="2.2" height="8.5" fill="#00ffff"/><rect x="121.8" y="650.8" width="2.2" height="8.5" fill="#00ffff"/><rect x="124.8" y="636.4" width="2.2" height="22.9" fill="#ff0000"/><rect x="127.8" y="613.5" width="2.2" height="22.9" fill="#ff0000"/><rect x="130.9" y="613.5" width="2.2" height="8.5" fill="#00ffff"/><rect x="133.9" y="599.1" width="2.2" height="22.9" fill="#ff0000"/><rect x="136.9" y="599.1" width="2.2" height="8.5" fill="#00ffff"/><rect x="140" y="607.6" width="2.2" height="8.5" fill="#00ffff"/><rect x="143" y="616.1" width="2.2" height="8.5" fill="#00ffff"/><rect x="146" y="624.6" width="2.2" height="8.5" fill="#00ffff"/><rect x="149.1" y="610.2" width="2.2" height="22.9" fill="#ff0000"/><rect x="152.1" y="587.3" width="2.2" height="22.9" fill="#ff0000"/><rect x="155.1" y="564.4" width="2.2" height="22.9" fill="#ff0000"/><rect x="158.2" y="564.4" width="2.2" height="8.5" fill="#00ffff"/><rect x="161.2" y="573" width="2.2" height="8.5" fill="#00ffff"/><rect x="164.2" y="581.5" width="2.2" height="8.5" fill="#00ffff"/><rect x="167.3" y="567.1" width="2.2" height="22.9" fill="#ff0000"/><rect x="170.3" y="544.2" width="2.2" height="22.9" fill="#ff0000"/><rect x="173.3" y="521.3" width="2.2" height="22.9" fill="#ff0000"/><rect x="176.4" y="498.4" width="2.2" height="22.9" fill="#ff0000"/><rect x="179.4" y="475.5" width="2.2" height="22.9" fill="#ff0000"/><rect x="182.4" y="475.5" width="2.2" height="8.5" fill="#00ffff"/><rect x="185.5" y="484" width="2.2" height="8.5" fill="#00ffff"/><rect x="188.5" y="492.5" width="2.2" height="8.5" fill="#00ffff"/><rect x="191.5" y="478.1" width="2.2" height="22.9" fill="#ff0000"/><rect x="194.6" y="478.1" width="2.2" height="8.5" fill="#00ffff"/><rect x="197.6" y="486.6" width="2.2" height="8.5" fill="#00ffff"/><rect x="200.6" y="495.1" width="2.2" height="8.5" fill="#00ffff"/><rect x="203.7" y="503.7" width="2.2" height="8.5" fill="#00ffff"/><rect x="206.7" y="512.2" width="2.2" height="8.5" fill="#00ffff"/><rect x="209.7" y="520.7" width="2.2" height="8.5" fill="#00ffff"/><rect x="212.8" y="529.2" width="2.2" height="8.5" fill="#00ffff"/><rect x="215.8" y="537.7" width="2.2" height="8.5" fill="#00ffff"/><rect x="218.8" y="546.2" width="2.2" height="8.5" fill="#00ffff"/><rect x="221.9" y="554.7" width="2.2" height="8.5" fill="#00ffff"/><rect x="224.9" y="540.3" width="2.2" height="22.9" fill="#ff0000"/><rect x="227.9" y="540.3" width="2.2" height="8.5" fill="#00ffff"/><rect x="231" y="526" width="2.2" height="22.9" fill="#ff0000"/><rect x="234" y="526" width="2.2" height="8.5" fill="#00ffff"/><rect x="237" y="534.5" width="2.2" height="8.5" fill="#00ffff"/><rect x="240.1" y="543" width="2.2" height="8.5" fill="#00ffff"/><rect x="243.1" y="551.5" width="2.2" height="8.5" fill="#00ffff"/><rect x="246.2" y="537.1" width="2.2" height="22.9" fill="#ff0000"/><rect x="249.2" y="514.2" width="2.2" height="22.9" fill="#ff0000"/><rect x="252.2" y="514.2" width="2.2" height="8.5" fill="#00ffff"/><rect x="255.3" y="499.8" width="2.2" height="22.9" fill="#ff0000"/><rect x="258.3" y="476.9" width="2.2" height="22.9" fill="#ff0000"/><rect x="261.3" y="454" width="2.2" height="22.9" fill="#ff0000"/><rect x="264.4" y="454" width="2.2" height="8.5" fill="#00ffff"/><rect x="267.4" y="462.5" width="2.2" height="8.5" fill="#00ffff"/><rect x="270.4" y="471" width="2.2" height="8.5" fill="#00ffff"/><rect x="273.5" y="479.6" width="2.2" height="8.5" fill="#00ffff"/><rect x="276.5" y="488.1" width="2.2" height="8.5" fill="#00ffff"/><rect x="279.5" y="496.6" width="2.2" height="8.5" fill="#00ffff"/><rect x="282.6" y="505.1" width="2.2" height="8.5" fill="#00ffff"/><rect x="285.6" y="513.6" width="2.2" height="8.5" fill="#00ffff"/><rect x="288.6" y="499.2" width="2.2" height="22.9" fill="#ff0000"/><rect x="291.7" y="499.2" width="2.2" height="8.5" fill="#00ffff"/><rect x="294.7" y="507.7" width="2.2" height="8.5" fill="#00ffff"/><rect x="297.7" y="516.2" width="2.2" height="8.5" fill="#00ffff"/><rect x="300.8" y="524.8" width="2.2" height="8.5" fill="#00ffff"/><rect x="303.8" y="510.4" width="2.2" height="22.9" fill="#ff0000"/><rect x="306.8" y="510.4" width="2.2" height="8.5" fill="#00ffff"/><rect x="309.9" y="518.9" width="2.2" height="8.5" fill="#00ffff"/><rect x="9.5" y="746.3" width="2.2" height="8.4" fill="#00ffff"/><rect x="12.5" y="746.3" width="2.2" height="10.8" fill="#00ffff"/><rect x="15.6" y="746.3" width="2.2" height="12.7" fill="#00ffff"/><rect x="18.6" y="746.3" width="2.2" height="14.1" fill="#00ffff"/><rect x="21.6" y="746.3" width="2.2" height="12.3" fill="#ff0000"/><rect x="24.7" y="746.3" width="2.2" height="11.5" fill="#ff0000"/><rect x="27.7" y="746.3" width="2.2" height="11.2" fill="#ff0000"/><rect x="30.7" y="746.3" width="2.2" height="11.2" fill="#00ffff"/><rect x="33.8" y="746.3" width="2.2" height="11.5" fill="#00ffff"/><rect x="36.8" y="746.3" width="2.2" height="11.8" fill="#00ffff"/><rect x="39.8" y="746.3" width="2.2" height="12.2" fill="#00ffff"/><rect x="42.9" y="746.3" width="2.2" height="9.6" fill="#ff0000"/><rect x="45.9" y="746.3" width="2.2" height="8.2" fill="#ff0000"/><rect x="48.9" y="746.3" width="2.2" height="4.7" fill="#ff0000"/><rect x="52" y="745.8" width="2.2" height="1" fill="#ff0000"/><rect x="55" y="744.1" width="2.2" height="2.2" fill="#ff0000"/><rect x="58" y="743.5" width="2.2" height="2.8" fill="#ff0000"/><rect x="61.1" y="741.1" width="2.2" height="5.3" fill="#ff0000"/><rect x="64.1" y="740.5" width="2.2" height="5.8" fill="#ff0000"/><rect x="67.1" y="738.3" width="2.2" height="8" fill="#ff0000"/><rect x="70.2" y="735.2" width="2.2" height="11.1" fill="#ff0000"/><rect x="73.2" y="734.6" width="2.2" height="11.8" fill="#ff0000"/><rect x="76.2" y="735.6" width="2.2" height="10.7" fill="#00ffff"/><rect x="79.3" y="734.7" width="2.2" height="11.6" fill="#ff0000"/><rect x="82.3" y="735.6" width="2.2" height="10.7" fill="#00ffff"/><rect x="85.3" y="737.6" width="2.2" height="8.7" fill="#00ffff"/><rect x="88.4" y="740.2" width="2.2" height="6.2" fill="#00ffff"/><rect x="91.4" y="743" width="2.2" height="3.3" fill="#00ffff"/><rect x="94.5" y="745.8" width="2.2" height="1" fill="#00ffff"/><rect x="97.5" y="746.3" width="2.2" height="2.2" fill="#00ffff"/><rect x="100.5" y="746.3" width="2.2" height="4.7" fill="#00ffff"/><rect x="103.6" y="746.3" width="2.2" height="4" fill="#ff0000"/><rect x="106.6" y="746.3" width="2.2" height="4.2" fill="#00ffff"/><rect x="109.6" y="746.3" width="2.2" height="5" fill="#00ffff"/><rect x="112.7" y="746.3" width="2.2" height="6.1" fill="#00ffff"/><rect x="115.7" y="746.3" width="2.2" height="7.3" fill="#00ffff"/><rect x="118.7" y="746.3" width="2.2" height="8.5" fill="#00ffff"/><rect x="121.8" y="746.3" width="2.2" height="9.6" fill="#00ffff"/><rect x="124.8" y="746.3" width="2.2" height="7.7" fill="#ff0000"/><rect x="127.8" y="746.3" width="2.2" height="4" fill="#ff0000"/><rect x="130.9" y="746.3" width="2.2" height="2.2" fill="#ff0000"/><rect x="133.9" y="745.2" width="2.2" height="1.2" fill="#ff0000"/><rect x="136.9" y="743.9" width="2.2" height="2.5" fill="#ff0000"/><rect x="140" y="744" width="2.2" height="2.4" fill="#00ffff"/><rect x="143" y="744.9" width="2.2" height="1.4" fill="#00ffff"/><rect x="146" y="745.8" width="2.2" height="1" fill="#00ffff"/><rect x="149.1" y="745.1" width="2.2" height="1.2" fill="#ff0000"/><rect x="152.1" y="742.3" width="2.2" height="4" fill="#ff0000"/><rect x="155.1" y="738.7" width="2.2" height="7.7" fill="#ff0000"/><rect x="158.2" y="737.6" width="2.2" height="8.8" fill="#ff0000"/><rect x="161.2" y="738.2" width="2.2" height="8.2" fill="#00ffff"/><rect x="164.2" y="739.8" width="2.2" height="6.5" fill="#00ffff"/><rect x="167.3" y="739.1" width="2.2" height="7.2" fill="#ff0000"/><rect x="170.3" y="737.1" width="2.2" height="9.3" fill="#ff0000"/><rect x="173.3" y="734.3" width="2.2" height="12" fill="#ff0000"/><rect x="176.4" y="731.2" width="2.2" height="15.1" fill="#ff0000"/><rect x="179.4" y="728.1" width="2.2" height="18.2" fill="#ff0000"/><rect x="182.4" y="728.2" width="2.2" height="18.2" fill="#00ffff"/><rect x="185.5" y="730.2" width="2.2" height="16.2" fill="#00ffff"/><rect x="188.5" y="733.3" width="2.2" height="13" fill="#00ffff"/><rect x="191.5" y="734.2" width="2.2" height="12.1" fill="#00ffff"/><rect x="194.6" y="736.5" width="2.2" height="9.8" fill="#00ffff"/><rect x="197.6" y="739.7" width="2.2" height="6.7" fill="#00ffff"/><rect x="200.6" y="743.1" width="2.2" height="3.2" fill="#00ffff"/><rect x="203.7" y="745.8" width="2.2" height="1" fill="#00ffff"/><rect x="206.7" y="746.3" width="2.2" height="3.7" fill="#00ffff"/><rect x="209.7" y="746.3" width="2.2" height="6.7" fill="#00ffff"/><rect x="212.8" y="746.3" width="2.2" height="9.5" fill="#00ffff"/><rect x="215.8" y="746.3" width="2.2" height="11.8" fill="#00ffff"/><rect x="218.8" y="746.3" width="2.2" height="13.7" fill="#00ffff"/><rect x="221.9" y="746.3" width="2.2" height="15.3" fill="#00ffff"/><rect x="224.9" y="746.3" width="2.2" height="13.6" fill="#ff0000"/><rect x="227.9" y="746.3" width="2.2" height="12.9" fill="#ff0000"/><rect x="231" y="746.3" width="2.2" height="9.8" fill="#ff0000"/><rect x="234" y="746.3" width="2.2" height="8.3" fill="#ff0000"/><rect x="237" y="746.3" width="2.2" height="7.9" fill="#ff0000"/><rect x="240.1" y="746.3" width="2.2" height="8.1" fill="#00ffff"/><rect x="243.1" y="746.3" width="2.2" height="8.7" fill="#00ffff"/><rect x="246.2" y="746.3" width="2.2" height="6.7" fill="#ff0000"/><rect x="249.2" y="746.3" width="2.2" height="3" fill="#ff0000"/><rect x="252.2" y="746.3" width="2.2" height="1.4" fill="#ff0000"/><rect x="255.3" y="744.6" width="2.2" height="1.7" fill="#ff0000"/><rect x="258.3" y="740.7" width="2.2" height="5.6" fill="#ff0000"/><rect x="261.3" y="736.6" width="2.2" height="9.8" fill="#ff0000"/><rect x="264.4" y="735.4" width="2.2" height="11" fill="#ff0000"/><rect x="267.4" y="736.1" width="2.2" height="10.2" fill="#00ffff"/><rect x="270.4" y="738" width="2.2" height="8.3" fill="#00ffff"/><rect x="273.5" y="740.6" width="2.2" height="5.7" fill="#00ffff"/><rect x="276.5" y="743.5" width="2.2" height="2.8" fill="#00ffff"/><rect x="279.5" y="745.8" width="2.2" height="1" fill="#00ffff"/><rect x="282.6" y="746.3" width="2.2" height="2.9" fill="#00ffff"/><rect x="285.6" y="746.3" width="2.2" height="5.5" fill="#00ffff"/><rect x="288.6" y="746.3" width="2.2" height="4.9" fill="#ff0000"/><rect x="291.7" y="746.3" width="2.2" height="5.2" fill="#00ffff"/><rect x="294.7" y="746.3" width="2.2" height="6.1" fill="#00ffff"/><rect x="297.7" y="746.3" width="2.2" height="7.2" fill="#00ffff"/><rect x="300.8" y="746.3" width="2.2" height="8.5" fill="#00ffff"/><rect x="303.8" y="746.3" width="2.2" height="6.8" fill="#ff0000"/><rect x="306.8" y="746.3" width="2.2" height="6.3" fill="#ff0000"/><rect x="309.9" y="746.3" width="2.2" height="6.4" fill="#00ffff"/><polyline points="10.6,731 13.6,736.1 16.7,741.1 19.7,746.1 22.7,747.4 25.8,749.4 28.8,751.9 31.8,754.8 34.9,757.9 37.9,761.2 40.9,764.6 44,764.4 47,765 50,762.7 53.1,758 56.1,755.2 59.1,753.9 62.2,750.2 65.2,748.2 68.2,743.9 71.3,738 74.3,734.5 77.3,732.8 80.4,729 83.4,727.3 86.4,727 89.5,728.1 92.5,730.1 95.6,732.8 98.6,736.1 101.6,739.7 104.7,740 107.7,741.3 110.7,743.4 113.8,746 116.8,749 119.8,752.3 122.9,755.8 125.9,755.8 128.9,753.1 132,751.9 135,748.2 138,746.3 141.1,745.8 144.1,746.4 147.1,747.8 150.2,746.3 153.2,742.5 156.2,736.9 159.3,733.6 162.3,732.1 165.3,732.1 168.4,729.7 171.4,725.3 174.4,719.5 177.5,712.6 180.5,705 183.5,700.5 186.6,698.5 189.6,698.4 192.6,696.2 195.7,696.1 198.7,697.5 201.7,700.2 204.8,703.8 207.8,708.1 210.8,712.8 213.9,717.9 216.9,723.2 219.9,728.6 223,734 226,735.7 229,738.2 232.1,737.6 235.1,738.2 238.1,739.7 241.2,742 244.2,744.8 247.3,744.4 250.3,741.4 253.3,740.2 256.4,736.6 259.4,731.3 262.4,724.7 265.5,720.8 268.5,719 271.5,718.8 274.6,720 277.6,722.2 280.6,725.2 283.7,728.7 286.7,732.7 289.7,733.3 292.8,734.9 295.8,737.3 298.8,740.2 301.9,743.6 304.9,743.6 307.9,744.6 311,746.4" class="dw"/><polyline points="10.6,722.6 13.6,725.3 16.7,728.5 19.7,732 22.7,735.1 25.8,737.9 28.8,740.7 31.8,743.5 34.9,746.4 37.9,749.4 40.9,752.4 44,754.8 47,756.8 50,758 53.1,758 56.1,757.5 59.1,756.7 62.2,755.4 65.2,754 68.2,752 71.3,749.2 74.3,746.2 77.3,743.6 80.4,740.7 83.4,738 86.4,735.8 89.5,734.2 92.5,733.4 95.6,733.3 98.6,733.8 101.6,735 104.7,736 107.7,737.1 110.7,738.3 113.8,739.9 116.8,741.7 119.8,743.8 122.9,746.2 125.9,748.1 128.9,749.1 132,749.7 135,749.4 138,748.8 141.1,748.2 144.1,747.8 147.1,747.8 150.2,747.5 153.2,746.5 156.2,744.6 159.3,742.4 162.3,740.3 165.3,738.7 168.4,736.9 171.4,734.6 174.4,731.6 177.5,727.8 180.5,723.2 183.5,718.7 186.6,714.6 189.6,711.4 192.6,708.4 195.7,705.9 198.7,704.2 201.7,703.4 204.8,703.5 207.8,704.4 210.8,706.1 213.9,708.5 216.9,711.4 219.9,714.8 223,718.7 226,722.1 229,725.3 232.1,727.8 235.1,729.8 238.1,731.8 241.2,733.8 244.2,736 247.3,737.7 250.3,738.4 253.3,738.8 256.4,738.4 259.4,737 262.4,734.5 265.5,731.8 268.5,729.2 271.5,727.1 274.6,725.7 277.6,725 280.6,725 283.7,725.8 286.7,727.1 289.7,728.4 292.8,729.7 295.8,731.2 298.8,733 301.9,735.1 304.9,736.8 307.9,738.4 311,740" class="dg"/><rect x="8" y="442" width="2" height="329.5" fill="#a80000"/><rect x="8" y="770.5" width="305" height="1.5" fill="#c80000"/><polygon points="32.6,621.3 64.8,612.3 97.1,603.2 129.3,594.2 161.6,585.2 193.8,576.2 226,567.2 258.3,558.1 290.5,549.1 290.1,553 301.1,542.5 286.2,539.6 288.6,542.6 256.6,552.4 224.6,562.1 192.5,571.9 160.5,581.7 128.5,591.4 96.5,601.2 64.4,610.9 32.4,620.7" fill="#20a820"/></g><clipPath id="cp6"><rect x="333.6" y="409" width="323.4" height="372"/></clipPath><g clip-path="url(#cp6)"><text x="342.7 363.4 379.6 391.7 403.8 420 436.2 448.3 460.4 472.6 484.7 500.9 517.1 533.3 545.4 553.5 561.6 573.7 589.9 602 610.1" y="429.5 429.5 429.5 429.5 429.5 429.5 429.5 429.5 429.5 427.7 429.5 429.5 429.5 429.5 429.5 429.5 429.5 429.5 429.5 429.5 429.5" class="ct">【毒胆6】频率K线(当前遗漏:3&#160;周期:1</text><polyline points="334.7,623.3 337.7,616 340.8,606.9 343.8,600.2 346.8,595.1 349.9,591.2 352.9,588.4 355.9,586.7 359,586.1 362,585.7 365,585.6 368.1,584.8 371.1,585.2 374.1,585.4 377.2,585.4 380.2,585.2 383.2,584.6 386.3,585.6 389.3,586.9 392.3,583.1 395.4,580.2 398.4,578.8 401.4,580.1 404.5,581.1 407.5,581.7 410.5,580.4 413.6,576.1 416.6,568.5 419.6,558.3 422.7,552.1 425.7,544.2 428.7,532.2 431.8,518.8 434.8,502.8 437.8,485 440.9,471.8 443.9,462.1 446.9,455.7 450,450.6 453,446.5 456,444 459.1,443.3 462.1,444.6 465.1,446.5 468.2,452.5 471.2,456.8 474.2,461.2 477.3,465 480.3,467.4 483.3,471.6 486.4,471.8 489.4,466.7 492.5,463 495.5,461.3 498.5,462.8 501.6,464 504.6,464.8 507.6,465.3 510.7,465.5 513.7,465.3 516.7,465.1 519.8,465.5 522.8,465.8 525.8,465.5 528.9,466 531.9,466 534.9,465.7 538,465.7 541,466.3 544,466.2 547.1,467.2 550.1,472.1 553.1,475.5 556.2,477.5 559.2,478.1 562.2,477.7 565.3,479 568.3,479.5 571.3,480 574.4,480.2 577.4,482 580.4,482.9 583.5,487 586.5,490.9 589.5,494.1 592.6,496.2 595.6,497.3 598.6,502.8 601.7,505.2 604.7,507.1 607.7,503.8 610.8,501.5 613.8,500.1 616.8,499.3 619.9,499.2 622.9,499.9 625.9,499.8 629,499.4 632,500.1 635,500.4 636.6,500.3" class="bd"/><polyline points="334.7,650 337.7,648.2 340.8,646.5 343.8,644.7 346.8,642.9 349.9,641.1 352.9,639.4 355.9,637.6 359,635.8 362,635.2 365,634.5 368.1,632.7 371.1,631 374.1,628.1 377.2,624 380.2,621.1 383.2,619.4 386.3,617.6 389.3,614.7 392.3,611.8 395.4,610 398.4,609.4 401.4,609.8 404.5,610.3 407.5,610.8 410.5,610.1 413.6,608.4 416.6,605.5 419.6,601.4 422.7,597.4 425.7,592.3 428.7,587.1 431.8,580.9 434.8,574.6 437.8,568.3 440.9,562.1 443.9,555.8 446.9,549.5 450,544.4 453,540.4 456,536.3 459.1,532.3 462.1,528.3 465.1,523.2 468.2,518 471.2,512.9 474.2,508.9 477.3,506 480.3,504.2 483.3,501.3 486.4,498.4 489.4,495.5 492.5,493.7 495.5,493.1 498.5,493.5 501.6,494 504.6,494.5 507.6,495 510.7,495.4 513.7,495.9 516.7,495.2 519.8,494.6 522.8,492.8 525.8,492.2 528.9,491.5 531.9,492 534.9,492.5 538,491.8 541,491.2 544,491.6 547.1,493.2 550.1,495.9 553.1,498.7 556.2,501.4 559.2,504.1 562.2,506.8 565.3,508.4 568.3,510 571.3,510.5 574.4,510.9 577.4,512.5 580.4,514.1 583.5,516.9 586.5,518.4 589.5,520 592.6,521.6 595.6,523.2 598.6,524.8 601.7,525.3 604.7,525.8 607.7,525.1 610.8,524.5 613.8,523.8 616.8,523.2 619.9,522.5 622.9,521.9 625.9,522.3 629,521.7 632,522.2 635,522.6 636.6,522.9" class="bd"/><polyline points="334.7,676.7 337.7,680.5 340.8,686 343.8,689.2 346.8,690.7 349.9,691.1 352.9,690.3 355.9,688.4 359,685.5 362,684.6 365,683.4 368.1,680.6 371.1,676.7 374.1,670.7 377.2,662.7 380.2,657.1 383.2,654.1 386.3,649.5 389.3,642.5 392.3,640.5 395.4,639.9 398.4,640 401.4,639.6 404.5,639.5 407.5,639.8 410.5,639.9 413.6,640.6 416.6,642.4 419.6,644.6 422.7,642.7 425.7,640.4 428.7,642.1 431.8,642.9 434.8,646.4 437.8,651.7 440.9,652.4 443.9,649.5 446.9,643.3 450,638.2 453,634.3 456,628.7 459.1,621.3 462.1,612 465.1,599.8 468.2,583.5 471.2,569 474.2,556.5 477.3,546.9 480.3,540.9 483.3,531 486.4,525 489.4,524.3 492.5,524.5 495.5,524.8 498.5,524.3 501.6,524 504.6,524.1 507.6,524.6 510.7,525.3 513.7,526.5 516.7,525.3 519.8,523.7 522.8,519.9 525.8,518.8 528.9,517.1 531.9,518 534.9,519.2 538,518 541,516 544,517.1 547.1,519.2 550.1,519.8 553.1,521.8 556.2,525.3 559.2,530.1 562.2,536 565.3,537.8 568.3,540.5 571.3,540.9 574.4,541.7 577.4,543.1 580.4,545.3 583.5,546.7 586.5,546 589.5,546 592.6,547.1 595.6,549.2 598.6,546.8 601.7,545.4 604.7,544.4 607.7,546.4 610.8,547.4 613.8,547.6 616.8,547 619.9,545.8 622.9,543.8 625.9,544.8 629,543.9 632,544.2 635,544.9 636.6,545.5" class="bd"/><rect x="335.1" y="607.2" width="2.2" height="16.4" fill="#ff0000"/><rect x="338.1" y="590.9" width="2.2" height="16.4" fill="#ff0000"/><rect x="341.2" y="590.9" width="2.2" height="6.1" fill="#00ffff"/><rect x="344.2" y="596.9" width="2.2" height="6.1" fill="#00ffff"/><rect x="347.2" y="603" width="2.2" height="6.1" fill="#00ffff"/><rect x="350.3" y="609.1" width="2.2" height="6.1" fill="#00ffff"/><rect x="353.3" y="615.2" width="2.2" height="6.1" fill="#00ffff"/><rect x="356.3" y="621.3" width="2.2" height="6.1" fill="#00ffff"/><rect x="359.4" y="627.4" width="2.2" height="6.1" fill="#00ffff"/><rect x="362.4" y="633.5" width="2.2" height="6.1" fill="#00ffff"/><rect x="365.4" y="623.2" width="2.2" height="16.4" fill="#ff0000"/><rect x="368.5" y="623.2" width="2.2" height="6.1" fill="#00ffff"/><rect x="371.5" y="612.9" width="2.2" height="16.4" fill="#ff0000"/><rect x="374.5" y="596.5" width="2.2" height="16.4" fill="#ff0000"/><rect x="377.6" y="596.5" width="2.2" height="6.1" fill="#00ffff"/><rect x="380.6" y="602.6" width="2.2" height="6.1" fill="#00ffff"/><rect x="383.6" y="608.7" width="2.2" height="6.1" fill="#00ffff"/><rect x="386.7" y="598.4" width="2.2" height="16.4" fill="#ff0000"/><rect x="389.7" y="582" width="2.2" height="16.4" fill="#ff0000"/><rect x="392.7" y="582" width="2.2" height="6.1" fill="#00ffff"/><rect x="395.8" y="588.1" width="2.2" height="6.1" fill="#00ffff"/><rect x="398.8" y="594.2" width="2.2" height="6.1" fill="#00ffff"/><rect x="401.8" y="600.3" width="2.2" height="6.1" fill="#00ffff"/><rect x="404.9" y="606.4" width="2.2" height="6.1" fill="#00ffff"/><rect x="407.9" y="596.1" width="2.2" height="16.4" fill="#ff0000"/><rect x="411" y="579.7" width="2.2" height="16.4" fill="#ff0000"/><rect x="414" y="563.3" width="2.2" height="16.4" fill="#ff0000"/><rect x="417" y="547" width="2.2" height="16.4" fill="#ff0000"/><rect x="420.1" y="547" width="2.2" height="6.1" fill="#00ffff"/><rect x="423.1" y="536.7" width="2.2" height="16.4" fill="#ff0000"/><rect x="426.1" y="520.3" width="2.2" height="16.4" fill="#ff0000"/><rect x="429.2" y="503.9" width="2.2" height="16.4" fill="#ff0000"/><rect x="432.2" y="487.6" width="2.2" height="16.4" fill="#ff0000"/><rect x="435.2" y="471.2" width="2.2" height="16.4" fill="#ff0000"/><rect x="438.3" y="471.2" width="2.2" height="6.1" fill="#00ffff"/><rect x="441.3" y="477.3" width="2.2" height="6.1" fill="#00ffff"/><rect x="444.3" y="483.4" width="2.2" height="6.1" fill="#00ffff"/><rect x="447.4" y="489.4" width="2.2" height="6.1" fill="#00ffff"/><rect x="450.4" y="495.5" width="2.2" height="6.1" fill="#00ffff"/><rect x="453.4" y="501.6" width="2.2" height="6.1" fill="#00ffff"/><rect x="456.5" y="507.7" width="2.2" height="6.1" fill="#00ffff"/><rect x="459.5" y="513.8" width="2.2" height="6.1" fill="#00ffff"/><rect x="462.5" y="503.5" width="2.2" height="16.4" fill="#ff0000"/><rect x="465.6" y="503.5" width="2.2" height="6.1" fill="#00ffff"/><rect x="468.6" y="493.2" width="2.2" height="16.4" fill="#ff0000"/><rect x="471.6" y="493.2" width="2.2" height="6.1" fill="#00ffff"/><rect x="474.7" y="499.3" width="2.2" height="6.1" fill="#00ffff"/><rect x="477.7" y="505.4" width="2.2" height="6.1" fill="#00ffff"/><rect x="480.7" y="495.1" width="2.2" height="16.4" fill="#ff0000"/><rect x="483.8" y="478.7" width="2.2" height="16.4" fill="#ff0000"/><rect x="486.8" y="462.4" width="2.2" height="16.4" fill="#ff0000"/><rect x="489.8" y="462.4" width="2.2" height="6.1" fill="#00ffff"/><rect x="492.9" y="468.4" width="2.2" height="6.1" fill="#00ffff"/><rect x="495.9" y="474.5" width="2.2" height="6.1" fill="#00ffff"/><rect x="498.9" y="480.6" width="2.2" height="6.1" fill="#00ffff"/><rect x="502" y="486.7" width="2.2" height="6.1" fill="#00ffff"/><rect x="505" y="492.8" width="2.2" height="6.1" fill="#00ffff"/><rect x="508" y="498.9" width="2.2" height="6.1" fill="#00ffff"/><rect x="511.1" y="505" width="2.2" height="6.1" fill="#00ffff"/><rect x="514.1" y="494.7" width="2.2" height="16.4" fill="#ff0000"/><rect x="517.1" y="494.7" width="2.2" height="6.1" fill="#00ffff"/><rect x="520.2" y="484.4" width="2.2" height="16.4" fill="#ff0000"/><rect x="523.2" y="484.4" width="2.2" height="6.1" fill="#00ffff"/><rect x="526.2" y="490.5" width="2.2" height="6.1" fill="#00ffff"/><rect x="529.3" y="496.6" width="2.2" height="6.1" fill="#00ffff"/><rect x="532.3" y="502.6" width="2.2" height="6.1" fill="#00ffff"/><rect x="535.3" y="492.4" width="2.2" height="16.4" fill="#ff0000"/><rect x="538.4" y="492.4" width="2.2" height="6.1" fill="#00ffff"/><rect x="541.4" y="498.4" width="2.2" height="6.1" fill="#00ffff"/><rect x="544.4" y="504.5" width="2.2" height="6.1" fill="#00ffff"/><rect x="547.5" y="510.6" width="2.2" height="6.1" fill="#00ffff"/><rect x="550.5" y="516.7" width="2.2" height="6.1" fill="#00ffff"/><rect x="553.5" y="522.8" width="2.2" height="6.1" fill="#00ffff"/><rect x="556.6" y="528.9" width="2.2" height="6.1" fill="#00ffff"/><rect x="559.6" y="535" width="2.2" height="6.1" fill="#00ffff"/><rect x="562.6" y="524.7" width="2.2" height="16.4" fill="#ff0000"/><rect x="565.7" y="524.7" width="2.2" height="6.1" fill="#00ffff"/><rect x="568.7" y="514.4" width="2.2" height="16.4" fill="#ff0000"/><rect x="571.8" y="514.4" width="2.2" height="6.1" fill="#00ffff"/><rect x="574.8" y="520.5" width="2.2" height="6.1" fill="#00ffff"/><rect x="577.8" y="526.6" width="2.2" height="6.1" fill="#00ffff"/><rect x="580.9" y="532.7" width="2.2" height="6.1" fill="#00ffff"/><rect x="583.9" y="522.4" width="2.2" height="16.4" fill="#ff0000"/><rect x="586.9" y="522.4" width="2.2" height="6.1" fill="#00ffff"/><rect x="590" y="528.5" width="2.2" height="6.1" fill="#00ffff"/><rect x="593" y="534.5" width="2.2" height="6.1" fill="#00ffff"/><rect x="596" y="524.3" width="2.2" height="16.4" fill="#ff0000"/><rect x="599.1" y="507.9" width="2.2" height="16.4" fill="#ff0000"/><rect x="602.1" y="507.9" width="2.2" height="6.1" fill="#00ffff"/><rect x="605.1" y="497.6" width="2.2" height="16.4" fill="#ff0000"/><rect x="608.2" y="497.6" width="2.2" height="6.1" fill="#00ffff"/><rect x="611.2" y="503.7" width="2.2" height="6.1" fill="#00ffff"/><rect x="614.2" y="509.8" width="2.2" height="6.1" fill="#00ffff"/><rect x="617.3" y="515.9" width="2.2" height="6.1" fill="#00ffff"/><rect x="620.3" y="521.9" width="2.2" height="6.1" fill="#00ffff"/><rect x="623.3" y="528" width="2.2" height="6.1" fill="#00ffff"/><rect x="626.4" y="517.7" width="2.2" height="16.4" fill="#ff0000"/><rect x="629.4" y="517.7" width="2.2" height="6.1" fill="#00ffff"/><rect x="632.4" y="523.8" width="2.2" height="6.1" fill="#00ffff"/><rect x="635.5" y="529.9" width="2.2" height="6.1" fill="#00ffff"/><rect x="335.1" y="744.3" width="2.2" height="8.6" fill="#ff0000"/><rect x="338.1" y="741.1" width="2.2" height="11.7" fill="#ff0000"/><rect x="341.2" y="740.4" width="2.2" height="12.5" fill="#ff0000"/><rect x="344.2" y="741.2" width="2.2" height="11.7" fill="#00ffff"/><rect x="347.2" y="742.9" width="2.2" height="10" fill="#00ffff"/><rect x="350.3" y="745.2" width="2.2" height="7.7" fill="#00ffff"/><rect x="353.3" y="747.7" width="2.2" height="5.2" fill="#00ffff"/><rect x="356.3" y="750.2" width="2.2" height="2.7" fill="#00ffff"/><rect x="359.4" y="752.4" width="2.2" height="1" fill="#00ffff"/><rect x="362.4" y="752.9" width="2.2" height="2" fill="#00ffff"/><rect x="365.4" y="752.9" width="2.2" height="1.7" fill="#ff0000"/><rect x="368.5" y="752.9" width="2.2" height="2.1" fill="#00ffff"/><rect x="371.5" y="752.4" width="2.2" height="1" fill="#ff0000"/><rect x="374.5" y="750.9" width="2.2" height="1.9" fill="#ff0000"/><rect x="377.6" y="750.1" width="2.2" height="2.7" fill="#ff0000"/><rect x="380.6" y="750.5" width="2.2" height="2.4" fill="#00ffff"/><rect x="383.6" y="751.5" width="2.2" height="1.4" fill="#00ffff"/><rect x="386.7" y="750.6" width="2.2" height="2.3" fill="#ff0000"/><rect x="389.7" y="748.6" width="2.2" height="4.3" fill="#ff0000"/><rect x="392.7" y="748.3" width="2.2" height="4.6" fill="#ff0000"/><rect x="395.8" y="749" width="2.2" height="3.8" fill="#00ffff"/><rect x="398.8" y="750.5" width="2.2" height="2.4" fill="#00ffff"/><rect x="401.8" y="752.4" width="2.2" height="1" fill="#00ffff"/><rect x="404.9" y="752.9" width="2.2" height="1.2" fill="#00ffff"/><rect x="407.9" y="752.4" width="2.2" height="1" fill="#ff0000"/><rect x="411" y="751.8" width="2.2" height="1.1" fill="#ff0000"/><rect x="414" y="749.1" width="2.2" height="3.7" fill="#ff0000"/><rect x="417" y="746.1" width="2.2" height="6.8" fill="#ff0000"/><rect x="420.1" y="745.3" width="2.2" height="7.5" fill="#ff0000"/><rect x="423.1" y="743.7" width="2.2" height="9.1" fill="#ff0000"/><rect x="426.1" y="741.7" width="2.2" height="11.1" fill="#ff0000"/><rect x="429.2" y="739.6" width="2.2" height="13.3" fill="#ff0000"/><rect x="432.2" y="737.5" width="2.2" height="15.3" fill="#ff0000"/><rect x="435.2" y="735.6" width="2.2" height="17.2" fill="#ff0000"/><rect x="438.3" y="736.3" width="2.2" height="16.6" fill="#00ffff"/><rect x="441.3" y="738.5" width="2.2" height="14.3" fill="#00ffff"/><rect x="444.3" y="741.7" width="2.2" height="11.2" fill="#00ffff"/><rect x="447.4" y="745.3" width="2.2" height="7.6" fill="#00ffff"/><rect x="450.4" y="749" width="2.2" height="3.9" fill="#00ffff"/><rect x="453.4" y="752.4" width="2.2" height="1" fill="#00ffff"/><rect x="456.5" y="752.9" width="2.2" height="3" fill="#00ffff"/><rect x="459.5" y="752.9" width="2.2" height="6" fill="#00ffff"/><rect x="462.5" y="752.9" width="2.2" height="6.3" fill="#00ffff"/><rect x="465.6" y="752.9" width="2.2" height="7.1" fill="#00ffff"/><rect x="468.6" y="752.9" width="2.2" height="6" fill="#ff0000"/><rect x="471.6" y="752.9" width="2.2" height="6" fill="#ff0000"/><rect x="474.7" y="752.9" width="2.2" height="6.6" fill="#00ffff"/><rect x="477.7" y="752.9" width="2.2" height="7.7" fill="#00ffff"/><rect x="480.7" y="752.9" width="2.2" height="6.6" fill="#ff0000"/><rect x="483.8" y="752.9" width="2.2" height="4.2" fill="#ff0000"/><rect x="486.8" y="752.9" width="2.2" height="1.1" fill="#ff0000"/><rect x="489.8" y="752.4" width="2.2" height="1" fill="#ff0000"/><rect x="492.9" y="752.4" width="2.2" height="1" fill="#00ffff"/><rect x="495.9" y="752.9" width="2.2" height="1.3" fill="#00ffff"/><rect x="498.9" y="752.9" width="2.2" height="2.8" fill="#00ffff"/><rect x="502" y="752.9" width="2.2" height="4.5" fill="#00ffff"/><rect x="505" y="752.9" width="2.2" height="6.2" fill="#00ffff"/><rect x="508" y="752.9" width="2.2" height="7.9" fill="#00ffff"/><rect x="511.1" y="752.9" width="2.2" height="9.4" fill="#00ffff"/><rect x="514.1" y="752.9" width="2.2" height="8.3" fill="#ff0000"/><rect x="517.1" y="752.9" width="2.2" height="8.1" fill="#ff0000"/><rect x="520.2" y="752.9" width="2.2" height="6" fill="#ff0000"/><rect x="523.2" y="752.9" width="2.2" height="5.2" fill="#ff0000"/><rect x="526.2" y="752.9" width="2.2" height="5.2" fill="#ff0000"/><rect x="529.3" y="752.9" width="2.2" height="5.7" fill="#00ffff"/><rect x="532.3" y="752.9" width="2.2" height="6.5" fill="#00ffff"/><rect x="535.3" y="752.9" width="2.2" height="5.1" fill="#ff0000"/><rect x="538.4" y="752.9" width="2.2" height="4.6" fill="#ff0000"/><rect x="541.4" y="752.9" width="2.2" height="4.9" fill="#00ffff"/><rect x="544.4" y="752.9" width="2.2" height="5.4" fill="#00ffff"/><rect x="547.5" y="752.9" width="2.2" height="6.2" fill="#00ffff"/><rect x="550.5" y="752.9" width="2.2" height="7.1" fill="#00ffff"/><rect x="553.5" y="752.9" width="2.2" height="7.9" fill="#00ffff"/><rect x="556.6" y="752.9" width="2.2" height="8.6" fill="#00ffff"/><rect x="559.6" y="752.9" width="2.2" height="9.3" fill="#00ffff"/><rect x="562.6" y="752.9" width="2.2" height="7.5" fill="#ff0000"/><rect x="565.7" y="752.9" width="2.2" height="6.6" fill="#ff0000"/><rect x="568.7" y="752.9" width="2.2" height="4" fill="#ff0000"/><rect x="571.8" y="752.9" width="2.2" height="2.7" fill="#ff0000"/><rect x="574.8" y="752.9" width="2.2" height="2.3" fill="#ff0000"/><rect x="577.8" y="752.9" width="2.2" height="2.5" fill="#00ffff"/><rect x="580.9" y="752.9" width="2.2" height="3" fill="#00ffff"/><rect x="583.9" y="752.9" width="2.2" height="1.4" fill="#ff0000"/><rect x="586.9" y="752.4" width="2.2" height="1" fill="#ff0000"/><rect x="590" y="752.9" width="2.2" height="1.1" fill="#00ffff"/><rect x="593" y="752.9" width="2.2" height="1.7" fill="#00ffff"/><rect x="596" y="752.4" width="2.2" height="1" fill="#ff0000"/><rect x="599.1" y="750.3" width="2.2" height="2.5" fill="#ff0000"/><rect x="602.1" y="749.3" width="2.2" height="3.6" fill="#ff0000"/><rect x="605.1" y="747.1" width="2.2" height="5.8" fill="#ff0000"/><rect x="608.2" y="746.6" width="2.2" height="6.3" fill="#ff0000"/><rect x="611.2" y="747.2" width="2.2" height="5.7" fill="#00ffff"/><rect x="614.2" y="748.4" width="2.2" height="4.5" fill="#00ffff"/><rect x="617.3" y="750" width="2.2" height="2.9" fill="#00ffff"/><rect x="620.3" y="751.8" width="2.2" height="1.1" fill="#00ffff"/><rect x="623.3" y="752.4" width="2.2" height="1" fill="#00ffff"/><rect x="626.4" y="752.4" width="2.2" height="1" fill="#ff0000"/><rect x="629.4" y="752.4" width="2.2" height="1" fill="#00ffff"/><rect x="632.4" y="752.4" width="2.2" height="1" fill="#00ffff"/><rect x="635.5" y="752.9" width="2.2" height="2" fill="#00ffff"/><polyline points="336.2,751.4 339.2,745.3 342.3,741.4 345.3,739.3 348.3,738.5 351.4,738.9 354.4,740.1 357.4,742 360.5,744.3 363.5,747.1 366.5,747.2 369.6,748.1 372.6,746.8 375.6,743.8 378.7,742.3 381.7,742 384.7,742.7 387.8,741.2 390.8,738.1 393.8,736.7 396.9,736.5 399.9,737.3 402.9,738.9 406,741.1 409,740.8 412.1,738.7 415.1,735.1 418.1,730.4 421.2,727.7 424.2,723.8 427.2,719.1 430.3,713.6 433.3,707.7 436.3,701.5 439.4,698 442.4,696.6 445.4,697 448.5,698.7 451.5,701.4 454.5,704.9 457.6,709 460.6,713.4 463.6,715.3 466.7,718 469.7,718.3 472.7,719.8 475.8,722.1 478.8,725.1 481.8,725.6 484.9,724.2 487.9,721.4 490.9,720.3 494,720.6 497,722 500,724.2 503.1,727.1 506.1,730.3 509.1,733.9 512.2,737.8 515.2,738.8 518.2,740.6 521.3,740.1 524.3,740.6 527.3,741.9 530.4,743.8 533.4,746.2 536.4,746 539.5,746.8 542.5,748.2 545.5,750.1 548.6,752.5 551.6,755.1 554.6,757.9 557.7,760.8 560.7,763.7 563.8,763.8 566.8,764.6 569.8,762.9 572.9,762.3 575.9,762.5 578.9,763.3 582,764.6 585,763.4 588,763.1 591.1,763.5 594.1,764.5 597.1,763.1 600.2,759.7 603.2,757.8 606.2,754.2 609.3,752.1 612.3,751.2 615.3,751.3 618.4,752.2 621.4,753.7 624.4,755.6 627.5,755 630.5,755.3 633.5,756.3 636.6,757.8" class="dw"/><polyline points="336.2,760 339.2,757.1 342.3,753.9 345.3,751 348.3,748.5 351.4,746.6 354.4,745.3 357.4,744.6 360.5,744.6 363.5,745.1 366.5,745.5 369.6,746 372.6,746.2 375.6,745.7 378.7,745 381.7,744.4 384.7,744 387.8,743.5 390.8,742.4 393.8,741.3 396.9,740.3 399.9,739.7 402.9,739.5 406,739.8 409,740 412.1,739.8 415.1,738.8 418.1,737.1 421.2,735.3 424.2,733 427.2,730.2 430.3,726.9 433.3,723 436.3,718.7 439.4,714.6 442.4,711 445.4,708.2 448.5,706.3 451.5,705.3 454.5,705.2 457.6,706 460.6,707.5 463.6,709 466.7,710.8 469.7,712.3 472.7,713.8 475.8,715.5 478.8,717.4 481.8,719 484.9,720.1 487.9,720.4 490.9,720.3 494,720.4 497,720.7 500,721.4 503.1,722.6 506.1,724.1 509.1,726.1 512.2,728.4 515.2,730.5 518.2,732.5 521.3,734 524.3,735.3 527.3,736.6 530.4,738.1 533.4,739.7 536.4,741 539.5,742.1 542.5,743.3 545.5,744.7 548.6,746.2 551.6,748 554.6,750 557.7,752.1 560.7,754.5 563.8,756.3 566.8,758 569.8,759 572.9,759.6 575.9,760.2 578.9,760.8 582,761.6 585,761.9 588,762.2 591.1,762.4 594.1,762.8 597.1,762.9 600.2,762.3 603.2,761.4 606.2,759.9 609.3,758.4 612.3,756.9 615.3,755.8 618.4,755.1 621.4,754.8 624.4,755 627.5,755 630.5,755.1 633.5,755.3 636.6,755.8" class="dg"/><rect x="333.6" y="442" width="2" height="329.5" fill="#a80000"/><rect x="333.6" y="770.5" width="305" height="1.5" fill="#c80000"/><polygon points="349.8,600.1 382.5,592.4 415.1,584.6 447.8,576.9 480.5,569.1 513.2,561.4 545.9,553.7 578.6,545.9 611.3,538.2 610.7,542.1 622.1,532.1 607.3,528.6 609.7,531.8 577.2,540.3 544.7,548.7 512.1,557.2 479.6,565.7 447.1,574.1 414.6,582.6 382.1,591 349.6,599.5" fill="#20a820"/></g><clipPath id="cp7"><rect x="659.2" y="409" width="323.4" height="372"/></clipPath><g clip-path="url(#cp7)"><text x="668.3 689 705.1 717.3 729.4 745.6 761.8 773.9 786 798.2 810.3 826.5 842.7 858.9 871 879.1 887.2 899.3 915.5 927.6 935.7" y="429.5 429.5 429.5 429.5 429.5 429.5 429.5 429.5 429.5 427.7 429.5 429.5 429.5 429.5 429.5 429.5 429.5 429.5 429.5 429.5 429.5" class="ct">【毒胆7】频率K线(当前遗漏:1&#160;周期:1</text><polyline points="660.3,447.2 663.3,447.7 666.4,450.5 669.4,454.8 672.4,452.9 675.5,444 678.5,439.7 681.5,440.4 684.6,447.6 687.6,452.2 690.6,450.3 693.7,448.9 696.7,448.7 699.7,449.5 702.8,449.6 705.8,452.5 708.8,454.3 711.9,455.2 714.9,455.4 717.9,454.9 721,453.6 724,451.8 727,453.5 730.1,452.9 733.1,453.6 736.1,459.8 739.2,466.6 742.2,471.6 745.2,473.9 748.3,475.5 751.3,484.3 754.3,491.2 757.4,495.6 760.4,497.2 763.4,496.2 766.5,497 769.5,503.3 772.5,506.3 775.6,500.9 778.6,497.4 781.6,495.5 784.7,495 787.7,496.1 790.7,496.4 793.8,495.8 796.8,495.5 799.8,496.5 802.9,496.6 805.9,500.2 808.9,501.4 812,502.7 815,499.9 818.1,498.4 821.1,498.4 824.1,499.7 827.2,499.5 830.2,498.4 833.2,498.2 836.3,503.7 839.3,506.6 842.3,511.6 845.4,514.6 848.4,516.4 851.4,513 854.5,511 857.5,513.1 860.5,514.5 863.6,515.2 866.6,513.4 869.6,512.8 872.7,513.9 875.7,520.6 878.7,525.3 881.8,527.7 884.8,527.9 887.8,526.3 890.9,526.6 893.9,526.3 896.9,525.9 900,526.7 903,526.7 906,526.1 909.1,526.7 912.1,535 915.1,541.7 918.2,546.4 921.2,548.8 924.2,549 927.3,555.5 930.3,559.2 933.3,560.4 936.4,559.5 939.4,562.1 942.4,563.5 945.5,560.7 948.5,551.8 951.5,538.3 954.6,528.5 957.6,524.6 960.6,513.3 962.2,509" class="bd"/><polyline points="660.3,542.2 663.3,538.8 666.4,535.5 669.4,530.1 672.4,524.7 675.5,519.3 678.5,513.9 681.5,508.5 684.6,503 687.6,499.7 690.6,496.4 693.7,495.2 696.7,494 699.7,494.9 702.8,495.7 705.8,498.7 708.8,499.6 711.9,500.5 714.9,501.4 717.9,502.2 721,503.1 724,504 727,502.8 730.1,503.7 733.1,506.6 736.1,511.7 739.2,514.7 742.2,517.7 745.2,518.6 748.3,519.5 751.3,522.4 754.3,525.4 757.4,528.4 760.4,531.4 763.4,534.4 766.5,535.2 769.5,538.2 772.5,539.1 775.6,537.9 778.6,536.7 781.6,535.4 784.7,534.2 787.7,535.1 790.7,536 793.8,536.9 796.8,535.7 799.8,536.5 802.9,537.4 805.9,540.4 808.9,543.4 812,544.3 815,543 818.1,541.8 821.1,540.6 824.1,539.4 827.2,540.3 830.2,541.2 833.2,544.1 836.3,549.2 839.3,554.3 842.3,557.3 845.4,560.3 848.4,561.1 851.4,559.9 854.5,558.7 857.5,559.6 860.5,560.5 863.6,561.3 866.6,560.1 869.6,558.9 872.7,559.8 875.7,562.8 878.7,565.7 881.8,568.7 884.8,571.7 887.8,574.7 890.9,575.6 893.9,576.5 896.9,575.2 900,574 903,574.9 906,575.8 909.1,578.8 912.1,581.7 915.1,584.7 918.2,587.7 921.2,590.7 924.2,593.7 927.3,598.7 930.3,603.8 933.3,608.9 936.4,614 939.4,617 942.4,617.8 945.5,616.6 948.5,613.3 951.5,610 954.6,606.7 957.6,605.5 960.6,602.1 962.2,600.5" class="bd"/><polyline points="660.3,637.2 663.3,630 666.4,620.5 669.4,605.4 672.4,596.5 675.5,594.6 678.5,588 681.5,576.5 684.6,558.5 687.6,547.3 690.6,542.5 693.7,541.5 696.7,539.2 699.7,540.2 702.8,541.9 705.8,544.9 708.8,544.9 711.9,545.7 714.9,547.3 717.9,549.6 721,552.6 724,556.2 727,552.1 730.1,554.5 733.1,559.7 736.1,563.7 739.2,562.8 742.2,563.8 745.2,563.2 748.3,563.4 751.3,560.6 754.3,559.6 757.4,561.1 760.4,565.5 763.4,572.5 766.5,573.4 769.5,573.2 772.5,571.9 775.6,574.8 778.6,575.9 781.6,575.4 784.7,573.5 787.7,574.1 790.7,575.6 793.8,578 796.8,575.8 799.8,576.6 802.9,578.2 805.9,580.6 808.9,585.4 812,585.8 815,586.2 818.1,585.2 821.1,582.9 824.1,579 827.2,581.1 830.2,583.9 833.2,590.1 836.3,594.7 839.3,602 842.3,602.9 845.4,605.9 848.4,605.9 851.4,606.8 854.5,606.4 857.5,606 860.5,606.4 863.6,607.5 866.6,606.9 869.6,605.1 872.7,605.7 875.7,604.9 878.7,606.2 881.8,609.7 884.8,615.5 887.8,623.1 890.9,624.5 893.9,626.6 896.9,624.6 900,621.4 903,623.1 906,625.5 909.1,630.8 912.1,628.5 915.1,627.7 918.2,629 921.2,632.6 924.2,638.3 927.3,642 930.3,648.5 933.3,657.4 936.4,668.4 939.4,671.8 942.4,672.1 945.5,672.5 948.5,674.8 951.5,681.7 954.6,684.9 957.6,686.3 960.6,691 962.2,692" class="bd"/><rect x="660.7" y="524.3" width="2.2" height="11.4" fill="#00ffff"/><rect x="663.7" y="535.7" width="2.2" height="11.4" fill="#00ffff"/><rect x="666.8" y="516.5" width="2.2" height="30.6" fill="#ff0000"/><rect x="669.8" y="485.9" width="2.2" height="30.6" fill="#ff0000"/><rect x="672.8" y="455.3" width="2.2" height="30.6" fill="#ff0000"/><rect x="675.9" y="455.3" width="2.2" height="11.4" fill="#00ffff"/><rect x="678.9" y="466.6" width="2.2" height="11.4" fill="#00ffff"/><rect x="681.9" y="478" width="2.2" height="11.4" fill="#00ffff"/><rect x="685" y="489.4" width="2.2" height="11.4" fill="#00ffff"/><rect x="688" y="470.2" width="2.2" height="30.6" fill="#ff0000"/><rect x="691" y="470.2" width="2.2" height="11.4" fill="#00ffff"/><rect x="694.1" y="481.5" width="2.2" height="11.4" fill="#00ffff"/><rect x="697.1" y="492.9" width="2.2" height="11.4" fill="#00ffff"/><rect x="700.1" y="504.3" width="2.2" height="11.4" fill="#00ffff"/><rect x="703.2" y="515.7" width="2.2" height="11.4" fill="#00ffff"/><rect x="706.2" y="496.4" width="2.2" height="30.6" fill="#ff0000"/><rect x="709.2" y="496.4" width="2.2" height="11.4" fill="#00ffff"/><rect x="712.3" y="507.8" width="2.2" height="11.4" fill="#00ffff"/><rect x="715.3" y="519.2" width="2.2" height="11.4" fill="#00ffff"/><rect x="718.3" y="530.6" width="2.2" height="11.4" fill="#00ffff"/><rect x="721.4" y="541.9" width="2.2" height="11.4" fill="#00ffff"/><rect x="724.4" y="522.7" width="2.2" height="30.6" fill="#ff0000"/><rect x="727.4" y="522.7" width="2.2" height="11.4" fill="#00ffff"/><rect x="730.5" y="534.1" width="2.2" height="11.4" fill="#00ffff"/><rect x="733.5" y="545.5" width="2.2" height="11.4" fill="#00ffff"/><rect x="736.6" y="526.2" width="2.2" height="30.6" fill="#ff0000"/><rect x="739.6" y="526.2" width="2.2" height="11.4" fill="#00ffff"/><rect x="742.6" y="507" width="2.2" height="30.6" fill="#ff0000"/><rect x="745.7" y="507" width="2.2" height="11.4" fill="#00ffff"/><rect x="748.7" y="518.4" width="2.2" height="11.4" fill="#00ffff"/><rect x="751.7" y="529.8" width="2.2" height="11.4" fill="#00ffff"/><rect x="754.8" y="541.1" width="2.2" height="11.4" fill="#00ffff"/><rect x="757.8" y="552.5" width="2.2" height="11.4" fill="#00ffff"/><rect x="760.8" y="563.9" width="2.2" height="11.4" fill="#00ffff"/><rect x="763.9" y="544.7" width="2.2" height="30.6" fill="#ff0000"/><rect x="766.9" y="544.7" width="2.2" height="11.4" fill="#00ffff"/><rect x="769.9" y="525.4" width="2.2" height="30.6" fill="#ff0000"/><rect x="773" y="494.8" width="2.2" height="30.6" fill="#ff0000"/><rect x="776" y="494.8" width="2.2" height="11.4" fill="#00ffff"/><rect x="779" y="506.2" width="2.2" height="11.4" fill="#00ffff"/><rect x="782.1" y="517.6" width="2.2" height="11.4" fill="#00ffff"/><rect x="785.1" y="529" width="2.2" height="11.4" fill="#00ffff"/><rect x="788.1" y="540.3" width="2.2" height="11.4" fill="#00ffff"/><rect x="791.2" y="551.7" width="2.2" height="11.4" fill="#00ffff"/><rect x="794.2" y="532.5" width="2.2" height="30.6" fill="#ff0000"/><rect x="797.2" y="532.5" width="2.2" height="11.4" fill="#00ffff"/><rect x="800.3" y="543.9" width="2.2" height="11.4" fill="#00ffff"/><rect x="803.3" y="555.2" width="2.2" height="11.4" fill="#00ffff"/><rect x="806.3" y="566.6" width="2.2" height="11.4" fill="#00ffff"/><rect x="809.4" y="547.4" width="2.2" height="30.6" fill="#ff0000"/><rect x="812.4" y="516.8" width="2.2" height="30.6" fill="#ff0000"/><rect x="815.4" y="516.8" width="2.2" height="11.4" fill="#00ffff"/><rect x="818.5" y="528.2" width="2.2" height="11.4" fill="#00ffff"/><rect x="821.5" y="539.5" width="2.2" height="11.4" fill="#00ffff"/><rect x="824.5" y="550.9" width="2.2" height="11.4" fill="#00ffff"/><rect x="827.6" y="562.3" width="2.2" height="11.4" fill="#00ffff"/><rect x="830.6" y="573.7" width="2.2" height="11.4" fill="#00ffff"/><rect x="833.6" y="585" width="2.2" height="11.4" fill="#00ffff"/><rect x="836.7" y="596.4" width="2.2" height="11.4" fill="#00ffff"/><rect x="839.7" y="577.2" width="2.2" height="30.6" fill="#ff0000"/><rect x="842.7" y="577.2" width="2.2" height="11.4" fill="#00ffff"/><rect x="845.8" y="558" width="2.2" height="30.6" fill="#ff0000"/><rect x="848.8" y="527.4" width="2.2" height="30.6" fill="#ff0000"/><rect x="851.8" y="527.4" width="2.2" height="11.4" fill="#00ffff"/><rect x="854.9" y="538.7" width="2.2" height="11.4" fill="#00ffff"/><rect x="857.9" y="550.1" width="2.2" height="11.4" fill="#00ffff"/><rect x="860.9" y="561.5" width="2.2" height="11.4" fill="#00ffff"/><rect x="864" y="542.3" width="2.2" height="30.6" fill="#ff0000"/><rect x="867" y="542.3" width="2.2" height="11.4" fill="#00ffff"/><rect x="870" y="553.6" width="2.2" height="11.4" fill="#00ffff"/><rect x="873.1" y="565" width="2.2" height="11.4" fill="#00ffff"/><rect x="876.1" y="576.4" width="2.2" height="11.4" fill="#00ffff"/><rect x="879.1" y="587.8" width="2.2" height="11.4" fill="#00ffff"/><rect x="882.2" y="599.1" width="2.2" height="11.4" fill="#00ffff"/><rect x="885.2" y="610.5" width="2.2" height="11.4" fill="#00ffff"/><rect x="888.2" y="591.3" width="2.2" height="30.6" fill="#ff0000"/><rect x="891.3" y="591.3" width="2.2" height="11.4" fill="#00ffff"/><rect x="894.3" y="572.1" width="2.2" height="30.6" fill="#ff0000"/><rect x="897.4" y="572.1" width="2.2" height="11.4" fill="#00ffff"/><rect x="900.4" y="583.4" width="2.2" height="11.4" fill="#00ffff"/><rect x="903.4" y="594.8" width="2.2" height="11.4" fill="#00ffff"/><rect x="906.5" y="606.2" width="2.2" height="11.4" fill="#00ffff"/><rect x="909.5" y="587" width="2.2" height="30.6" fill="#ff0000"/><rect x="912.5" y="587" width="2.2" height="11.4" fill="#00ffff"/><rect x="915.6" y="598.3" width="2.2" height="11.4" fill="#00ffff"/><rect x="918.6" y="609.7" width="2.2" height="11.4" fill="#00ffff"/><rect x="921.6" y="621.1" width="2.2" height="11.4" fill="#00ffff"/><rect x="924.7" y="632.5" width="2.2" height="11.4" fill="#00ffff"/><rect x="927.7" y="643.8" width="2.2" height="11.4" fill="#00ffff"/><rect x="930.7" y="655.2" width="2.2" height="11.4" fill="#00ffff"/><rect x="933.8" y="666.6" width="2.2" height="11.4" fill="#00ffff"/><rect x="936.8" y="647.4" width="2.2" height="30.6" fill="#ff0000"/><rect x="939.8" y="616.8" width="2.2" height="30.6" fill="#ff0000"/><rect x="942.9" y="586.2" width="2.2" height="30.6" fill="#ff0000"/><rect x="945.9" y="555.6" width="2.2" height="30.6" fill="#ff0000"/><rect x="948.9" y="525" width="2.2" height="30.6" fill="#ff0000"/><rect x="952" y="525" width="2.2" height="11.4" fill="#00ffff"/><rect x="955" y="536.3" width="2.2" height="11.4" fill="#00ffff"/><rect x="958" y="517.1" width="2.2" height="30.6" fill="#ff0000"/><rect x="961.1" y="517.1" width="2.2" height="11.4" fill="#00ffff"/><rect x="660.7" y="744.6" width="2.2" height="7.2" fill="#00ffff"/><rect x="663.7" y="744.6" width="2.2" height="9.4" fill="#00ffff"/><rect x="666.8" y="744.6" width="2.2" height="9.1" fill="#ff0000"/><rect x="669.8" y="744.6" width="2.2" height="7.1" fill="#ff0000"/><rect x="672.8" y="744.6" width="2.2" height="4.3" fill="#ff0000"/><rect x="675.9" y="744.6" width="2.2" height="3.2" fill="#ff0000"/><rect x="678.9" y="744.6" width="2.2" height="3.4" fill="#00ffff"/><rect x="681.9" y="744.6" width="2.2" height="4.2" fill="#00ffff"/><rect x="685" y="744.6" width="2.2" height="5.5" fill="#00ffff"/><rect x="688" y="744.6" width="2.2" height="4.7" fill="#ff0000"/><rect x="691" y="744.6" width="2.2" height="4.9" fill="#00ffff"/><rect x="694.1" y="744.6" width="2.2" height="5.6" fill="#00ffff"/><rect x="697.1" y="744.6" width="2.2" height="6.7" fill="#00ffff"/><rect x="700.1" y="744.6" width="2.2" height="8" fill="#00ffff"/><rect x="703.2" y="744.6" width="2.2" height="9.2" fill="#00ffff"/><rect x="706.2" y="744.6" width="2.2" height="8.1" fill="#ff0000"/><rect x="709.2" y="744.6" width="2.2" height="7.8" fill="#ff0000"/><rect x="712.3" y="744.6" width="2.2" height="8" fill="#00ffff"/><rect x="715.3" y="744.6" width="2.2" height="8.5" fill="#00ffff"/><rect x="718.3" y="744.6" width="2.2" height="9.1" fill="#00ffff"/><rect x="721.4" y="744.6" width="2.2" height="9.8" fill="#00ffff"/><rect x="724.4" y="744.6" width="2.2" height="8.2" fill="#ff0000"/><rect x="727.4" y="744.6" width="2.2" height="7.5" fill="#ff0000"/><rect x="730.5" y="744.6" width="2.2" height="7.3" fill="#ff0000"/><rect x="733.5" y="744.6" width="2.2" height="7.5" fill="#00ffff"/><rect x="736.6" y="744.6" width="2.2" height="5.7" fill="#ff0000"/><rect x="739.6" y="744.6" width="2.2" height="4.9" fill="#ff0000"/><rect x="742.6" y="744.6" width="2.2" height="2.5" fill="#ff0000"/><rect x="745.7" y="744.6" width="2.2" height="1.5" fill="#ff0000"/><rect x="748.7" y="744.6" width="2.2" height="1.4" fill="#ff0000"/><rect x="751.7" y="744.6" width="2.2" height="1.9" fill="#00ffff"/><rect x="754.8" y="744.6" width="2.2" height="2.8" fill="#00ffff"/><rect x="757.8" y="744.6" width="2.2" height="3.8" fill="#00ffff"/><rect x="760.8" y="744.6" width="2.2" height="4.8" fill="#00ffff"/><rect x="763.9" y="744.6" width="2.2" height="3.5" fill="#ff0000"/><rect x="766.9" y="744.6" width="2.2" height="3.1" fill="#ff0000"/><rect x="769.9" y="744.6" width="2.2" height="1.1" fill="#ff0000"/><rect x="773" y="742.6" width="2.2" height="2" fill="#ff0000"/><rect x="776" y="741.3" width="2.2" height="3.2" fill="#ff0000"/><rect x="779" y="741.3" width="2.2" height="3.2" fill="#ff0000"/><rect x="782.1" y="742.1" width="2.2" height="2.5" fill="#00ffff"/><rect x="785.1" y="743.3" width="2.2" height="1.2" fill="#00ffff"/><rect x="788.1" y="744.1" width="2.2" height="1" fill="#00ffff"/><rect x="791.2" y="744.6" width="2.2" height="1.7" fill="#00ffff"/><rect x="794.2" y="744.1" width="2.2" height="1" fill="#ff0000"/><rect x="797.2" y="744.1" width="2.2" height="1" fill="#00ffff"/><rect x="800.3" y="744.6" width="2.2" height="1.5" fill="#00ffff"/><rect x="803.3" y="744.6" width="2.2" height="2.4" fill="#00ffff"/><rect x="806.3" y="744.6" width="2.2" height="3.4" fill="#00ffff"/><rect x="809.4" y="744.6" width="2.2" height="2.2" fill="#ff0000"/><rect x="812.4" y="744.1" width="2.2" height="1" fill="#ff0000"/><rect x="815.4" y="743.2" width="2.2" height="1.4" fill="#ff0000"/><rect x="818.5" y="743.2" width="2.2" height="1.4" fill="#00ffff"/><rect x="821.5" y="744.1" width="2.2" height="1" fill="#00ffff"/><rect x="824.5" y="744.1" width="2.2" height="1" fill="#00ffff"/><rect x="827.6" y="744.6" width="2.2" height="1.6" fill="#00ffff"/><rect x="830.6" y="744.6" width="2.2" height="2.8" fill="#00ffff"/><rect x="833.6" y="744.6" width="2.2" height="4.1" fill="#00ffff"/><rect x="836.7" y="744.6" width="2.2" height="5.2" fill="#00ffff"/><rect x="839.7" y="744.6" width="2.2" height="3.9" fill="#ff0000"/><rect x="842.7" y="744.6" width="2.2" height="3.4" fill="#ff0000"/><rect x="845.8" y="744.6" width="2.2" height="1.2" fill="#ff0000"/><rect x="848.8" y="742.6" width="2.2" height="1.9" fill="#ff0000"/><rect x="851.8" y="741.3" width="2.2" height="3.3" fill="#ff0000"/><rect x="854.9" y="741.2" width="2.2" height="3.4" fill="#ff0000"/><rect x="857.9" y="741.8" width="2.2" height="2.7" fill="#00ffff"/><rect x="860.9" y="742.9" width="2.2" height="1.6" fill="#00ffff"/><rect x="864" y="742" width="2.2" height="2.5" fill="#ff0000"/><rect x="867" y="742.1" width="2.2" height="2.4" fill="#00ffff"/><rect x="870" y="742.9" width="2.2" height="1.6" fill="#00ffff"/><rect x="873.1" y="744.1" width="2.2" height="1" fill="#00ffff"/><rect x="876.1" y="744.1" width="2.2" height="1" fill="#00ffff"/><rect x="879.1" y="744.6" width="2.2" height="2.2" fill="#00ffff"/><rect x="882.2" y="744.6" width="2.2" height="3.5" fill="#00ffff"/><rect x="885.2" y="744.6" width="2.2" height="4.8" fill="#00ffff"/><rect x="888.2" y="744.6" width="2.2" height="3.5" fill="#ff0000"/><rect x="891.3" y="744.6" width="2.2" height="3.2" fill="#ff0000"/><rect x="894.3" y="744.6" width="2.2" height="1" fill="#ff0000"/><rect x="897.4" y="744.1" width="2.2" height="1" fill="#ff0000"/><rect x="900.4" y="744.1" width="2.2" height="1" fill="#ff0000"/><rect x="903.4" y="744.1" width="2.2" height="1" fill="#00ffff"/><rect x="906.5" y="744.6" width="2.2" height="1.5" fill="#00ffff"/><rect x="909.5" y="744.1" width="2.2" height="1" fill="#ff0000"/><rect x="912.5" y="744.1" width="2.2" height="1" fill="#ff0000"/><rect x="915.6" y="744.1" width="2.2" height="1" fill="#00ffff"/><rect x="918.6" y="744.6" width="2.2" height="1" fill="#00ffff"/><rect x="921.6" y="744.6" width="2.2" height="2" fill="#00ffff"/><rect x="924.7" y="744.6" width="2.2" height="3" fill="#00ffff"/><rect x="927.7" y="744.6" width="2.2" height="4" fill="#00ffff"/><rect x="930.7" y="744.6" width="2.2" height="4.9" fill="#00ffff"/><rect x="933.8" y="744.6" width="2.2" height="5.7" fill="#00ffff"/><rect x="936.8" y="744.6" width="2.2" height="4.1" fill="#ff0000"/><rect x="939.8" y="744.6" width="2.2" height="1.2" fill="#ff0000"/><rect x="942.9" y="742" width="2.2" height="2.6" fill="#ff0000"/><rect x="945.9" y="738" width="2.2" height="6.6" fill="#ff0000"/><rect x="948.9" y="734.1" width="2.2" height="10.5" fill="#ff0000"/><rect x="952" y="732.7" width="2.2" height="11.9" fill="#ff0000"/><rect x="955" y="733" width="2.2" height="11.6" fill="#00ffff"/><rect x="958" y="732.1" width="2.2" height="12.5" fill="#ff0000"/><rect x="961.1" y="732.7" width="2.2" height="11.8" fill="#00ffff"/><polyline points="661.8,704.4 664.8,709 667.9,711 670.9,710.8 673.9,709 677,708.7 680,709.7 683,711.6 686.1,714.3 689.1,714.7 692.1,716.1 695.2,718.2 698.2,721 701.2,724.2 704.3,727.8 707.3,728.6 710.3,730.3 713.4,732.5 716.4,735.1 719.4,738.1 722.5,741.2 725.5,741.7 728.5,742.8 731.6,744.5 734.6,746.6 737.7,746.1 740.7,746.5 743.7,744.7 746.8,744.1 749.8,744.4 752.8,745.4 755.9,746.9 758.9,748.9 761.9,751.1 765,750.7 768,751.1 771,749.3 774.1,745.7 777.1,743.7 780.1,742.9 783.2,743 786.2,744 789.2,745.4 792.3,747.4 795.3,746.8 798.3,747 801.4,748 804.4,749.5 807.4,751.3 810.5,750.7 813.5,748 816.5,746.6 819.6,746.3 822.6,746.8 825.6,747.9 828.7,749.6 831.7,751.5 834.7,753.8 837.8,756.2 840.8,755.9 843.8,756.3 846.9,754.4 849.9,750.7 852.9,748.6 856,747.6 859,747.6 862,748.3 865.1,746.7 868.1,746.3 871.1,746.6 874.2,747.7 877.2,749.2 880.2,751.1 883.3,753.3 886.3,755.7 889.4,755.4 892.4,755.8 895.4,753.9 898.5,753.1 901.5,753.1 904.5,753.8 907.6,755.1 910.6,753.8 913.6,753.5 916.7,753.9 919.7,754.9 922.7,756.3 925.8,758.1 928.8,760.1 931.8,762.2 934.9,764.5 937.9,763.9 940.9,761.2 944,756.9 947,751.2 950,744.7 953.1,740.3 956.1,737.7 959.1,733.7 962.2,731.4" class="dw"/><polyline points="661.8,697.3 664.8,699.6 667.9,701.9 670.9,703.7 673.9,704.7 677,705.5 680,706.4 683,707.4 686.1,708.8 689.1,710 692.1,711.2 695.2,712.6 698.2,714.3 701.2,716.3 704.3,718.6 707.3,720.6 710.3,722.5 713.4,724.5 716.4,726.6 719.4,728.9 722.5,731.4 725.5,733.4 728.5,735.3 731.6,737.2 734.6,739 737.7,740.5 740.7,741.7 743.7,742.3 746.8,742.7 749.8,743 752.8,743.5 755.9,744.2 758.9,745.1 761.9,746.3 765,747.2 768,748 771,748.2 774.1,747.7 777.1,746.9 780.1,746.1 783.2,745.5 786.2,745.2 789.2,745.2 792.3,745.7 795.3,745.9 798.3,746.1 801.4,746.5 804.4,747.1 807.4,747.9 810.5,748.5 813.5,748.4 816.5,748 819.6,747.7 822.6,747.5 825.6,747.6 828.7,748 831.7,748.7 834.7,749.7 837.8,751 840.8,752 843.8,752.8 846.9,753.2 849.9,752.7 852.9,751.9 856,751 859,750.3 862,749.9 865.1,749.3 868.1,748.7 871.1,748.3 874.2,748.1 877.2,748.4 880.2,748.9 883.3,749.8 886.3,751 889.4,751.9 892.4,752.7 895.4,752.9 898.5,753 901.5,753 904.5,753.2 907.6,753.5 910.6,753.6 913.6,753.6 916.7,753.6 919.7,753.9 922.7,754.4 925.8,755.1 928.8,756.1 931.8,757.3 934.9,758.8 937.9,759.8 940.9,760.1 944,759.5 947,757.8 950,755.2 953.1,752.2 956.1,749.3 959.1,746.2 962.2,743.2" class="dg"/><rect x="659.2" y="442" width="2" height="329.5" fill="#a80000"/><rect x="659.2" y="770.5" width="305" height="1.5" fill="#c80000"/><polygon points="671.4,529.5 705.7,528.3 740,527.1 774.3,525.9 808.5,524.7 842.8,523.5 877.1,522.3 911.4,521.1 945.6,519.9 944.3,524 957.5,516.4 943.7,510 945.4,513.9 911.1,515.8 876.9,517.7 842.6,519.5 808.4,521.4 774.1,523.3 739.9,525.2 705.6,527 671.4,528.9" fill="#20a820"/></g><clipPath id="cp8"><rect x="984.8" y="409" width="323.4" height="372"/></clipPath><g clip-path="url(#cp8)"><text x="993.9 1014.6 1030.7 1042.9 1055 1071.2 1087.4 1099.5 1111.6 1123.8 1135.9 1152.1 1168.3 1184.5 1196.6 1204.7 1212.8 1220.9 1233 1249.2 1261.3 1269.4" y="429.5 429.5 429.5 429.5 429.5 429.5 429.5 429.5 429.5 427.7 429.5 429.5 429.5 429.5 429.5 429.5 429.5 429.5 429.5 429.5 429.5 429.5" class="ct">【毒胆8】频率K线(当前遗漏:10&#160;周期:1</text><polyline points="985.9,448.5 988.9,453.3 992,456.9 995,459.2 998,459.9 1001.1,459.4 1004.1,457.9 1007.1,458.9 1010.2,458.7 1013.2,457.6 1016.2,463.4 1019.3,468 1022.3,471.4 1025.3,473.6 1028.4,474.5 1031.4,476.6 1034.4,477.6 1037.5,482.4 1040.5,486.3 1043.5,489.3 1046.6,491.2 1049.6,497.8 1052.6,503.8 1055.7,506.4 1058.7,508.5 1061.7,510 1064.8,507.1 1067.8,498.8 1070.8,493.8 1073.9,491.2 1076.9,489.9 1079.9,485.2 1083,482.7 1086,482.2 1089,484.2 1092.1,481.9 1095.1,480.7 1098.1,476.2 1101.2,473.9 1104.2,469 1107.2,468.2 1110.3,461.3 1113.3,458.4 1116.3,455.9 1119.4,455.4 1122.4,457.4 1125.4,457.8 1128.5,457.9 1131.5,457.6 1134.5,456.8 1137.6,455.7 1140.6,453.9 1143.7,451.4 1146.7,448.6 1149.7,445.5 1152.8,442.9 1155.8,442.7 1158.8,444.1 1161.9,444.8 1164.9,448.6 1167.9,451.7 1171,459.6 1174,468.9 1177,478 1180.1,486.8 1183.1,495.2 1186.1,503 1189.2,510.1 1192.2,516 1195.2,520.6 1198.3,523.5 1201.3,524.8 1204.3,524.8 1207.4,523.8 1210.4,522.1 1213.4,519.9 1216.5,520.9 1219.5,521.2 1222.5,521.1 1225.6,520.7 1228.6,519.9 1231.6,518.9 1234.7,523.4 1237.7,532.5 1240.7,542.4 1243.8,551.6 1246.8,560.6 1249.8,569.3 1252.9,577.6 1255.9,585.4 1258.9,591.9 1262,597.9 1265,603.1 1268,607.3 1271.1,610.3 1274.1,611.8 1277.1,611.9 1280.2,610.8 1283.2,608.9 1286.2,606.4 1287.8,605" class="bd"/><polyline points="985.9,478.5 988.9,480.3 992,482.2 995,484.1 998,485.9 1001.1,487.8 1004.1,489.7 1007.1,492.9 1010.2,496 1013.2,499.2 1016.2,502.4 1019.3,505.6 1022.3,508.8 1025.3,512 1028.4,515.1 1031.4,517 1034.4,517.6 1037.5,519.4 1040.5,521.3 1043.5,523.2 1046.6,525 1049.6,526.9 1052.6,528.8 1055.7,529.3 1058.7,529.9 1061.7,530.4 1064.8,529.7 1067.8,527.6 1070.8,525.5 1073.9,523.4 1076.9,522.7 1079.9,520.6 1083,518.5 1086,516.4 1089,514.3 1092.1,512.3 1095.1,511.5 1098.1,509.4 1101.2,507.4 1104.2,504 1107.2,500.6 1110.3,497.2 1113.3,493.8 1116.3,491.7 1119.4,489.6 1122.4,487.5 1125.4,486.8 1128.5,487.3 1131.5,487.9 1134.5,488.4 1137.6,489 1140.6,490.9 1143.7,492.7 1146.7,494.6 1149.7,496.5 1152.8,499.6 1155.8,501.5 1158.8,504.7 1161.9,507.9 1164.9,512.4 1167.9,516.9 1171,522.7 1174,527.2 1177,530.4 1180.1,533.5 1183.1,536.7 1186.1,539.9 1189.2,543.1 1192.2,546.3 1195.2,549.5 1198.3,552.6 1201.3,555.8 1204.3,559 1207.4,562.2 1210.4,565.4 1213.4,568.6 1216.5,573.1 1219.5,577.5 1222.5,582 1225.6,586.5 1228.6,591 1231.6,595.5 1234.7,600 1237.7,605.8 1240.7,610.3 1243.8,613.5 1246.8,616.7 1249.8,619.9 1252.9,623.1 1255.9,626.3 1258.9,628.1 1262,630 1265,631.9 1268,633.7 1271.1,635.6 1274.1,637.5 1277.1,639.3 1280.2,641.2 1283.2,643.1 1286.2,644.9 1287.8,645.9" class="bd"/><polyline points="985.9,508.5 988.9,507.4 992,507.5 995,509 998,512 1001.1,516.2 1004.1,521.5 1007.1,526.9 1010.2,533.4 1013.2,540.8 1016.2,541.4 1019.3,543.2 1022.3,546.1 1025.3,550.4 1028.4,555.8 1031.4,557.4 1034.4,557.5 1037.5,556.5 1040.5,556.2 1043.5,557 1046.6,558.9 1049.6,556 1052.6,553.7 1055.7,552.3 1058.7,551.3 1061.7,550.8 1064.8,552.2 1067.8,556.4 1070.8,557.2 1073.9,555.6 1076.9,555.5 1079.9,556 1083,554.3 1086,550.6 1089,544.5 1092.1,542.6 1095.1,542.3 1098.1,542.7 1101.2,540.8 1104.2,538.9 1107.2,533 1110.3,533 1113.3,529.2 1116.3,527.5 1119.4,523.8 1122.4,517.7 1125.4,515.8 1128.5,516.8 1131.5,518.2 1134.5,520 1137.6,522.3 1140.6,527.8 1143.7,534 1146.7,540.6 1149.7,547.5 1152.8,556.4 1155.8,560.4 1158.8,565.3 1161.9,570.9 1164.9,576.1 1167.9,582 1171,585.8 1174,585.5 1177,582.8 1180.1,580.3 1183.1,578.3 1186.1,576.8 1189.2,576.1 1192.2,576.5 1195.2,578.4 1198.3,581.8 1201.3,586.8 1204.3,593.2 1207.4,600.5 1210.4,608.6 1213.4,617.2 1216.5,625.2 1219.5,633.9 1222.5,643 1225.6,652.4 1228.6,662.2 1231.6,672.2 1234.7,676.7 1237.7,679.2 1240.7,678.3 1243.8,675.4 1246.8,672.8 1249.8,670.5 1252.9,668.5 1255.9,667.1 1258.9,664.4 1262,662.1 1265,660.6 1268,660.1 1271.1,660.9 1274.1,663.1 1277.1,666.8 1280.2,671.5 1283.2,677.2 1286.2,683.4 1287.8,686.7" class="bd"/><rect x="986.3" y="486.2" width="2.2" height="19.2" fill="#ff0000"/><rect x="989.3" y="486.2" width="2.2" height="7.1" fill="#00ffff"/><rect x="992.4" y="493.4" width="2.2" height="7.1" fill="#00ffff"/><rect x="995.4" y="500.5" width="2.2" height="7.1" fill="#00ffff"/><rect x="998.4" y="507.6" width="2.2" height="7.1" fill="#00ffff"/><rect x="1001.5" y="514.8" width="2.2" height="7.1" fill="#00ffff"/><rect x="1004.5" y="521.9" width="2.2" height="7.1" fill="#00ffff"/><rect x="1007.5" y="529" width="2.2" height="7.1" fill="#00ffff"/><rect x="1010.6" y="536.1" width="2.2" height="7.1" fill="#00ffff"/><rect x="1013.6" y="524.1" width="2.2" height="19.2" fill="#ff0000"/><rect x="1016.6" y="524.1" width="2.2" height="7.1" fill="#00ffff"/><rect x="1019.7" y="531.2" width="2.2" height="7.1" fill="#00ffff"/><rect x="1022.7" y="538.3" width="2.2" height="7.1" fill="#00ffff"/><rect x="1025.7" y="545.5" width="2.2" height="7.1" fill="#00ffff"/><rect x="1028.8" y="533.4" width="2.2" height="19.2" fill="#ff0000"/><rect x="1031.8" y="514.3" width="2.2" height="19.2" fill="#ff0000"/><rect x="1034.8" y="514.3" width="2.2" height="7.1" fill="#00ffff"/><rect x="1037.9" y="521.4" width="2.2" height="7.1" fill="#00ffff"/><rect x="1040.9" y="528.5" width="2.2" height="7.1" fill="#00ffff"/><rect x="1043.9" y="535.6" width="2.2" height="7.1" fill="#00ffff"/><rect x="1047" y="523.6" width="2.2" height="19.2" fill="#ff0000"/><rect x="1050" y="523.6" width="2.2" height="7.1" fill="#00ffff"/><rect x="1053" y="511.5" width="2.2" height="19.2" fill="#ff0000"/><rect x="1056.1" y="511.5" width="2.2" height="7.1" fill="#00ffff"/><rect x="1059.1" y="518.7" width="2.2" height="7.1" fill="#00ffff"/><rect x="1062.2" y="506.6" width="2.2" height="19.2" fill="#ff0000"/><rect x="1065.2" y="487.5" width="2.2" height="19.2" fill="#ff0000"/><rect x="1068.2" y="487.5" width="2.2" height="7.1" fill="#00ffff"/><rect x="1071.3" y="494.6" width="2.2" height="7.1" fill="#00ffff"/><rect x="1074.3" y="501.7" width="2.2" height="7.1" fill="#00ffff"/><rect x="1077.3" y="489.7" width="2.2" height="19.2" fill="#ff0000"/><rect x="1080.4" y="489.7" width="2.2" height="7.1" fill="#00ffff"/><rect x="1083.4" y="496.8" width="2.2" height="7.1" fill="#00ffff"/><rect x="1086.4" y="503.9" width="2.2" height="7.1" fill="#00ffff"/><rect x="1089.5" y="491.9" width="2.2" height="19.2" fill="#ff0000"/><rect x="1092.5" y="491.9" width="2.2" height="7.1" fill="#00ffff"/><rect x="1095.5" y="479.8" width="2.2" height="19.2" fill="#ff0000"/><rect x="1098.6" y="479.8" width="2.2" height="7.1" fill="#00ffff"/><rect x="1101.6" y="467.8" width="2.2" height="19.2" fill="#ff0000"/><rect x="1104.6" y="467.8" width="2.2" height="7.1" fill="#00ffff"/><rect x="1107.7" y="455.7" width="2.2" height="19.2" fill="#ff0000"/><rect x="1110.7" y="455.7" width="2.2" height="7.1" fill="#00ffff"/><rect x="1113.7" y="462.9" width="2.2" height="7.1" fill="#00ffff"/><rect x="1116.8" y="470" width="2.2" height="7.1" fill="#00ffff"/><rect x="1119.8" y="477.1" width="2.2" height="7.1" fill="#00ffff"/><rect x="1122.8" y="484.2" width="2.2" height="7.1" fill="#00ffff"/><rect x="1125.9" y="491.4" width="2.2" height="7.1" fill="#00ffff"/><rect x="1128.9" y="498.5" width="2.2" height="7.1" fill="#00ffff"/><rect x="1131.9" y="505.6" width="2.2" height="7.1" fill="#00ffff"/><rect x="1135" y="512.8" width="2.2" height="7.1" fill="#00ffff"/><rect x="1138" y="519.9" width="2.2" height="7.1" fill="#00ffff"/><rect x="1141" y="527" width="2.2" height="7.1" fill="#00ffff"/><rect x="1144.1" y="534.1" width="2.2" height="7.1" fill="#00ffff"/><rect x="1147.1" y="541.3" width="2.2" height="7.1" fill="#00ffff"/><rect x="1150.1" y="548.4" width="2.2" height="7.1" fill="#00ffff"/><rect x="1153.2" y="536.3" width="2.2" height="19.2" fill="#ff0000"/><rect x="1156.2" y="536.3" width="2.2" height="7.1" fill="#00ffff"/><rect x="1159.2" y="543.5" width="2.2" height="7.1" fill="#00ffff"/><rect x="1162.3" y="550.6" width="2.2" height="7.1" fill="#00ffff"/><rect x="1165.3" y="557.7" width="2.2" height="7.1" fill="#00ffff"/><rect x="1168.3" y="564.9" width="2.2" height="7.1" fill="#00ffff"/><rect x="1171.4" y="552.8" width="2.2" height="19.2" fill="#ff0000"/><rect x="1174.4" y="533.6" width="2.2" height="19.2" fill="#ff0000"/><rect x="1177.4" y="533.6" width="2.2" height="7.1" fill="#00ffff"/><rect x="1180.5" y="540.8" width="2.2" height="7.1" fill="#00ffff"/><rect x="1183.5" y="547.9" width="2.2" height="7.1" fill="#00ffff"/><rect x="1186.5" y="555" width="2.2" height="7.1" fill="#00ffff"/><rect x="1189.6" y="562.1" width="2.2" height="7.1" fill="#00ffff"/><rect x="1192.6" y="569.3" width="2.2" height="7.1" fill="#00ffff"/><rect x="1195.6" y="576.4" width="2.2" height="7.1" fill="#00ffff"/><rect x="1198.7" y="583.5" width="2.2" height="7.1" fill="#00ffff"/><rect x="1201.7" y="590.7" width="2.2" height="7.1" fill="#00ffff"/><rect x="1204.7" y="597.8" width="2.2" height="7.1" fill="#00ffff"/><rect x="1207.8" y="604.9" width="2.2" height="7.1" fill="#00ffff"/><rect x="1210.8" y="612" width="2.2" height="7.1" fill="#00ffff"/><rect x="1213.9" y="619.2" width="2.2" height="7.1" fill="#00ffff"/><rect x="1216.9" y="626.3" width="2.2" height="7.1" fill="#00ffff"/><rect x="1219.9" y="633.4" width="2.2" height="7.1" fill="#00ffff"/><rect x="1223" y="640.6" width="2.2" height="7.1" fill="#00ffff"/><rect x="1226" y="647.7" width="2.2" height="7.1" fill="#00ffff"/><rect x="1229" y="654.8" width="2.2" height="7.1" fill="#00ffff"/><rect x="1232.1" y="642.8" width="2.2" height="19.2" fill="#ff0000"/><rect x="1235.1" y="642.8" width="2.2" height="7.1" fill="#00ffff"/><rect x="1238.1" y="630.7" width="2.2" height="19.2" fill="#ff0000"/><rect x="1241.2" y="611.5" width="2.2" height="19.2" fill="#ff0000"/><rect x="1244.2" y="611.5" width="2.2" height="7.1" fill="#00ffff"/><rect x="1247.2" y="618.7" width="2.2" height="7.1" fill="#00ffff"/><rect x="1250.3" y="625.8" width="2.2" height="7.1" fill="#00ffff"/><rect x="1253.3" y="632.9" width="2.2" height="7.1" fill="#00ffff"/><rect x="1256.3" y="620.9" width="2.2" height="19.2" fill="#ff0000"/><rect x="1259.4" y="620.9" width="2.2" height="7.1" fill="#00ffff"/><rect x="1262.4" y="628" width="2.2" height="7.1" fill="#00ffff"/><rect x="1265.4" y="635.1" width="2.2" height="7.1" fill="#00ffff"/><rect x="1268.5" y="642.3" width="2.2" height="7.1" fill="#00ffff"/><rect x="1271.5" y="649.4" width="2.2" height="7.1" fill="#00ffff"/><rect x="1274.5" y="656.5" width="2.2" height="7.1" fill="#00ffff"/><rect x="1277.6" y="663.6" width="2.2" height="7.1" fill="#00ffff"/><rect x="1280.6" y="670.8" width="2.2" height="7.1" fill="#00ffff"/><rect x="1283.6" y="677.9" width="2.2" height="7.1" fill="#00ffff"/><rect x="1286.7" y="685" width="2.2" height="7.1" fill="#00ffff"/><rect x="986.3" y="714.9" width="2.2" height="1" fill="#ff0000"/><rect x="989.3" y="714.1" width="2.2" height="1.3" fill="#ff0000"/><rect x="992.4" y="714.1" width="2.2" height="1.2" fill="#00ffff"/><rect x="995.4" y="714.9" width="2.2" height="1" fill="#00ffff"/><rect x="998.4" y="714.9" width="2.2" height="1" fill="#00ffff"/><rect x="1001.5" y="715.4" width="2.2" height="1.3" fill="#00ffff"/><rect x="1004.5" y="715.4" width="2.2" height="2.4" fill="#00ffff"/><rect x="1007.5" y="715.4" width="2.2" height="3.4" fill="#00ffff"/><rect x="1010.6" y="715.4" width="2.2" height="4.4" fill="#00ffff"/><rect x="1013.6" y="715.4" width="2.2" height="2.6" fill="#ff0000"/><rect x="1016.6" y="715.4" width="2.2" height="1.7" fill="#ff0000"/><rect x="1019.7" y="715.4" width="2.2" height="1.6" fill="#ff0000"/><rect x="1022.7" y="715.4" width="2.2" height="1.9" fill="#00ffff"/><rect x="1025.7" y="715.4" width="2.2" height="2.4" fill="#00ffff"/><rect x="1028.8" y="714.9" width="2.2" height="1" fill="#ff0000"/><rect x="1031.8" y="712.3" width="2.2" height="3.1" fill="#ff0000"/><rect x="1034.8" y="710.7" width="2.2" height="4.7" fill="#ff0000"/><rect x="1037.9" y="710.4" width="2.2" height="5" fill="#ff0000"/><rect x="1040.9" y="711" width="2.2" height="4.4" fill="#00ffff"/><rect x="1043.9" y="712" width="2.2" height="3.4" fill="#00ffff"/><rect x="1047" y="710.7" width="2.2" height="4.7" fill="#ff0000"/><rect x="1050" y="710.6" width="2.2" height="4.8" fill="#ff0000"/><rect x="1053" y="708.7" width="2.2" height="6.7" fill="#ff0000"/><rect x="1056.1" y="708.3" width="2.2" height="7.1" fill="#ff0000"/><rect x="1059.1" y="709" width="2.2" height="6.4" fill="#00ffff"/><rect x="1062.2" y="707.7" width="2.2" height="7.7" fill="#ff0000"/><rect x="1065.2" y="705.2" width="2.2" height="10.2" fill="#ff0000"/><rect x="1068.2" y="704.7" width="2.2" height="10.7" fill="#ff0000"/><rect x="1071.3" y="705.6" width="2.2" height="9.8" fill="#00ffff"/><rect x="1074.3" y="707.4" width="2.2" height="8" fill="#00ffff"/><rect x="1077.3" y="706.9" width="2.2" height="8.5" fill="#ff0000"/><rect x="1080.4" y="707.7" width="2.2" height="7.7" fill="#00ffff"/><rect x="1083.4" y="709.3" width="2.2" height="6.1" fill="#00ffff"/><rect x="1086.4" y="711.3" width="2.2" height="4" fill="#00ffff"/><rect x="1089.5" y="710.9" width="2.2" height="4.5" fill="#ff0000"/><rect x="1092.5" y="711.6" width="2.2" height="3.8" fill="#00ffff"/><rect x="1095.5" y="710.3" width="2.2" height="5.1" fill="#ff0000"/><rect x="1098.6" y="710.5" width="2.2" height="4.9" fill="#00ffff"/><rect x="1101.6" y="709" width="2.2" height="6.4" fill="#ff0000"/><rect x="1104.6" y="709.2" width="2.2" height="6.2" fill="#00ffff"/><rect x="1107.7" y="707.8" width="2.2" height="7.6" fill="#ff0000"/><rect x="1110.7" y="708.1" width="2.2" height="7.3" fill="#00ffff"/><rect x="1113.7" y="709.5" width="2.2" height="5.9" fill="#00ffff"/><rect x="1116.8" y="711.5" width="2.2" height="3.9" fill="#00ffff"/><rect x="1119.8" y="713.8" width="2.2" height="1.6" fill="#00ffff"/><rect x="1122.8" y="714.9" width="2.2" height="1" fill="#00ffff"/><rect x="1125.9" y="715.4" width="2.2" height="3.1" fill="#00ffff"/><rect x="1128.9" y="715.4" width="2.2" height="5.3" fill="#00ffff"/><rect x="1131.9" y="715.4" width="2.2" height="7.2" fill="#00ffff"/><rect x="1135" y="715.4" width="2.2" height="8.8" fill="#00ffff"/><rect x="1138" y="715.4" width="2.2" height="10.1" fill="#00ffff"/><rect x="1141" y="715.4" width="2.2" height="11.2" fill="#00ffff"/><rect x="1144.1" y="715.4" width="2.2" height="12.1" fill="#00ffff"/><rect x="1147.1" y="715.4" width="2.2" height="12.7" fill="#00ffff"/><rect x="1150.1" y="715.4" width="2.2" height="13.1" fill="#00ffff"/><rect x="1153.2" y="715.4" width="2.2" height="10.7" fill="#ff0000"/><rect x="1156.2" y="715.4" width="2.2" height="9.2" fill="#ff0000"/><rect x="1159.2" y="715.4" width="2.2" height="8.4" fill="#ff0000"/><rect x="1162.3" y="715.4" width="2.2" height="8.1" fill="#ff0000"/><rect x="1165.3" y="715.4" width="2.2" height="8.1" fill="#ff0000"/><rect x="1168.3" y="715.4" width="2.2" height="8.2" fill="#00ffff"/><rect x="1171.4" y="715.4" width="2.2" height="5.7" fill="#ff0000"/><rect x="1174.4" y="715.4" width="2.2" height="1.7" fill="#ff0000"/><rect x="1177.4" y="714.9" width="2.2" height="1" fill="#ff0000"/><rect x="1180.5" y="714.3" width="2.2" height="1.1" fill="#ff0000"/><rect x="1183.5" y="714.9" width="2.2" height="1" fill="#00ffff"/><rect x="1186.5" y="714.9" width="2.2" height="1" fill="#00ffff"/><rect x="1189.6" y="714.9" width="2.2" height="1" fill="#00ffff"/><rect x="1192.6" y="715.4" width="2.2" height="1.7" fill="#00ffff"/><rect x="1195.6" y="715.4" width="2.2" height="2.8" fill="#00ffff"/><rect x="1198.7" y="715.4" width="2.2" height="3.9" fill="#00ffff"/><rect x="1201.7" y="715.4" width="2.2" height="4.9" fill="#00ffff"/><rect x="1204.7" y="715.4" width="2.2" height="5.7" fill="#00ffff"/><rect x="1207.8" y="715.4" width="2.2" height="6.5" fill="#00ffff"/><rect x="1210.8" y="715.4" width="2.2" height="7" fill="#00ffff"/><rect x="1213.9" y="715.4" width="2.2" height="7.5" fill="#00ffff"/><rect x="1216.9" y="715.4" width="2.2" height="7.8" fill="#00ffff"/><rect x="1219.9" y="715.4" width="2.2" height="8" fill="#00ffff"/><rect x="1223" y="715.4" width="2.2" height="8.1" fill="#00ffff"/><rect x="1226" y="715.4" width="2.2" height="8.2" fill="#00ffff"/><rect x="1229" y="715.4" width="2.2" height="8.1" fill="#ff0000"/><rect x="1232.1" y="715.4" width="2.2" height="5.4" fill="#ff0000"/><rect x="1235.1" y="715.4" width="2.2" height="3.7" fill="#ff0000"/><rect x="1238.1" y="714.9" width="2.2" height="1" fill="#ff0000"/><rect x="1241.2" y="710.9" width="2.2" height="4.5" fill="#ff0000"/><rect x="1244.2" y="708.6" width="2.2" height="6.8" fill="#ff0000"/><rect x="1247.2" y="707.9" width="2.2" height="7.5" fill="#ff0000"/><rect x="1250.3" y="708.2" width="2.2" height="7.2" fill="#00ffff"/><rect x="1253.3" y="709.1" width="2.2" height="6.3" fill="#00ffff"/><rect x="1256.3" y="707.8" width="2.2" height="7.6" fill="#ff0000"/><rect x="1259.4" y="707.8" width="2.2" height="7.6" fill="#ff0000"/><rect x="1262.4" y="708.6" width="2.2" height="6.8" fill="#00ffff"/><rect x="1265.4" y="709.9" width="2.2" height="5.5" fill="#00ffff"/><rect x="1268.5" y="711.5" width="2.2" height="3.9" fill="#00ffff"/><rect x="1271.5" y="713.1" width="2.2" height="2.3" fill="#00ffff"/><rect x="1274.5" y="714.9" width="2.2" height="1" fill="#00ffff"/><rect x="1277.6" y="714.9" width="2.2" height="1" fill="#00ffff"/><rect x="1280.6" y="715.4" width="2.2" height="2.3" fill="#00ffff"/><rect x="1283.6" y="715.4" width="2.2" height="3.5" fill="#00ffff"/><rect x="1286.7" y="715.4" width="2.2" height="4.6" fill="#00ffff"/><polyline points="987.4,740.5 990.4,739.4 993.5,739.2 996.5,739.6 999.5,740.6 1002.6,742 1005.6,743.7 1008.6,745.6 1011.7,747.6 1014.7,746.4 1017.7,746 1020.8,746.3 1023.8,747 1026.8,748.1 1029.9,746.2 1032.9,742 1035.9,739.2 1039,737.7 1042,737.1 1045,737.3 1048.1,734.8 1051.1,733.6 1054.1,729.9 1057.2,727.8 1060.2,726.9 1063.2,723.7 1066.3,718.6 1069.3,715.5 1072.4,714 1075.4,713.7 1078.4,711.1 1081.5,710 1084.5,710 1087.5,711.1 1090.6,709.5 1093.6,709.3 1096.6,706.7 1099.7,705.7 1102.7,702.6 1105.7,701.2 1108.8,697.9 1111.8,696.4 1114.8,696.3 1117.9,697.4 1120.9,699.3 1123.9,701.9 1127,705 1130,708.4 1133,712.1 1136.1,715.9 1139.1,719.8 1142.1,723.7 1145.2,727.6 1148.2,731.3 1151.2,735 1154.3,735.3 1157.3,736.1 1160.3,737.5 1163.4,739.2 1166.4,741.1 1169.4,743.3 1172.5,742.2 1175.5,738.6 1178.5,736.5 1181.6,735.5 1184.6,735.3 1187.6,735.9 1190.7,737 1193.7,738.5 1196.7,740.4 1199.8,742.4 1202.8,744.6 1205.8,746.9 1208.9,749.2 1211.9,751.6 1215,753.9 1218,756.2 1221,758.4 1224.1,760.6 1227.1,762.6 1230.1,764.6 1233.2,763.2 1236.2,762.4 1239.2,758.9 1242.3,753.2 1245.3,749.2 1248.3,746.6 1251.4,745 1254.4,744.4 1257.4,741.2 1260.5,739.3 1263.5,738.4 1266.5,738.3 1269.6,738.9 1272.6,740 1275.6,741.5 1278.7,743.3 1281.7,745.2 1284.7,747.3 1287.8,749.5" class="dw"/><polyline points="987.4,741.1 990.4,740.7 993.5,740.4 996.5,740.3 999.5,740.3 1002.6,740.7 1005.6,741.3 1008.6,742.1 1011.7,743.2 1014.7,743.9 1017.7,744.3 1020.8,744.7 1023.8,745.2 1026.8,745.8 1029.9,745.9 1032.9,745.1 1035.9,743.9 1039,742.7 1042,741.5 1045,740.7 1048.1,739.5 1051.1,738.3 1054.1,736.7 1057.2,734.9 1060.2,733.3 1063.2,731.4 1066.3,728.8 1069.3,726.2 1072.4,723.7 1075.4,721.7 1078.4,719.6 1081.5,717.7 1084.5,716.1 1087.5,715.1 1090.6,714 1093.6,713.1 1096.6,711.8 1099.7,710.6 1102.7,709 1105.7,707.4 1108.8,705.5 1111.8,703.7 1114.8,702.2 1117.9,701.2 1120.9,700.9 1123.9,701.1 1127,701.8 1130,703.2 1133,705 1136.1,707.1 1139.1,709.7 1142.1,712.5 1145.2,715.5 1148.2,718.7 1151.2,721.9 1154.3,724.6 1157.3,726.9 1160.3,729 1163.4,731 1166.4,733.1 1169.4,735.1 1172.5,736.5 1175.5,736.9 1178.5,736.9 1181.6,736.6 1184.6,736.3 1187.6,736.2 1190.7,736.4 1193.7,736.8 1196.7,737.5 1199.8,738.5 1202.8,739.7 1205.8,741.2 1208.9,742.8 1211.9,744.5 1215,746.4 1218,748.4 1221,750.4 1224.1,752.4 1227.1,754.5 1230.1,756.5 1233.2,757.8 1236.2,758.8 1239.2,758.8 1242.3,757.7 1245.3,756 1248.3,754.1 1251.4,752.3 1254.4,750.7 1257.4,748.8 1260.5,746.9 1263.5,745.2 1266.5,743.8 1269.6,742.8 1272.6,742.3 1275.6,742.1 1278.7,742.4 1281.7,742.9 1284.7,743.8 1287.8,744.9" class="dg"/><rect x="984.8" y="442" width="2" height="329.5" fill="#a80000"/><rect x="984.8" y="770.5" width="305" height="1.5" fill="#c80000"/></g><clipPath id="cp9"><rect x="1310.4" y="409" width="323.4" height="372"/></clipPath><g clip-path="url(#cp9)"><text x="1319.5 1340.2 1356.4 1368.5 1380.6 1396.8 1413 1425.1 1437.3 1449.4 1461.5 1477.7 1493.9 1510.1 1522.2 1530.3 1538.4 1550.5 1566.7 1578.8 1586.9 1595 1607.1" y="429.5 429.5 429.5 429.5 429.5 429.5 429.5 429.5 429.5 427.7 429.5 429.5 429.5 429.5 429.5 429.5 429.5 429.5 429.5 429.5 429.5 429.5 429.5" class="ct">【毒胆9】频率K线(当前遗漏:0&#160;周期:1&#160;理</text><polyline points="1311.5,506 1314.5,510.1 1317.6,513.8 1320.7,508 1323.8,492.5 1326.9,481.2 1329.9,472.9 1333,466.9 1336.1,456.2 1339.2,449.5 1342.3,446.4 1345.3,443.9 1348.4,443.4 1351.5,445.3 1354.6,450 1357.6,451.5 1360.7,454.7 1363.8,461.9 1366.9,464.4 1370,463.2 1373,461.4 1376.1,458.2 1379.2,454.1 1382.3,456 1385.4,463.2 1388.4,468.5 1391.5,472 1394.6,476.4 1397.7,488.1 1400.8,498.5 1403.8,507.9 1406.9,516.1 1410,522.5 1413.1,526.7 1416.1,528.4 1419.2,529.9 1422.3,534.3 1425.4,538 1428.5,540.8 1431.5,542.5 1434.6,543.1 1437.7,540.9 1440.8,540.6 1443.9,541.9 1446.9,538.7 1450,537.5 1453.1,538.2 1456.2,538.8 1459.3,538.1 1462.3,536.5 1465.4,535.5 1468.5,532.6 1471.6,528.6 1474.6,523.7 1477.7,518.4 1480.8,514.6 1483.9,516 1487,520.8 1490,525.5 1493.1,529 1496.2,531.4 1499.3,538.6 1502.4,544.7 1505.4,549.7 1508.5,560.4 1511.6,564.5 1514.7,558.3 1517.8,553.3 1520.8,549.3 1523.9,546.2 1527,544 1530.1,542.5 1533.1,541.8 1536.2,538.7 1539.3,538.1 1542.4,540.5 1545.5,546.5 1548.5,548.5 1551.6,547.6 1554.7,546.2 1557.8,544.2 1560.9,544.1 1563.9,543.4 1567,542.3 1570.1,542.8 1573.2,546.4 1576.3,556.5 1579.3,560.3 1582.4,563.7 1585.5,566.4 1588.6,561.8 1591.6,558.4 1594.7,556.2 1597.8,558.4 1600.9,560 1604,560.9 1607,561.2 1610.1,560.9 1613.2,560 1616.3,560.5 1617.8,560.4" class="bd"/><polyline points="1311.5,564.4 1314.5,565.3 1317.6,566.2 1320.7,565 1323.8,561.7 1326.9,558.4 1329.9,555.1 1333,551.8 1336.1,546.4 1339.2,541.1 1342.3,535.7 1345.3,532.4 1348.4,529.1 1351.5,525.8 1354.6,522.5 1357.6,521.3 1360.7,518 1363.8,514.7 1366.9,513.5 1370,514.4 1373,515.3 1376.1,518.2 1379.2,521.2 1382.3,524.2 1385.4,529.2 1388.4,534.2 1391.5,539.3 1394.6,542.2 1397.7,547.3 1400.8,552.3 1403.8,555.3 1406.9,558.2 1410,561.2 1413.1,564.1 1416.1,567.1 1419.2,568 1422.3,568.8 1425.4,569.7 1428.5,570.6 1431.5,571.4 1434.6,572.3 1437.7,571.1 1440.8,569.9 1443.9,570.8 1446.9,569.6 1450,568.4 1453.1,567.2 1456.2,568 1459.3,568.9 1462.3,569.8 1465.4,572.7 1468.5,575.7 1471.6,578.7 1474.6,581.6 1477.7,584.6 1480.8,589.6 1483.9,596.7 1487,601.8 1490,604.7 1493.1,607.7 1496.2,610.6 1499.3,613.6 1502.4,616.5 1505.4,619.5 1508.5,622.4 1511.6,623.3 1514.7,622.1 1517.8,620.9 1520.8,619.7 1523.9,618.5 1527,617.3 1530.1,616.1 1533.1,614.9 1536.2,611.6 1539.3,608.3 1542.4,605 1545.5,601.7 1548.5,600.5 1551.6,601.4 1554.7,602.3 1557.8,603.1 1560.9,604 1563.9,604.9 1567,605.8 1570.1,606.6 1573.2,609.6 1576.3,612.5 1579.3,613.4 1582.4,614.3 1585.5,615.2 1588.6,614 1591.6,612.7 1594.7,611.5 1597.8,612.4 1600.9,613.3 1604,614.2 1607,615 1610.1,615.9 1613.2,616.8 1616.3,615.6 1617.8,613.9" class="bd"/><polyline points="1311.5,622.8 1314.5,620.5 1317.6,618.6 1320.7,621.9 1323.8,630.8 1326.9,635.5 1329.9,637.3 1333,636.6 1336.1,636.6 1339.2,632.7 1342.3,624.9 1345.3,620.9 1348.4,614.8 1351.5,606.3 1354.6,595 1357.6,591.1 1360.7,581.4 1363.8,567.6 1366.9,562.6 1370,565.6 1373,569.2 1376.1,578.3 1379.2,588.3 1382.3,592.3 1385.4,595.2 1388.4,600 1391.5,606.5 1394.6,608 1397.7,606.4 1400.8,606.1 1403.8,602.6 1406.9,600.3 1410,599.8 1413.1,601.5 1416.1,605.7 1419.2,606 1422.3,603.3 1425.4,601.4 1428.5,600.3 1431.5,600.4 1434.6,601.6 1437.7,601.4 1440.8,599.2 1443.9,599.7 1446.9,600.4 1450,599.2 1453.1,596.1 1456.2,597.3 1459.3,599.7 1462.3,603 1465.4,610 1468.5,618.8 1471.6,628.8 1474.6,639.5 1477.7,650.8 1480.8,664.6 1483.9,677.5 1487,682.7 1490,684 1493.1,686.3 1496.2,689.9 1499.3,688.6 1502.4,688.3 1505.4,689.3 1508.5,684.5 1511.6,682.2 1514.7,686 1517.8,688.5 1520.8,690.1 1523.9,690.8 1527,690.6 1530.1,689.7 1533.1,687.9 1536.2,684.5 1539.3,678.4 1542.4,669.6 1545.5,656.9 1548.5,652.5 1551.6,655.1 1554.7,658.3 1557.8,662 1560.9,663.9 1563.9,666.3 1567,669.2 1570.1,670.5 1573.2,672.7 1576.3,668.6 1579.3,666.5 1582.4,664.9 1585.5,663.9 1588.6,666.1 1591.6,667.1 1594.7,666.9 1597.8,666.4 1600.9,666.6 1604,667.4 1607,668.9 1610.1,671 1613.2,673.6 1616.3,670.7 1617.8,667.5" class="bd"/><rect x="1311.9" y="518.4" width="2.2" height="30.4" fill="#ff0000"/><rect x="1315" y="518.4" width="2.2" height="11.3" fill="#00ffff"/><rect x="1318.1" y="499.4" width="2.2" height="30.4" fill="#ff0000"/><rect x="1321.1" y="469" width="2.2" height="30.4" fill="#ff0000"/><rect x="1324.2" y="469" width="2.2" height="11.3" fill="#00ffff"/><rect x="1327.3" y="480.3" width="2.2" height="11.3" fill="#00ffff"/><rect x="1330.4" y="491.6" width="2.2" height="11.3" fill="#00ffff"/><rect x="1333.5" y="472.5" width="2.2" height="30.4" fill="#ff0000"/><rect x="1336.5" y="472.5" width="2.2" height="11.3" fill="#00ffff"/><rect x="1339.6" y="483.8" width="2.2" height="11.3" fill="#00ffff"/><rect x="1342.7" y="495.1" width="2.2" height="11.3" fill="#00ffff"/><rect x="1345.8" y="506.4" width="2.2" height="11.3" fill="#00ffff"/><rect x="1348.8" y="517.6" width="2.2" height="11.3" fill="#00ffff"/><rect x="1351.9" y="528.9" width="2.2" height="11.3" fill="#00ffff"/><rect x="1355" y="540.2" width="2.2" height="11.3" fill="#00ffff"/><rect x="1358.1" y="521.1" width="2.2" height="30.4" fill="#ff0000"/><rect x="1361.2" y="521.1" width="2.2" height="11.3" fill="#00ffff"/><rect x="1364.2" y="532.4" width="2.2" height="11.3" fill="#00ffff"/><rect x="1367.3" y="543.7" width="2.2" height="11.3" fill="#00ffff"/><rect x="1370.4" y="555" width="2.2" height="11.3" fill="#00ffff"/><rect x="1373.5" y="566.3" width="2.2" height="11.3" fill="#00ffff"/><rect x="1376.6" y="577.5" width="2.2" height="11.3" fill="#00ffff"/><rect x="1379.6" y="558.5" width="2.2" height="30.4" fill="#ff0000"/><rect x="1382.7" y="558.5" width="2.2" height="11.3" fill="#00ffff"/><rect x="1385.8" y="569.8" width="2.2" height="11.3" fill="#00ffff"/><rect x="1388.9" y="581" width="2.2" height="11.3" fill="#00ffff"/><rect x="1392" y="562" width="2.2" height="30.4" fill="#ff0000"/><rect x="1395" y="562" width="2.2" height="11.3" fill="#00ffff"/><rect x="1398.1" y="573.3" width="2.2" height="11.3" fill="#00ffff"/><rect x="1401.2" y="554.2" width="2.2" height="30.4" fill="#ff0000"/><rect x="1404.3" y="554.2" width="2.2" height="11.3" fill="#00ffff"/><rect x="1407.3" y="565.5" width="2.2" height="11.3" fill="#00ffff"/><rect x="1410.4" y="576.8" width="2.2" height="11.3" fill="#00ffff"/><rect x="1413.5" y="588" width="2.2" height="11.3" fill="#00ffff"/><rect x="1416.6" y="569" width="2.2" height="30.4" fill="#ff0000"/><rect x="1419.7" y="538.6" width="2.2" height="30.4" fill="#ff0000"/><rect x="1422.7" y="538.6" width="2.2" height="11.3" fill="#00ffff"/><rect x="1425.8" y="549.9" width="2.2" height="11.3" fill="#00ffff"/><rect x="1428.9" y="561.2" width="2.2" height="11.3" fill="#00ffff"/><rect x="1432" y="572.5" width="2.2" height="11.3" fill="#00ffff"/><rect x="1435.1" y="553.4" width="2.2" height="30.4" fill="#ff0000"/><rect x="1438.1" y="553.4" width="2.2" height="11.3" fill="#00ffff"/><rect x="1441.2" y="564.7" width="2.2" height="11.3" fill="#00ffff"/><rect x="1444.3" y="545.6" width="2.2" height="30.4" fill="#ff0000"/><rect x="1447.4" y="545.6" width="2.2" height="11.3" fill="#00ffff"/><rect x="1450.5" y="556.9" width="2.2" height="11.3" fill="#00ffff"/><rect x="1453.5" y="568.2" width="2.2" height="11.3" fill="#00ffff"/><rect x="1456.6" y="579.5" width="2.2" height="11.3" fill="#00ffff"/><rect x="1459.7" y="590.7" width="2.2" height="11.3" fill="#00ffff"/><rect x="1462.8" y="602" width="2.2" height="11.3" fill="#00ffff"/><rect x="1465.9" y="613.3" width="2.2" height="11.3" fill="#00ffff"/><rect x="1468.9" y="624.6" width="2.2" height="11.3" fill="#00ffff"/><rect x="1472" y="635.9" width="2.2" height="11.3" fill="#00ffff"/><rect x="1475.1" y="647.2" width="2.2" height="11.3" fill="#00ffff"/><rect x="1478.2" y="658.4" width="2.2" height="11.3" fill="#00ffff"/><rect x="1481.2" y="669.7" width="2.2" height="11.3" fill="#00ffff"/><rect x="1484.3" y="650.7" width="2.2" height="30.4" fill="#ff0000"/><rect x="1487.4" y="620.3" width="2.2" height="30.4" fill="#ff0000"/><rect x="1490.5" y="620.3" width="2.2" height="11.3" fill="#00ffff"/><rect x="1493.6" y="631.6" width="2.2" height="11.3" fill="#00ffff"/><rect x="1496.6" y="612.5" width="2.2" height="30.4" fill="#ff0000"/><rect x="1499.7" y="612.5" width="2.2" height="11.3" fill="#00ffff"/><rect x="1502.8" y="623.8" width="2.2" height="11.3" fill="#00ffff"/><rect x="1505.9" y="604.7" width="2.2" height="30.4" fill="#ff0000"/><rect x="1509" y="574.4" width="2.2" height="30.4" fill="#ff0000"/><rect x="1512" y="544" width="2.2" height="30.4" fill="#ff0000"/><rect x="1515.1" y="544" width="2.2" height="11.3" fill="#00ffff"/><rect x="1518.2" y="555.3" width="2.2" height="11.3" fill="#00ffff"/><rect x="1521.3" y="566.6" width="2.2" height="11.3" fill="#00ffff"/><rect x="1524.4" y="577.9" width="2.2" height="11.3" fill="#00ffff"/><rect x="1527.4" y="589.2" width="2.2" height="11.3" fill="#00ffff"/><rect x="1530.5" y="600.4" width="2.2" height="11.3" fill="#00ffff"/><rect x="1533.6" y="581.4" width="2.2" height="30.4" fill="#ff0000"/><rect x="1536.7" y="581.4" width="2.2" height="11.3" fill="#00ffff"/><rect x="1539.7" y="592.7" width="2.2" height="11.3" fill="#00ffff"/><rect x="1542.8" y="603.9" width="2.2" height="11.3" fill="#00ffff"/><rect x="1545.9" y="615.2" width="2.2" height="11.3" fill="#00ffff"/><rect x="1549" y="626.5" width="2.2" height="11.3" fill="#00ffff"/><rect x="1552.1" y="637.8" width="2.2" height="11.3" fill="#00ffff"/><rect x="1555.1" y="649.1" width="2.2" height="11.3" fill="#00ffff"/><rect x="1558.2" y="630" width="2.2" height="30.4" fill="#ff0000"/><rect x="1561.3" y="630" width="2.2" height="11.3" fill="#00ffff"/><rect x="1564.4" y="641.3" width="2.2" height="11.3" fill="#00ffff"/><rect x="1567.5" y="622.2" width="2.2" height="30.4" fill="#ff0000"/><rect x="1570.5" y="622.2" width="2.2" height="11.3" fill="#00ffff"/><rect x="1573.6" y="603.2" width="2.2" height="30.4" fill="#ff0000"/><rect x="1576.7" y="572.8" width="2.2" height="30.4" fill="#ff0000"/><rect x="1579.8" y="572.8" width="2.2" height="11.3" fill="#00ffff"/><rect x="1582.9" y="584.1" width="2.2" height="11.3" fill="#00ffff"/><rect x="1585.9" y="565" width="2.2" height="30.4" fill="#ff0000"/><rect x="1589" y="565" width="2.2" height="11.3" fill="#00ffff"/><rect x="1592.1" y="576.3" width="2.2" height="11.3" fill="#00ffff"/><rect x="1595.2" y="587.6" width="2.2" height="11.3" fill="#00ffff"/><rect x="1598.2" y="598.9" width="2.2" height="11.3" fill="#00ffff"/><rect x="1601.3" y="610.1" width="2.2" height="11.3" fill="#00ffff"/><rect x="1604.4" y="621.4" width="2.2" height="11.3" fill="#00ffff"/><rect x="1607.5" y="632.7" width="2.2" height="11.3" fill="#00ffff"/><rect x="1610.6" y="644" width="2.2" height="11.3" fill="#00ffff"/><rect x="1613.6" y="624.9" width="2.2" height="30.4" fill="#ff0000"/><rect x="1616.7" y="594.6" width="2.2" height="30.4" fill="#ff0000"/><rect x="1311.9" y="707.6" width="2.2" height="14.1" fill="#ff0000"/><rect x="1315" y="705.8" width="2.2" height="15.9" fill="#ff0000"/><rect x="1318.1" y="702.2" width="2.2" height="19.5" fill="#ff0000"/><rect x="1321.1" y="697.6" width="2.2" height="24" fill="#ff0000"/><rect x="1324.2" y="697" width="2.2" height="24.7" fill="#ff0000"/><rect x="1327.3" y="698.9" width="2.2" height="22.8" fill="#00ffff"/><rect x="1330.4" y="702.3" width="2.2" height="19.4" fill="#00ffff"/><rect x="1333.5" y="702.3" width="2.2" height="19.3" fill="#00ffff"/><rect x="1336.5" y="704.5" width="2.2" height="17.2" fill="#00ffff"/><rect x="1339.6" y="708" width="2.2" height="13.7" fill="#00ffff"/><rect x="1342.7" y="712" width="2.2" height="9.7" fill="#00ffff"/><rect x="1345.8" y="716.3" width="2.2" height="5.4" fill="#00ffff"/><rect x="1348.8" y="720.5" width="2.2" height="1.2" fill="#00ffff"/><rect x="1351.9" y="721.7" width="2.2" height="2.7" fill="#00ffff"/><rect x="1355" y="721.7" width="2.2" height="6.3" fill="#00ffff"/><rect x="1358.1" y="721.7" width="2.2" height="5.2" fill="#ff0000"/><rect x="1361.2" y="721.7" width="2.2" height="5.5" fill="#00ffff"/><rect x="1364.2" y="721.7" width="2.2" height="6.6" fill="#00ffff"/><rect x="1367.3" y="721.7" width="2.2" height="8.1" fill="#00ffff"/><rect x="1370.4" y="721.7" width="2.2" height="9.7" fill="#00ffff"/><rect x="1373.5" y="721.7" width="2.2" height="11.4" fill="#00ffff"/><rect x="1376.6" y="721.7" width="2.2" height="12.9" fill="#00ffff"/><rect x="1379.6" y="721.7" width="2.2" height="10.2" fill="#ff0000"/><rect x="1382.7" y="721.7" width="2.2" height="8.9" fill="#ff0000"/><rect x="1385.8" y="721.7" width="2.2" height="8.7" fill="#ff0000"/><rect x="1388.9" y="721.7" width="2.2" height="9.2" fill="#00ffff"/><rect x="1392" y="721.7" width="2.2" height="5.8" fill="#ff0000"/><rect x="1395" y="721.7" width="2.2" height="4.3" fill="#ff0000"/><rect x="1398.1" y="721.7" width="2.2" height="4.2" fill="#ff0000"/><rect x="1401.2" y="721.2" width="2.2" height="1" fill="#ff0000"/><rect x="1404.3" y="721.2" width="2.2" height="1" fill="#ff0000"/><rect x="1407.3" y="721.2" width="2.2" height="1" fill="#00ffff"/><rect x="1410.4" y="721.2" width="2.2" height="1" fill="#00ffff"/><rect x="1413.5" y="721.7" width="2.2" height="2.3" fill="#00ffff"/><rect x="1416.6" y="721.2" width="2.2" height="1" fill="#ff0000"/><rect x="1419.7" y="717" width="2.2" height="4.7" fill="#ff0000"/><rect x="1422.7" y="715.3" width="2.2" height="6.4" fill="#ff0000"/><rect x="1425.8" y="715.6" width="2.2" height="6.1" fill="#00ffff"/><rect x="1428.9" y="717" width="2.2" height="4.7" fill="#00ffff"/><rect x="1432" y="719.2" width="2.2" height="2.5" fill="#00ffff"/><rect x="1435.1" y="717.5" width="2.2" height="4.2" fill="#ff0000"/><rect x="1438.1" y="717.7" width="2.2" height="4" fill="#00ffff"/><rect x="1441.2" y="719.1" width="2.2" height="2.6" fill="#00ffff"/><rect x="1444.3" y="717" width="2.2" height="4.7" fill="#ff0000"/><rect x="1447.4" y="716.9" width="2.2" height="4.8" fill="#ff0000"/><rect x="1450.5" y="718.2" width="2.2" height="3.5" fill="#00ffff"/><rect x="1453.5" y="720.2" width="2.2" height="1.5" fill="#00ffff"/><rect x="1456.6" y="721.2" width="2.2" height="1" fill="#00ffff"/><rect x="1459.7" y="721.7" width="2.2" height="3.5" fill="#00ffff"/><rect x="1462.8" y="721.7" width="2.2" height="6" fill="#00ffff"/><rect x="1465.9" y="721.7" width="2.2" height="8.2" fill="#00ffff"/><rect x="1468.9" y="721.7" width="2.2" height="10.3" fill="#00ffff"/><rect x="1472" y="721.7" width="2.2" height="12" fill="#00ffff"/><rect x="1475.1" y="721.7" width="2.2" height="13.4" fill="#00ffff"/><rect x="1478.2" y="721.7" width="2.2" height="14.6" fill="#00ffff"/><rect x="1481.2" y="721.7" width="2.2" height="15.4" fill="#00ffff"/><rect x="1484.3" y="721.7" width="2.2" height="11.9" fill="#ff0000"/><rect x="1487.4" y="721.7" width="2.2" height="5.7" fill="#ff0000"/><rect x="1490.5" y="721.7" width="2.2" height="2.4" fill="#ff0000"/><rect x="1493.6" y="721.2" width="2.2" height="1" fill="#ff0000"/><rect x="1496.6" y="718.4" width="2.2" height="3.3" fill="#ff0000"/><rect x="1499.7" y="716.8" width="2.2" height="4.9" fill="#ff0000"/><rect x="1502.8" y="716.8" width="2.2" height="4.8" fill="#00ffff"/><rect x="1505.9" y="713.8" width="2.2" height="7.9" fill="#ff0000"/><rect x="1509" y="709.1" width="2.2" height="12.6" fill="#ff0000"/><rect x="1512" y="703.5" width="2.2" height="18.2" fill="#ff0000"/><rect x="1515.1" y="701.9" width="2.2" height="19.8" fill="#ff0000"/><rect x="1518.2" y="702.9" width="2.2" height="18.8" fill="#00ffff"/><rect x="1521.3" y="705.6" width="2.2" height="16.1" fill="#00ffff"/><rect x="1524.4" y="709.2" width="2.2" height="12.5" fill="#00ffff"/><rect x="1527.4" y="713.2" width="2.2" height="8.5" fill="#00ffff"/><rect x="1530.5" y="717.2" width="2.2" height="4.4" fill="#00ffff"/><rect x="1533.6" y="717" width="2.2" height="4.7" fill="#ff0000"/><rect x="1536.7" y="718.2" width="2.2" height="3.5" fill="#00ffff"/><rect x="1539.7" y="720.3" width="2.2" height="1.4" fill="#00ffff"/><rect x="1542.8" y="721.7" width="2.2" height="1.2" fill="#00ffff"/><rect x="1545.9" y="721.7" width="2.2" height="3.8" fill="#00ffff"/><rect x="1549" y="721.7" width="2.2" height="6.5" fill="#00ffff"/><rect x="1552.1" y="721.7" width="2.2" height="8.9" fill="#00ffff"/><rect x="1555.1" y="721.7" width="2.2" height="11" fill="#00ffff"/><rect x="1558.2" y="721.7" width="2.2" height="8.7" fill="#ff0000"/><rect x="1561.3" y="721.7" width="2.2" height="7.9" fill="#ff0000"/><rect x="1564.4" y="721.7" width="2.2" height="8" fill="#00ffff"/><rect x="1567.5" y="721.7" width="2.2" height="4.5" fill="#ff0000"/><rect x="1570.5" y="721.7" width="2.2" height="3.1" fill="#ff0000"/><rect x="1573.6" y="720.6" width="2.2" height="1.1" fill="#ff0000"/><rect x="1576.7" y="714.8" width="2.2" height="6.9" fill="#ff0000"/><rect x="1579.8" y="712.6" width="2.2" height="9.1" fill="#ff0000"/><rect x="1582.9" y="712.8" width="2.2" height="8.9" fill="#00ffff"/><rect x="1585.9" y="710.2" width="2.2" height="11.5" fill="#ff0000"/><rect x="1589" y="710.3" width="2.2" height="11.4" fill="#00ffff"/><rect x="1592.1" y="712.1" width="2.2" height="9.6" fill="#00ffff"/><rect x="1595.2" y="714.8" width="2.2" height="6.8" fill="#00ffff"/><rect x="1598.2" y="718.1" width="2.2" height="3.6" fill="#00ffff"/><rect x="1601.3" y="721.2" width="2.2" height="1" fill="#00ffff"/><rect x="1604.4" y="721.7" width="2.2" height="3.1" fill="#00ffff"/><rect x="1607.5" y="721.7" width="2.2" height="6.1" fill="#00ffff"/><rect x="1610.6" y="721.7" width="2.2" height="8.9" fill="#00ffff"/><rect x="1613.6" y="721.7" width="2.2" height="7.1" fill="#ff0000"/><rect x="1616.7" y="721.7" width="2.2" height="2.5" fill="#ff0000"/><polyline points="1313,744.2 1316.1,738.4 1319.2,729.9 1322.2,719.4 1325.3,712.5 1328.4,708.7 1331.5,707.3 1334.6,702.5 1337.6,700.4 1340.7,700.4 1343.8,702 1346.9,705 1349.9,708.9 1353,713.5 1356.1,718.6 1359.2,718.8 1362.3,720.5 1365.3,723.2 1368.4,726.7 1371.5,730.8 1374.6,735.3 1377.7,740.1 1380.7,739.9 1383.8,740.9 1386.9,742.9 1390,745.6 1393.1,743.6 1396.1,743.3 1399.2,744.2 1402.3,740.8 1405.4,739.4 1408.4,739.5 1411.5,740.7 1414.6,742.9 1417.7,740.6 1420.8,734.8 1423.8,731.5 1426.9,730.2 1430,730.5 1433.1,732 1436.2,729.3 1439.2,728.6 1442.3,729.3 1445.4,725.9 1448.5,724.7 1451.6,725.1 1454.6,726.8 1457.7,729.5 1460.8,732.9 1463.9,736.8 1467,741.2 1470,745.7 1473.1,750.5 1476.2,755.3 1479.3,760 1482.3,764.7 1485.4,764.2 1488.5,759.4 1491.6,756.7 1494.7,755.6 1497.7,750.5 1500.8,747.6 1503.9,746.5 1507,741.5 1510.1,733.6 1513.1,723.5 1516.2,716.9 1519.3,713.3 1522.4,711.9 1525.5,712.3 1528.5,714.2 1531.6,717.2 1534.7,715.8 1537.8,716.1 1540.8,717.9 1543.9,720.7 1547,724.3 1550.1,728.6 1553.2,733.2 1556.2,738.1 1559.3,738 1562.4,739.1 1565.5,741.2 1568.6,738.8 1571.6,738.2 1574.7,733.7 1577.8,726.3 1580.9,721.8 1584,719.7 1587,714.3 1590.1,711.5 1593.2,710.9 1596.3,712 1599.3,714.3 1602.4,717.6 1605.5,721.7 1608.6,726.3 1611.7,731.2 1614.7,731.2 1617.8,727.3" class="dw"/><polyline points="1313,758.3 1316.1,754.3 1319.2,749.4 1322.2,743.4 1325.3,737.2 1328.4,731.5 1331.5,726.7 1334.6,721.8 1337.6,717.5 1340.7,714.1 1343.8,711.7 1346.9,710.4 1349.9,710.1 1353,710.7 1356.1,712.3 1359.2,713.6 1362.3,715 1365.3,716.6 1368.4,718.6 1371.5,721.1 1374.6,723.9 1377.7,727.2 1380.7,729.7 1383.8,731.9 1386.9,734.1 1390,736.4 1393.1,737.9 1396.1,738.9 1399.2,740 1402.3,740.2 1405.4,740 1408.4,739.9 1411.5,740.1 1414.6,740.6 1417.7,740.6 1420.8,739.5 1423.8,737.9 1426.9,736.3 1430,735.2 1433.1,734.5 1436.2,733.5 1439.2,732.5 1442.3,731.9 1445.4,730.7 1448.5,729.5 1451.6,728.6 1454.6,728.2 1457.7,728.5 1460.8,729.4 1463.9,730.9 1467,732.9 1470,735.5 1473.1,738.5 1476.2,741.8 1479.3,745.5 1482.3,749.3 1485.4,752.3 1488.5,753.7 1491.6,754.3 1494.7,754.6 1497.7,753.7 1500.8,752.5 1503.9,751.3 1507,749.3 1510.1,746.2 1513.1,741.6 1516.2,736.7 1519.3,732 1522.4,728 1525.5,724.9 1528.5,722.7 1531.6,721.6 1534.7,720.4 1537.8,719.6 1540.8,719.2 1543.9,719.5 1547,720.5 1550.1,722.1 1553.2,724.3 1556.2,727.1 1559.3,729.3 1562.4,731.2 1565.5,733.2 1568.6,734.4 1571.6,735.1 1574.7,734.8 1577.8,733.1 1580.9,730.9 1584,728.6 1587,725.8 1590.1,722.9 1593.2,720.5 1596.3,718.8 1599.3,717.9 1602.4,717.8 1605.5,718.6 1608.6,720.1 1611.7,722.4 1614.7,724.1 1617.8,724.8" class="dg"/><rect x="1310.4" y="442" width="2" height="329.5" fill="#a80000"/><rect x="1310.4" y="770.5" width="309.6" height="1.5" fill="#c80000"/></g>
</svg></body></html>
